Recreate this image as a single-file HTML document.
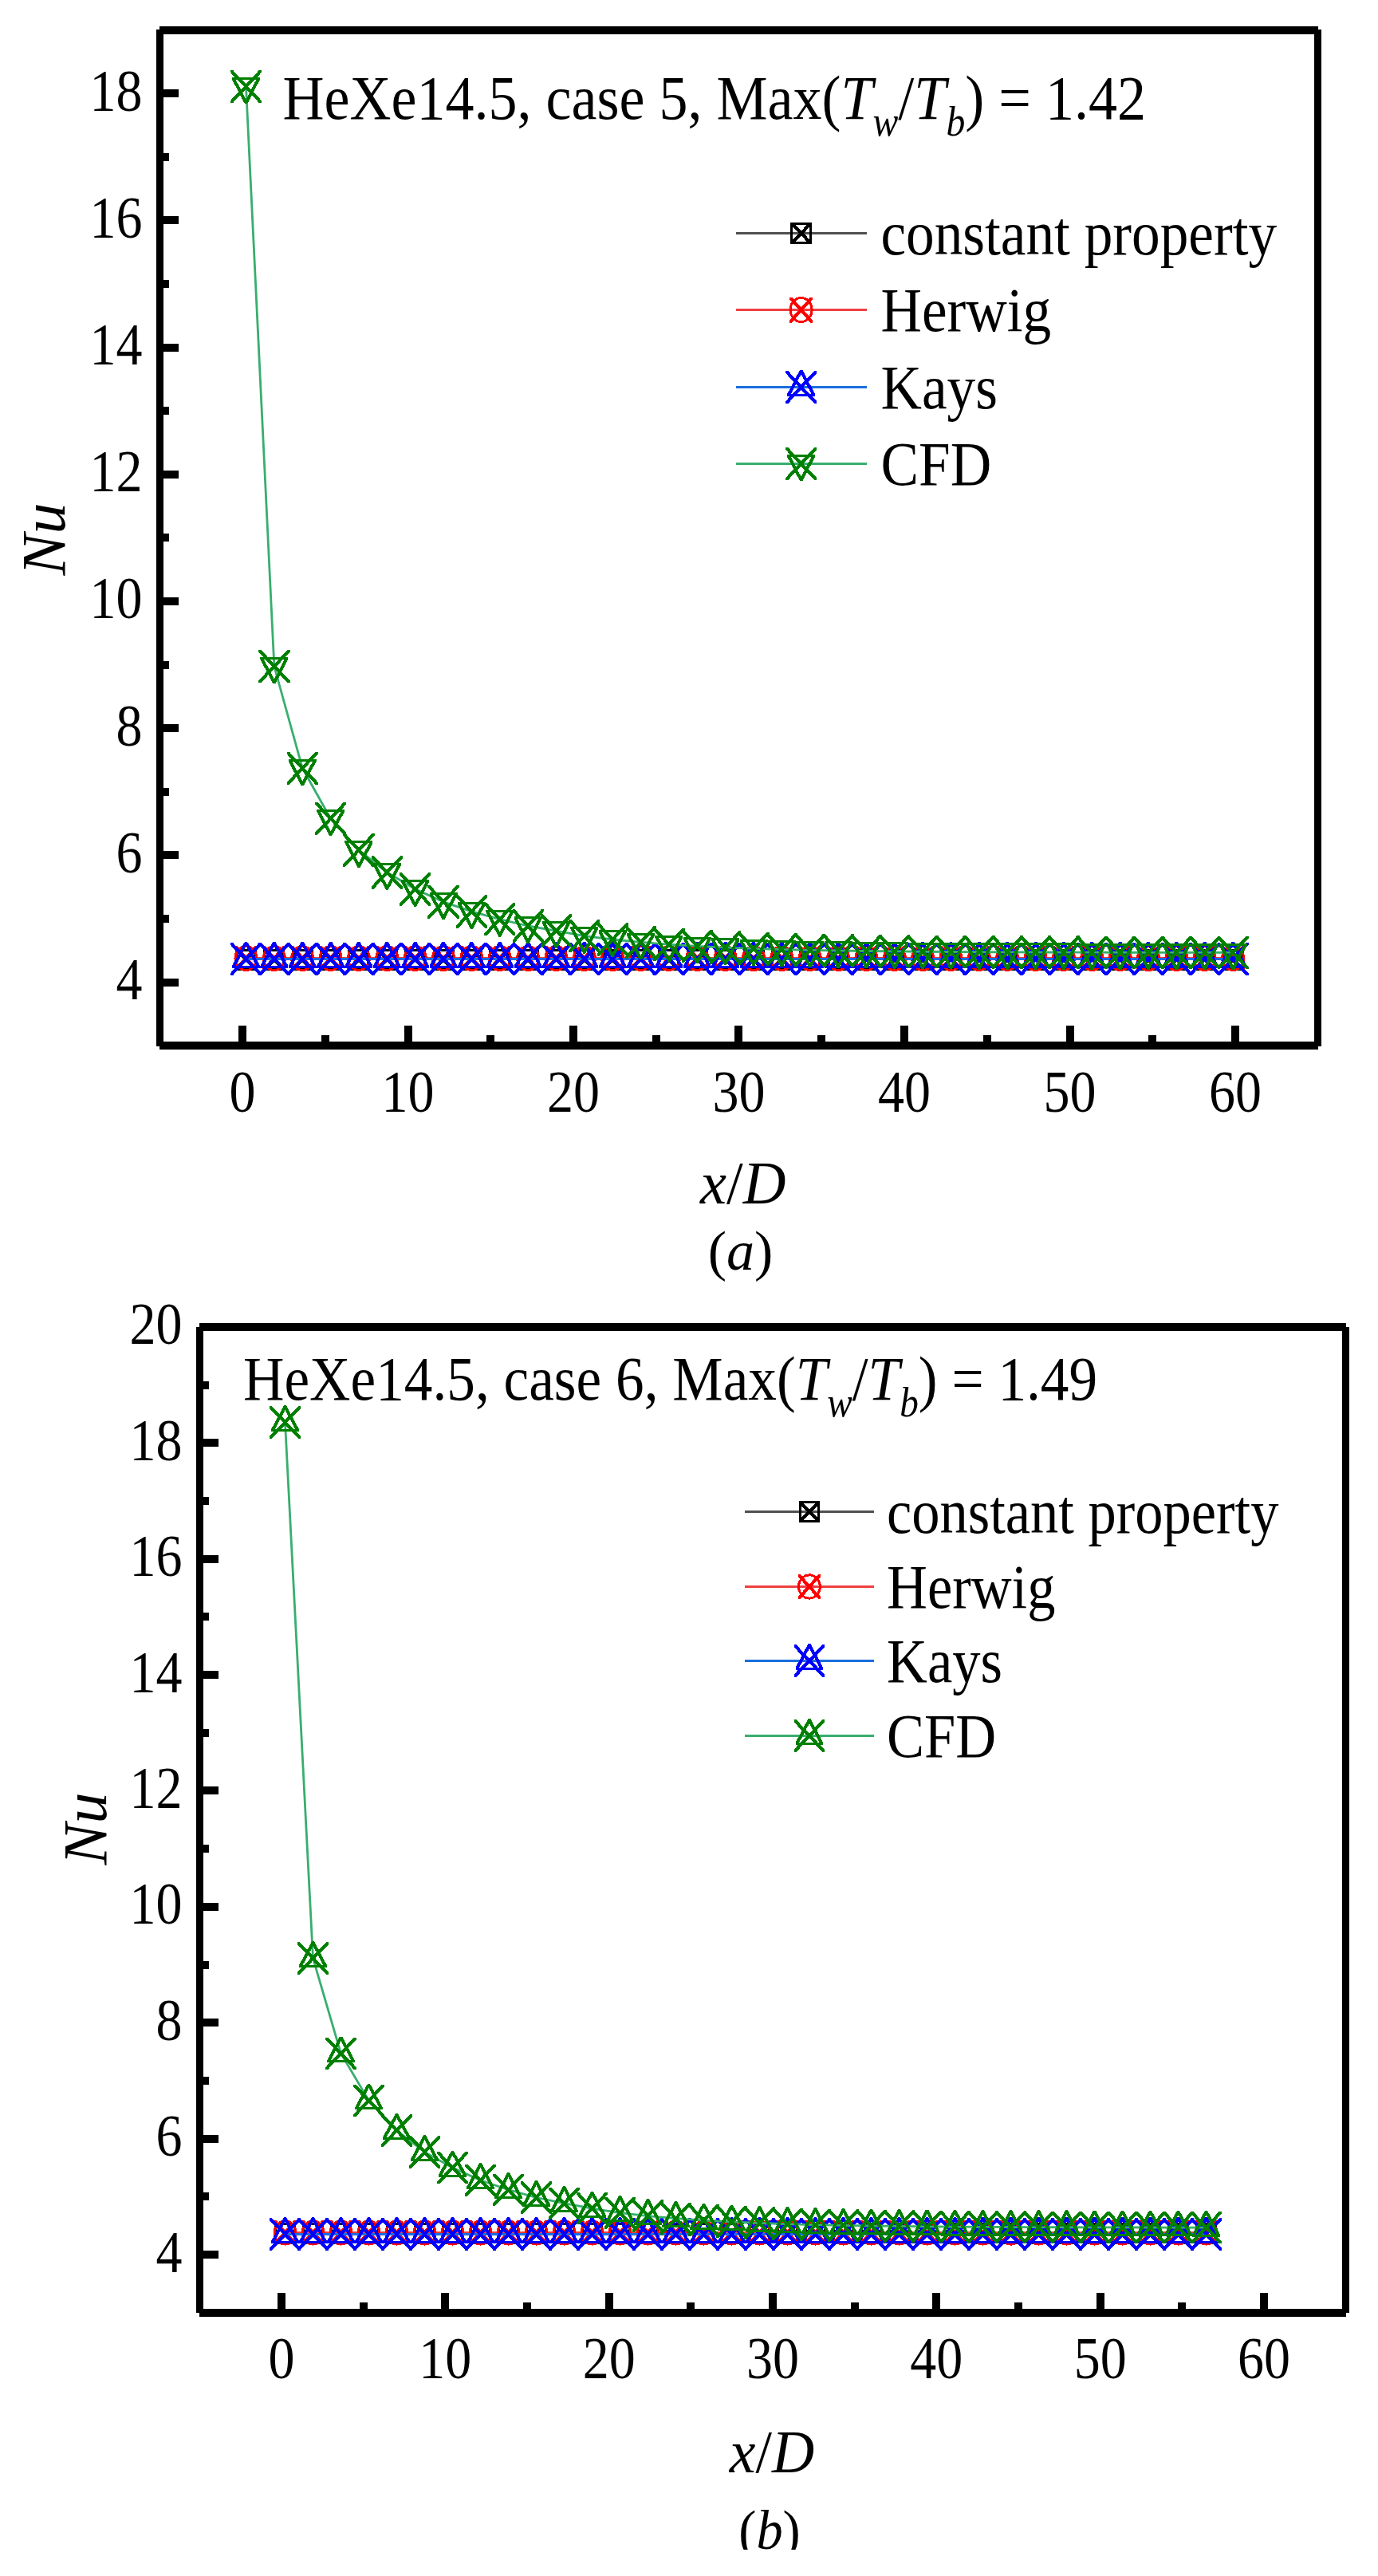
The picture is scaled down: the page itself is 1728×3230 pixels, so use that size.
<!DOCTYPE html>
<html lang="en"><head><meta charset="utf-8"><title>Nu vs x/D</title>
<style>html,body{margin:0;padding:0;background:#fff}svg{display:block}text{font-kerning:none;font-variant-ligatures:none;white-space:pre}</style></head>
<body>
<svg width="1728" height="3230" viewBox="0 0 1728 3230" font-family='"Liberation Serif", serif' fill="#000">
<rect width="1728" height="3230" fill="#fff"/>
<path d="M308.50 1202.50L343.86 1202.50L379.22 1202.50L414.58 1202.50L449.94 1202.50L485.30 1202.50L520.66 1202.50L556.02 1202.50L591.38 1202.50L626.74 1202.50L662.10 1202.50L697.46 1202.50L732.82 1202.50L768.18 1202.50L803.54 1202.50L838.90 1202.50L874.26 1202.50L909.62 1202.50L944.98 1202.50L980.34 1202.50L1015.70 1202.50L1051.06 1202.50L1086.42 1202.50L1121.78 1202.50L1157.14 1202.50L1192.50 1202.50L1227.86 1202.50L1263.22 1202.50L1298.58 1202.50L1333.94 1202.50L1369.30 1202.50L1404.66 1202.50L1440.02 1202.50L1475.38 1202.50L1510.74 1202.50L1546.10 1202.50" fill="none" stroke="#505050" stroke-width="3" stroke-linejoin="round"/>
<g fill="#000000" shape-rendering="crispEdges">
<path d="M295 1189.5L322 1189.5L322 1192.5L295 1192.5ZM319 1189.5L322 1189.5L322 1216.9L319 1216.9ZM295 1213.9L322 1213.9L322 1216.9L295 1216.9ZM295 1189.5L298 1189.5L298 1216.9L295 1216.9ZM295 1189.5L298 1189.5L322 1213.9L322 1216.9L319 1216.9L295 1192.5ZM295 1213.9L319 1189.5L322 1189.5L322 1192.5L298 1216.9L295 1216.9Z"/>
<path d="M330.4 1189.5L357.4 1189.5L357.4 1192.5L330.4 1192.5ZM354.4 1189.5L357.4 1189.5L357.4 1216.9L354.4 1216.9ZM330.4 1213.9L357.4 1213.9L357.4 1216.9L330.4 1216.9ZM330.4 1189.5L333.4 1189.5L333.4 1216.9L330.4 1216.9ZM330.4 1189.5L333.4 1189.5L357.4 1213.9L357.4 1216.9L354.4 1216.9L330.4 1192.5ZM330.4 1213.9L354.4 1189.5L357.4 1189.5L357.4 1192.5L333.4 1216.9L330.4 1216.9Z"/>
<path d="M365.7 1189.5L392.7 1189.5L392.7 1192.5L365.7 1192.5ZM389.7 1189.5L392.7 1189.5L392.7 1216.9L389.7 1216.9ZM365.7 1213.9L392.7 1213.9L392.7 1216.9L365.7 1216.9ZM365.7 1189.5L368.7 1189.5L368.7 1216.9L365.7 1216.9ZM365.7 1189.5L368.7 1189.5L392.7 1213.9L392.7 1216.9L389.7 1216.9L365.7 1192.5ZM365.7 1213.9L389.7 1189.5L392.7 1189.5L392.7 1192.5L368.7 1216.9L365.7 1216.9Z"/>
<path d="M401.1 1189.5L428.1 1189.5L428.1 1192.5L401.1 1192.5ZM425.1 1189.5L428.1 1189.5L428.1 1216.9L425.1 1216.9ZM401.1 1213.9L428.1 1213.9L428.1 1216.9L401.1 1216.9ZM401.1 1189.5L404.1 1189.5L404.1 1216.9L401.1 1216.9ZM401.1 1189.5L404.1 1189.5L428.1 1213.9L428.1 1216.9L425.1 1216.9L401.1 1192.5ZM401.1 1213.9L425.1 1189.5L428.1 1189.5L428.1 1192.5L404.1 1216.9L401.1 1216.9Z"/>
<path d="M436.4 1189.5L463.4 1189.5L463.4 1192.5L436.4 1192.5ZM460.4 1189.5L463.4 1189.5L463.4 1216.9L460.4 1216.9ZM436.4 1213.9L463.4 1213.9L463.4 1216.9L436.4 1216.9ZM436.4 1189.5L439.4 1189.5L439.4 1216.9L436.4 1216.9ZM436.4 1189.5L439.4 1189.5L463.4 1213.9L463.4 1216.9L460.4 1216.9L436.4 1192.5ZM436.4 1213.9L460.4 1189.5L463.4 1189.5L463.4 1192.5L439.4 1216.9L436.4 1216.9Z"/>
<path d="M471.8 1189.5L498.8 1189.5L498.8 1192.5L471.8 1192.5ZM495.8 1189.5L498.8 1189.5L498.8 1216.9L495.8 1216.9ZM471.8 1213.9L498.8 1213.9L498.8 1216.9L471.8 1216.9ZM471.8 1189.5L474.8 1189.5L474.8 1216.9L471.8 1216.9ZM471.8 1189.5L474.8 1189.5L498.8 1213.9L498.8 1216.9L495.8 1216.9L471.8 1192.5ZM471.8 1213.9L495.8 1189.5L498.8 1189.5L498.8 1192.5L474.8 1216.9L471.8 1216.9Z"/>
<path d="M507.2 1189.5L534.2 1189.5L534.2 1192.5L507.2 1192.5ZM531.2 1189.5L534.2 1189.5L534.2 1216.9L531.2 1216.9ZM507.2 1213.9L534.2 1213.9L534.2 1216.9L507.2 1216.9ZM507.2 1189.5L510.2 1189.5L510.2 1216.9L507.2 1216.9ZM507.2 1189.5L510.2 1189.5L534.2 1213.9L534.2 1216.9L531.2 1216.9L507.2 1192.5ZM507.2 1213.9L531.2 1189.5L534.2 1189.5L534.2 1192.5L510.2 1216.9L507.2 1216.9Z"/>
<path d="M542.5 1189.5L569.5 1189.5L569.5 1192.5L542.5 1192.5ZM566.5 1189.5L569.5 1189.5L569.5 1216.9L566.5 1216.9ZM542.5 1213.9L569.5 1213.9L569.5 1216.9L542.5 1216.9ZM542.5 1189.5L545.5 1189.5L545.5 1216.9L542.5 1216.9ZM542.5 1189.5L545.5 1189.5L569.5 1213.9L569.5 1216.9L566.5 1216.9L542.5 1192.5ZM542.5 1213.9L566.5 1189.5L569.5 1189.5L569.5 1192.5L545.5 1216.9L542.5 1216.9Z"/>
<path d="M577.9 1189.5L604.9 1189.5L604.9 1192.5L577.9 1192.5ZM601.9 1189.5L604.9 1189.5L604.9 1216.9L601.9 1216.9ZM577.9 1213.9L604.9 1213.9L604.9 1216.9L577.9 1216.9ZM577.9 1189.5L580.9 1189.5L580.9 1216.9L577.9 1216.9ZM577.9 1189.5L580.9 1189.5L604.9 1213.9L604.9 1216.9L601.9 1216.9L577.9 1192.5ZM577.9 1213.9L601.9 1189.5L604.9 1189.5L604.9 1192.5L580.9 1216.9L577.9 1216.9Z"/>
<path d="M613.2 1189.5L640.2 1189.5L640.2 1192.5L613.2 1192.5ZM637.2 1189.5L640.2 1189.5L640.2 1216.9L637.2 1216.9ZM613.2 1213.9L640.2 1213.9L640.2 1216.9L613.2 1216.9ZM613.2 1189.5L616.2 1189.5L616.2 1216.9L613.2 1216.9ZM613.2 1189.5L616.2 1189.5L640.2 1213.9L640.2 1216.9L637.2 1216.9L613.2 1192.5ZM613.2 1213.9L637.2 1189.5L640.2 1189.5L640.2 1192.5L616.2 1216.9L613.2 1216.9Z"/>
<path d="M648.6 1189.5L675.6 1189.5L675.6 1192.5L648.6 1192.5ZM672.6 1189.5L675.6 1189.5L675.6 1216.9L672.6 1216.9ZM648.6 1213.9L675.6 1213.9L675.6 1216.9L648.6 1216.9ZM648.6 1189.5L651.6 1189.5L651.6 1216.9L648.6 1216.9ZM648.6 1189.5L651.6 1189.5L675.6 1213.9L675.6 1216.9L672.6 1216.9L648.6 1192.5ZM648.6 1213.9L672.6 1189.5L675.6 1189.5L675.6 1192.5L651.6 1216.9L648.6 1216.9Z"/>
<path d="M684 1189.5L711 1189.5L711 1192.5L684 1192.5ZM708 1189.5L711 1189.5L711 1216.9L708 1216.9ZM684 1213.9L711 1213.9L711 1216.9L684 1216.9ZM684 1189.5L687 1189.5L687 1216.9L684 1216.9ZM684 1189.5L687 1189.5L711 1213.9L711 1216.9L708 1216.9L684 1192.5ZM684 1213.9L708 1189.5L711 1189.5L711 1192.5L687 1216.9L684 1216.9Z"/>
<path d="M719.3 1189.5L746.3 1189.5L746.3 1192.5L719.3 1192.5ZM743.3 1189.5L746.3 1189.5L746.3 1216.9L743.3 1216.9ZM719.3 1213.9L746.3 1213.9L746.3 1216.9L719.3 1216.9ZM719.3 1189.5L722.3 1189.5L722.3 1216.9L719.3 1216.9ZM719.3 1189.5L722.3 1189.5L746.3 1213.9L746.3 1216.9L743.3 1216.9L719.3 1192.5ZM719.3 1213.9L743.3 1189.5L746.3 1189.5L746.3 1192.5L722.3 1216.9L719.3 1216.9Z"/>
<path d="M754.7 1189.5L781.7 1189.5L781.7 1192.5L754.7 1192.5ZM778.7 1189.5L781.7 1189.5L781.7 1216.9L778.7 1216.9ZM754.7 1213.9L781.7 1213.9L781.7 1216.9L754.7 1216.9ZM754.7 1189.5L757.7 1189.5L757.7 1216.9L754.7 1216.9ZM754.7 1189.5L757.7 1189.5L781.7 1213.9L781.7 1216.9L778.7 1216.9L754.7 1192.5ZM754.7 1213.9L778.7 1189.5L781.7 1189.5L781.7 1192.5L757.7 1216.9L754.7 1216.9Z"/>
<path d="M790 1189.5L817 1189.5L817 1192.5L790 1192.5ZM814 1189.5L817 1189.5L817 1216.9L814 1216.9ZM790 1213.9L817 1213.9L817 1216.9L790 1216.9ZM790 1189.5L793 1189.5L793 1216.9L790 1216.9ZM790 1189.5L793 1189.5L817 1213.9L817 1216.9L814 1216.9L790 1192.5ZM790 1213.9L814 1189.5L817 1189.5L817 1192.5L793 1216.9L790 1216.9Z"/>
<path d="M825.4 1189.5L852.4 1189.5L852.4 1192.5L825.4 1192.5ZM849.4 1189.5L852.4 1189.5L852.4 1216.9L849.4 1216.9ZM825.4 1213.9L852.4 1213.9L852.4 1216.9L825.4 1216.9ZM825.4 1189.5L828.4 1189.5L828.4 1216.9L825.4 1216.9ZM825.4 1189.5L828.4 1189.5L852.4 1213.9L852.4 1216.9L849.4 1216.9L825.4 1192.5ZM825.4 1213.9L849.4 1189.5L852.4 1189.5L852.4 1192.5L828.4 1216.9L825.4 1216.9Z"/>
<path d="M860.8 1189.5L887.8 1189.5L887.8 1192.5L860.8 1192.5ZM884.8 1189.5L887.8 1189.5L887.8 1216.9L884.8 1216.9ZM860.8 1213.9L887.8 1213.9L887.8 1216.9L860.8 1216.9ZM860.8 1189.5L863.8 1189.5L863.8 1216.9L860.8 1216.9ZM860.8 1189.5L863.8 1189.5L887.8 1213.9L887.8 1216.9L884.8 1216.9L860.8 1192.5ZM860.8 1213.9L884.8 1189.5L887.8 1189.5L887.8 1192.5L863.8 1216.9L860.8 1216.9Z"/>
<path d="M896.1 1189.5L923.1 1189.5L923.1 1192.5L896.1 1192.5ZM920.1 1189.5L923.1 1189.5L923.1 1216.9L920.1 1216.9ZM896.1 1213.9L923.1 1213.9L923.1 1216.9L896.1 1216.9ZM896.1 1189.5L899.1 1189.5L899.1 1216.9L896.1 1216.9ZM896.1 1189.5L899.1 1189.5L923.1 1213.9L923.1 1216.9L920.1 1216.9L896.1 1192.5ZM896.1 1213.9L920.1 1189.5L923.1 1189.5L923.1 1192.5L899.1 1216.9L896.1 1216.9Z"/>
<path d="M931.5 1189.5L958.5 1189.5L958.5 1192.5L931.5 1192.5ZM955.5 1189.5L958.5 1189.5L958.5 1216.9L955.5 1216.9ZM931.5 1213.9L958.5 1213.9L958.5 1216.9L931.5 1216.9ZM931.5 1189.5L934.5 1189.5L934.5 1216.9L931.5 1216.9ZM931.5 1189.5L934.5 1189.5L958.5 1213.9L958.5 1216.9L955.5 1216.9L931.5 1192.5ZM931.5 1213.9L955.5 1189.5L958.5 1189.5L958.5 1192.5L934.5 1216.9L931.5 1216.9Z"/>
<path d="M966.8 1189.5L993.8 1189.5L993.8 1192.5L966.8 1192.5ZM990.8 1189.5L993.8 1189.5L993.8 1216.9L990.8 1216.9ZM966.8 1213.9L993.8 1213.9L993.8 1216.9L966.8 1216.9ZM966.8 1189.5L969.8 1189.5L969.8 1216.9L966.8 1216.9ZM966.8 1189.5L969.8 1189.5L993.8 1213.9L993.8 1216.9L990.8 1216.9L966.8 1192.5ZM966.8 1213.9L990.8 1189.5L993.8 1189.5L993.8 1192.5L969.8 1216.9L966.8 1216.9Z"/>
<path d="M1002.2 1189.5L1029.2 1189.5L1029.2 1192.5L1002.2 1192.5ZM1026.2 1189.5L1029.2 1189.5L1029.2 1216.9L1026.2 1216.9ZM1002.2 1213.9L1029.2 1213.9L1029.2 1216.9L1002.2 1216.9ZM1002.2 1189.5L1005.2 1189.5L1005.2 1216.9L1002.2 1216.9ZM1002.2 1189.5L1005.2 1189.5L1029.2 1213.9L1029.2 1216.9L1026.2 1216.9L1002.2 1192.5ZM1002.2 1213.9L1026.2 1189.5L1029.2 1189.5L1029.2 1192.5L1005.2 1216.9L1002.2 1216.9Z"/>
<path d="M1037.6 1189.5L1064.6 1189.5L1064.6 1192.5L1037.6 1192.5ZM1061.6 1189.5L1064.6 1189.5L1064.6 1216.9L1061.6 1216.9ZM1037.6 1213.9L1064.6 1213.9L1064.6 1216.9L1037.6 1216.9ZM1037.6 1189.5L1040.6 1189.5L1040.6 1216.9L1037.6 1216.9ZM1037.6 1189.5L1040.6 1189.5L1064.6 1213.9L1064.6 1216.9L1061.6 1216.9L1037.6 1192.5ZM1037.6 1213.9L1061.6 1189.5L1064.6 1189.5L1064.6 1192.5L1040.6 1216.9L1037.6 1216.9Z"/>
<path d="M1072.9 1189.5L1099.9 1189.5L1099.9 1192.5L1072.9 1192.5ZM1096.9 1189.5L1099.9 1189.5L1099.9 1216.9L1096.9 1216.9ZM1072.9 1213.9L1099.9 1213.9L1099.9 1216.9L1072.9 1216.9ZM1072.9 1189.5L1075.9 1189.5L1075.9 1216.9L1072.9 1216.9ZM1072.9 1189.5L1075.9 1189.5L1099.9 1213.9L1099.9 1216.9L1096.9 1216.9L1072.9 1192.5ZM1072.9 1213.9L1096.9 1189.5L1099.9 1189.5L1099.9 1192.5L1075.9 1216.9L1072.9 1216.9Z"/>
<path d="M1108.3 1189.5L1135.3 1189.5L1135.3 1192.5L1108.3 1192.5ZM1132.3 1189.5L1135.3 1189.5L1135.3 1216.9L1132.3 1216.9ZM1108.3 1213.9L1135.3 1213.9L1135.3 1216.9L1108.3 1216.9ZM1108.3 1189.5L1111.3 1189.5L1111.3 1216.9L1108.3 1216.9ZM1108.3 1189.5L1111.3 1189.5L1135.3 1213.9L1135.3 1216.9L1132.3 1216.9L1108.3 1192.5ZM1108.3 1213.9L1132.3 1189.5L1135.3 1189.5L1135.3 1192.5L1111.3 1216.9L1108.3 1216.9Z"/>
<path d="M1143.6 1189.5L1170.6 1189.5L1170.6 1192.5L1143.6 1192.5ZM1167.6 1189.5L1170.6 1189.5L1170.6 1216.9L1167.6 1216.9ZM1143.6 1213.9L1170.6 1213.9L1170.6 1216.9L1143.6 1216.9ZM1143.6 1189.5L1146.6 1189.5L1146.6 1216.9L1143.6 1216.9ZM1143.6 1189.5L1146.6 1189.5L1170.6 1213.9L1170.6 1216.9L1167.6 1216.9L1143.6 1192.5ZM1143.6 1213.9L1167.6 1189.5L1170.6 1189.5L1170.6 1192.5L1146.6 1216.9L1143.6 1216.9Z"/>
<path d="M1179 1189.5L1206 1189.5L1206 1192.5L1179 1192.5ZM1203 1189.5L1206 1189.5L1206 1216.9L1203 1216.9ZM1179 1213.9L1206 1213.9L1206 1216.9L1179 1216.9ZM1179 1189.5L1182 1189.5L1182 1216.9L1179 1216.9ZM1179 1189.5L1182 1189.5L1206 1213.9L1206 1216.9L1203 1216.9L1179 1192.5ZM1179 1213.9L1203 1189.5L1206 1189.5L1206 1192.5L1182 1216.9L1179 1216.9Z"/>
<path d="M1214.4 1189.5L1241.4 1189.5L1241.4 1192.5L1214.4 1192.5ZM1238.4 1189.5L1241.4 1189.5L1241.4 1216.9L1238.4 1216.9ZM1214.4 1213.9L1241.4 1213.9L1241.4 1216.9L1214.4 1216.9ZM1214.4 1189.5L1217.4 1189.5L1217.4 1216.9L1214.4 1216.9ZM1214.4 1189.5L1217.4 1189.5L1241.4 1213.9L1241.4 1216.9L1238.4 1216.9L1214.4 1192.5ZM1214.4 1213.9L1238.4 1189.5L1241.4 1189.5L1241.4 1192.5L1217.4 1216.9L1214.4 1216.9Z"/>
<path d="M1249.7 1189.5L1276.7 1189.5L1276.7 1192.5L1249.7 1192.5ZM1273.7 1189.5L1276.7 1189.5L1276.7 1216.9L1273.7 1216.9ZM1249.7 1213.9L1276.7 1213.9L1276.7 1216.9L1249.7 1216.9ZM1249.7 1189.5L1252.7 1189.5L1252.7 1216.9L1249.7 1216.9ZM1249.7 1189.5L1252.7 1189.5L1276.7 1213.9L1276.7 1216.9L1273.7 1216.9L1249.7 1192.5ZM1249.7 1213.9L1273.7 1189.5L1276.7 1189.5L1276.7 1192.5L1252.7 1216.9L1249.7 1216.9Z"/>
<path d="M1285.1 1189.5L1312.1 1189.5L1312.1 1192.5L1285.1 1192.5ZM1309.1 1189.5L1312.1 1189.5L1312.1 1216.9L1309.1 1216.9ZM1285.1 1213.9L1312.1 1213.9L1312.1 1216.9L1285.1 1216.9ZM1285.1 1189.5L1288.1 1189.5L1288.1 1216.9L1285.1 1216.9ZM1285.1 1189.5L1288.1 1189.5L1312.1 1213.9L1312.1 1216.9L1309.1 1216.9L1285.1 1192.5ZM1285.1 1213.9L1309.1 1189.5L1312.1 1189.5L1312.1 1192.5L1288.1 1216.9L1285.1 1216.9Z"/>
<path d="M1320.4 1189.5L1347.4 1189.5L1347.4 1192.5L1320.4 1192.5ZM1344.4 1189.5L1347.4 1189.5L1347.4 1216.9L1344.4 1216.9ZM1320.4 1213.9L1347.4 1213.9L1347.4 1216.9L1320.4 1216.9ZM1320.4 1189.5L1323.4 1189.5L1323.4 1216.9L1320.4 1216.9ZM1320.4 1189.5L1323.4 1189.5L1347.4 1213.9L1347.4 1216.9L1344.4 1216.9L1320.4 1192.5ZM1320.4 1213.9L1344.4 1189.5L1347.4 1189.5L1347.4 1192.5L1323.4 1216.9L1320.4 1216.9Z"/>
<path d="M1355.8 1189.5L1382.8 1189.5L1382.8 1192.5L1355.8 1192.5ZM1379.8 1189.5L1382.8 1189.5L1382.8 1216.9L1379.8 1216.9ZM1355.8 1213.9L1382.8 1213.9L1382.8 1216.9L1355.8 1216.9ZM1355.8 1189.5L1358.8 1189.5L1358.8 1216.9L1355.8 1216.9ZM1355.8 1189.5L1358.8 1189.5L1382.8 1213.9L1382.8 1216.9L1379.8 1216.9L1355.8 1192.5ZM1355.8 1213.9L1379.8 1189.5L1382.8 1189.5L1382.8 1192.5L1358.8 1216.9L1355.8 1216.9Z"/>
<path d="M1391.2 1189.5L1418.2 1189.5L1418.2 1192.5L1391.2 1192.5ZM1415.2 1189.5L1418.2 1189.5L1418.2 1216.9L1415.2 1216.9ZM1391.2 1213.9L1418.2 1213.9L1418.2 1216.9L1391.2 1216.9ZM1391.2 1189.5L1394.2 1189.5L1394.2 1216.9L1391.2 1216.9ZM1391.2 1189.5L1394.2 1189.5L1418.2 1213.9L1418.2 1216.9L1415.2 1216.9L1391.2 1192.5ZM1391.2 1213.9L1415.2 1189.5L1418.2 1189.5L1418.2 1192.5L1394.2 1216.9L1391.2 1216.9Z"/>
<path d="M1426.5 1189.5L1453.5 1189.5L1453.5 1192.5L1426.5 1192.5ZM1450.5 1189.5L1453.5 1189.5L1453.5 1216.9L1450.5 1216.9ZM1426.5 1213.9L1453.5 1213.9L1453.5 1216.9L1426.5 1216.9ZM1426.5 1189.5L1429.5 1189.5L1429.5 1216.9L1426.5 1216.9ZM1426.5 1189.5L1429.5 1189.5L1453.5 1213.9L1453.5 1216.9L1450.5 1216.9L1426.5 1192.5ZM1426.5 1213.9L1450.5 1189.5L1453.5 1189.5L1453.5 1192.5L1429.5 1216.9L1426.5 1216.9Z"/>
<path d="M1461.9 1189.5L1488.9 1189.5L1488.9 1192.5L1461.9 1192.5ZM1485.9 1189.5L1488.9 1189.5L1488.9 1216.9L1485.9 1216.9ZM1461.9 1213.9L1488.9 1213.9L1488.9 1216.9L1461.9 1216.9ZM1461.9 1189.5L1464.9 1189.5L1464.9 1216.9L1461.9 1216.9ZM1461.9 1189.5L1464.9 1189.5L1488.9 1213.9L1488.9 1216.9L1485.9 1216.9L1461.9 1192.5ZM1461.9 1213.9L1485.9 1189.5L1488.9 1189.5L1488.9 1192.5L1464.9 1216.9L1461.9 1216.9Z"/>
<path d="M1497.2 1189.5L1524.2 1189.5L1524.2 1192.5L1497.2 1192.5ZM1521.2 1189.5L1524.2 1189.5L1524.2 1216.9L1521.2 1216.9ZM1497.2 1213.9L1524.2 1213.9L1524.2 1216.9L1497.2 1216.9ZM1497.2 1189.5L1500.2 1189.5L1500.2 1216.9L1497.2 1216.9ZM1497.2 1189.5L1500.2 1189.5L1524.2 1213.9L1524.2 1216.9L1521.2 1216.9L1497.2 1192.5ZM1497.2 1213.9L1521.2 1189.5L1524.2 1189.5L1524.2 1192.5L1500.2 1216.9L1497.2 1216.9Z"/>
<path d="M1532.6 1189.5L1559.6 1189.5L1559.6 1192.5L1532.6 1192.5ZM1556.6 1189.5L1559.6 1189.5L1559.6 1216.9L1556.6 1216.9ZM1532.6 1213.9L1559.6 1213.9L1559.6 1216.9L1532.6 1216.9ZM1532.6 1189.5L1535.6 1189.5L1535.6 1216.9L1532.6 1216.9ZM1532.6 1189.5L1535.6 1189.5L1559.6 1213.9L1559.6 1216.9L1556.6 1216.9L1532.6 1192.5ZM1532.6 1213.9L1556.6 1189.5L1559.6 1189.5L1559.6 1192.5L1535.6 1216.9L1532.6 1216.9Z"/>
</g>
<path d="M308.50 1201.50L343.86 1201.50L379.22 1201.50L414.58 1201.50L449.94 1201.50L485.30 1201.50L520.66 1201.50L556.02 1201.50L591.38 1201.50L626.74 1201.50L662.10 1201.50L697.46 1201.50L732.82 1201.50L768.18 1201.50L803.54 1201.50L838.90 1201.50L874.26 1201.50L909.62 1201.50L944.98 1201.50L980.34 1201.50L1015.70 1201.50L1051.06 1201.50L1086.42 1201.50L1121.78 1201.50L1157.14 1201.50L1192.50 1201.50L1227.86 1201.50L1263.22 1201.50L1298.58 1201.50L1333.94 1201.50L1369.30 1201.50L1404.66 1201.50L1440.02 1201.50L1475.38 1201.50L1510.74 1201.50L1546.10 1201.50" fill="none" stroke="#ef4040" stroke-width="3" stroke-linejoin="round"/>
<g fill="#ff0000" shape-rendering="crispEdges">
<ellipse cx="308.5" cy="1201.5" rx="13.5" ry="15.0" fill="none" stroke="#ff0000" stroke-width="3"/><path d="M294 1185.5L297 1185.5L323 1214.5L323 1217.5L320 1217.5L294 1188.5ZM294 1214.5L320 1185.5L323 1185.5L323 1188.5L297 1217.5L294 1217.5Z"/>
<ellipse cx="343.9" cy="1201.5" rx="13.5" ry="15.0" fill="none" stroke="#ff0000" stroke-width="3"/><path d="M329.4 1185.5L332.4 1185.5L358.4 1214.5L358.4 1217.5L355.4 1217.5L329.4 1188.5ZM329.4 1214.5L355.4 1185.5L358.4 1185.5L358.4 1188.5L332.4 1217.5L329.4 1217.5Z"/>
<ellipse cx="379.2" cy="1201.5" rx="13.5" ry="15.0" fill="none" stroke="#ff0000" stroke-width="3"/><path d="M364.7 1185.5L367.7 1185.5L393.7 1214.5L393.7 1217.5L390.7 1217.5L364.7 1188.5ZM364.7 1214.5L390.7 1185.5L393.7 1185.5L393.7 1188.5L367.7 1217.5L364.7 1217.5Z"/>
<ellipse cx="414.6" cy="1201.5" rx="13.5" ry="15.0" fill="none" stroke="#ff0000" stroke-width="3"/><path d="M400.1 1185.5L403.1 1185.5L429.1 1214.5L429.1 1217.5L426.1 1217.5L400.1 1188.5ZM400.1 1214.5L426.1 1185.5L429.1 1185.5L429.1 1188.5L403.1 1217.5L400.1 1217.5Z"/>
<ellipse cx="449.9" cy="1201.5" rx="13.5" ry="15.0" fill="none" stroke="#ff0000" stroke-width="3"/><path d="M435.4 1185.5L438.4 1185.5L464.4 1214.5L464.4 1217.5L461.4 1217.5L435.4 1188.5ZM435.4 1214.5L461.4 1185.5L464.4 1185.5L464.4 1188.5L438.4 1217.5L435.4 1217.5Z"/>
<ellipse cx="485.3" cy="1201.5" rx="13.5" ry="15.0" fill="none" stroke="#ff0000" stroke-width="3"/><path d="M470.8 1185.5L473.8 1185.5L499.8 1214.5L499.8 1217.5L496.8 1217.5L470.8 1188.5ZM470.8 1214.5L496.8 1185.5L499.8 1185.5L499.8 1188.5L473.8 1217.5L470.8 1217.5Z"/>
<ellipse cx="520.7" cy="1201.5" rx="13.5" ry="15.0" fill="none" stroke="#ff0000" stroke-width="3"/><path d="M506.2 1185.5L509.2 1185.5L535.2 1214.5L535.2 1217.5L532.2 1217.5L506.2 1188.5ZM506.2 1214.5L532.2 1185.5L535.2 1185.5L535.2 1188.5L509.2 1217.5L506.2 1217.5Z"/>
<ellipse cx="556.0" cy="1201.5" rx="13.5" ry="15.0" fill="none" stroke="#ff0000" stroke-width="3"/><path d="M541.5 1185.5L544.5 1185.5L570.5 1214.5L570.5 1217.5L567.5 1217.5L541.5 1188.5ZM541.5 1214.5L567.5 1185.5L570.5 1185.5L570.5 1188.5L544.5 1217.5L541.5 1217.5Z"/>
<ellipse cx="591.4" cy="1201.5" rx="13.5" ry="15.0" fill="none" stroke="#ff0000" stroke-width="3"/><path d="M576.9 1185.5L579.9 1185.5L605.9 1214.5L605.9 1217.5L602.9 1217.5L576.9 1188.5ZM576.9 1214.5L602.9 1185.5L605.9 1185.5L605.9 1188.5L579.9 1217.5L576.9 1217.5Z"/>
<ellipse cx="626.7" cy="1201.5" rx="13.5" ry="15.0" fill="none" stroke="#ff0000" stroke-width="3"/><path d="M612.2 1185.5L615.2 1185.5L641.2 1214.5L641.2 1217.5L638.2 1217.5L612.2 1188.5ZM612.2 1214.5L638.2 1185.5L641.2 1185.5L641.2 1188.5L615.2 1217.5L612.2 1217.5Z"/>
<ellipse cx="662.1" cy="1201.5" rx="13.5" ry="15.0" fill="none" stroke="#ff0000" stroke-width="3"/><path d="M647.6 1185.5L650.6 1185.5L676.6 1214.5L676.6 1217.5L673.6 1217.5L647.6 1188.5ZM647.6 1214.5L673.6 1185.5L676.6 1185.5L676.6 1188.5L650.6 1217.5L647.6 1217.5Z"/>
<ellipse cx="697.5" cy="1201.5" rx="13.5" ry="15.0" fill="none" stroke="#ff0000" stroke-width="3"/><path d="M683 1185.5L686 1185.5L712 1214.5L712 1217.5L709 1217.5L683 1188.5ZM683 1214.5L709 1185.5L712 1185.5L712 1188.5L686 1217.5L683 1217.5Z"/>
<ellipse cx="732.8" cy="1201.5" rx="13.5" ry="15.0" fill="none" stroke="#ff0000" stroke-width="3"/><path d="M718.3 1185.5L721.3 1185.5L747.3 1214.5L747.3 1217.5L744.3 1217.5L718.3 1188.5ZM718.3 1214.5L744.3 1185.5L747.3 1185.5L747.3 1188.5L721.3 1217.5L718.3 1217.5Z"/>
<ellipse cx="768.2" cy="1201.5" rx="13.5" ry="15.0" fill="none" stroke="#ff0000" stroke-width="3"/><path d="M753.7 1185.5L756.7 1185.5L782.7 1214.5L782.7 1217.5L779.7 1217.5L753.7 1188.5ZM753.7 1214.5L779.7 1185.5L782.7 1185.5L782.7 1188.5L756.7 1217.5L753.7 1217.5Z"/>
<ellipse cx="803.5" cy="1201.5" rx="13.5" ry="15.0" fill="none" stroke="#ff0000" stroke-width="3"/><path d="M789 1185.5L792 1185.5L818 1214.5L818 1217.5L815 1217.5L789 1188.5ZM789 1214.5L815 1185.5L818 1185.5L818 1188.5L792 1217.5L789 1217.5Z"/>
<ellipse cx="838.9" cy="1201.5" rx="13.5" ry="15.0" fill="none" stroke="#ff0000" stroke-width="3"/><path d="M824.4 1185.5L827.4 1185.5L853.4 1214.5L853.4 1217.5L850.4 1217.5L824.4 1188.5ZM824.4 1214.5L850.4 1185.5L853.4 1185.5L853.4 1188.5L827.4 1217.5L824.4 1217.5Z"/>
<ellipse cx="874.3" cy="1201.5" rx="13.5" ry="15.0" fill="none" stroke="#ff0000" stroke-width="3"/><path d="M859.8 1185.5L862.8 1185.5L888.8 1214.5L888.8 1217.5L885.8 1217.5L859.8 1188.5ZM859.8 1214.5L885.8 1185.5L888.8 1185.5L888.8 1188.5L862.8 1217.5L859.8 1217.5Z"/>
<ellipse cx="909.6" cy="1201.5" rx="13.5" ry="15.0" fill="none" stroke="#ff0000" stroke-width="3"/><path d="M895.1 1185.5L898.1 1185.5L924.1 1214.5L924.1 1217.5L921.1 1217.5L895.1 1188.5ZM895.1 1214.5L921.1 1185.5L924.1 1185.5L924.1 1188.5L898.1 1217.5L895.1 1217.5Z"/>
<ellipse cx="945.0" cy="1201.5" rx="13.5" ry="15.0" fill="none" stroke="#ff0000" stroke-width="3"/><path d="M930.5 1185.5L933.5 1185.5L959.5 1214.5L959.5 1217.5L956.5 1217.5L930.5 1188.5ZM930.5 1214.5L956.5 1185.5L959.5 1185.5L959.5 1188.5L933.5 1217.5L930.5 1217.5Z"/>
<ellipse cx="980.3" cy="1201.5" rx="13.5" ry="15.0" fill="none" stroke="#ff0000" stroke-width="3"/><path d="M965.8 1185.5L968.8 1185.5L994.8 1214.5L994.8 1217.5L991.8 1217.5L965.8 1188.5ZM965.8 1214.5L991.8 1185.5L994.8 1185.5L994.8 1188.5L968.8 1217.5L965.8 1217.5Z"/>
<ellipse cx="1015.7" cy="1201.5" rx="13.5" ry="15.0" fill="none" stroke="#ff0000" stroke-width="3"/><path d="M1001.2 1185.5L1004.2 1185.5L1030.2 1214.5L1030.2 1217.5L1027.2 1217.5L1001.2 1188.5ZM1001.2 1214.5L1027.2 1185.5L1030.2 1185.5L1030.2 1188.5L1004.2 1217.5L1001.2 1217.5Z"/>
<ellipse cx="1051.1" cy="1201.5" rx="13.5" ry="15.0" fill="none" stroke="#ff0000" stroke-width="3"/><path d="M1036.6 1185.5L1039.6 1185.5L1065.6 1214.5L1065.6 1217.5L1062.6 1217.5L1036.6 1188.5ZM1036.6 1214.5L1062.6 1185.5L1065.6 1185.5L1065.6 1188.5L1039.6 1217.5L1036.6 1217.5Z"/>
<ellipse cx="1086.4" cy="1201.5" rx="13.5" ry="15.0" fill="none" stroke="#ff0000" stroke-width="3"/><path d="M1071.9 1185.5L1074.9 1185.5L1100.9 1214.5L1100.9 1217.5L1097.9 1217.5L1071.9 1188.5ZM1071.9 1214.5L1097.9 1185.5L1100.9 1185.5L1100.9 1188.5L1074.9 1217.5L1071.9 1217.5Z"/>
<ellipse cx="1121.8" cy="1201.5" rx="13.5" ry="15.0" fill="none" stroke="#ff0000" stroke-width="3"/><path d="M1107.3 1185.5L1110.3 1185.5L1136.3 1214.5L1136.3 1217.5L1133.3 1217.5L1107.3 1188.5ZM1107.3 1214.5L1133.3 1185.5L1136.3 1185.5L1136.3 1188.5L1110.3 1217.5L1107.3 1217.5Z"/>
<ellipse cx="1157.1" cy="1201.5" rx="13.5" ry="15.0" fill="none" stroke="#ff0000" stroke-width="3"/><path d="M1142.6 1185.5L1145.6 1185.5L1171.6 1214.5L1171.6 1217.5L1168.6 1217.5L1142.6 1188.5ZM1142.6 1214.5L1168.6 1185.5L1171.6 1185.5L1171.6 1188.5L1145.6 1217.5L1142.6 1217.5Z"/>
<ellipse cx="1192.5" cy="1201.5" rx="13.5" ry="15.0" fill="none" stroke="#ff0000" stroke-width="3"/><path d="M1178 1185.5L1181 1185.5L1207 1214.5L1207 1217.5L1204 1217.5L1178 1188.5ZM1178 1214.5L1204 1185.5L1207 1185.5L1207 1188.5L1181 1217.5L1178 1217.5Z"/>
<ellipse cx="1227.9" cy="1201.5" rx="13.5" ry="15.0" fill="none" stroke="#ff0000" stroke-width="3"/><path d="M1213.4 1185.5L1216.4 1185.5L1242.4 1214.5L1242.4 1217.5L1239.4 1217.5L1213.4 1188.5ZM1213.4 1214.5L1239.4 1185.5L1242.4 1185.5L1242.4 1188.5L1216.4 1217.5L1213.4 1217.5Z"/>
<ellipse cx="1263.2" cy="1201.5" rx="13.5" ry="15.0" fill="none" stroke="#ff0000" stroke-width="3"/><path d="M1248.7 1185.5L1251.7 1185.5L1277.7 1214.5L1277.7 1217.5L1274.7 1217.5L1248.7 1188.5ZM1248.7 1214.5L1274.7 1185.5L1277.7 1185.5L1277.7 1188.5L1251.7 1217.5L1248.7 1217.5Z"/>
<ellipse cx="1298.6" cy="1201.5" rx="13.5" ry="15.0" fill="none" stroke="#ff0000" stroke-width="3"/><path d="M1284.1 1185.5L1287.1 1185.5L1313.1 1214.5L1313.1 1217.5L1310.1 1217.5L1284.1 1188.5ZM1284.1 1214.5L1310.1 1185.5L1313.1 1185.5L1313.1 1188.5L1287.1 1217.5L1284.1 1217.5Z"/>
<ellipse cx="1333.9" cy="1201.5" rx="13.5" ry="15.0" fill="none" stroke="#ff0000" stroke-width="3"/><path d="M1319.4 1185.5L1322.4 1185.5L1348.4 1214.5L1348.4 1217.5L1345.4 1217.5L1319.4 1188.5ZM1319.4 1214.5L1345.4 1185.5L1348.4 1185.5L1348.4 1188.5L1322.4 1217.5L1319.4 1217.5Z"/>
<ellipse cx="1369.3" cy="1201.5" rx="13.5" ry="15.0" fill="none" stroke="#ff0000" stroke-width="3"/><path d="M1354.8 1185.5L1357.8 1185.5L1383.8 1214.5L1383.8 1217.5L1380.8 1217.5L1354.8 1188.5ZM1354.8 1214.5L1380.8 1185.5L1383.8 1185.5L1383.8 1188.5L1357.8 1217.5L1354.8 1217.5Z"/>
<ellipse cx="1404.7" cy="1201.5" rx="13.5" ry="15.0" fill="none" stroke="#ff0000" stroke-width="3"/><path d="M1390.2 1185.5L1393.2 1185.5L1419.2 1214.5L1419.2 1217.5L1416.2 1217.5L1390.2 1188.5ZM1390.2 1214.5L1416.2 1185.5L1419.2 1185.5L1419.2 1188.5L1393.2 1217.5L1390.2 1217.5Z"/>
<ellipse cx="1440.0" cy="1201.5" rx="13.5" ry="15.0" fill="none" stroke="#ff0000" stroke-width="3"/><path d="M1425.5 1185.5L1428.5 1185.5L1454.5 1214.5L1454.5 1217.5L1451.5 1217.5L1425.5 1188.5ZM1425.5 1214.5L1451.5 1185.5L1454.5 1185.5L1454.5 1188.5L1428.5 1217.5L1425.5 1217.5Z"/>
<ellipse cx="1475.4" cy="1201.5" rx="13.5" ry="15.0" fill="none" stroke="#ff0000" stroke-width="3"/><path d="M1460.9 1185.5L1463.9 1185.5L1489.9 1214.5L1489.9 1217.5L1486.9 1217.5L1460.9 1188.5ZM1460.9 1214.5L1486.9 1185.5L1489.9 1185.5L1489.9 1188.5L1463.9 1217.5L1460.9 1217.5Z"/>
<ellipse cx="1510.7" cy="1201.5" rx="13.5" ry="15.0" fill="none" stroke="#ff0000" stroke-width="3"/><path d="M1496.2 1185.5L1499.2 1185.5L1525.2 1214.5L1525.2 1217.5L1522.2 1217.5L1496.2 1188.5ZM1496.2 1214.5L1522.2 1185.5L1525.2 1185.5L1525.2 1188.5L1499.2 1217.5L1496.2 1217.5Z"/>
<ellipse cx="1546.1" cy="1201.5" rx="13.5" ry="15.0" fill="none" stroke="#ff0000" stroke-width="3"/><path d="M1531.6 1185.5L1534.6 1185.5L1560.6 1214.5L1560.6 1217.5L1557.6 1217.5L1531.6 1188.5ZM1531.6 1214.5L1557.6 1185.5L1560.6 1185.5L1560.6 1188.5L1534.6 1217.5L1531.6 1217.5Z"/>
</g>
<path d="M308.50 1202.50L343.86 1202.50L379.22 1202.50L414.58 1202.50L449.94 1202.50L485.30 1202.50L520.66 1202.50L556.02 1202.50L591.38 1202.50L626.74 1202.50L662.10 1202.50L697.46 1202.50L732.82 1202.50L768.18 1202.50L803.54 1202.50L838.90 1202.50L874.26 1202.50L909.62 1202.50L944.98 1202.50L980.34 1202.50L1015.70 1202.50L1051.06 1202.50L1086.42 1202.50L1121.78 1202.50L1157.14 1202.50L1192.50 1202.50L1227.86 1202.50L1263.22 1202.50L1298.58 1202.50L1333.94 1202.50L1369.30 1202.50L1404.66 1202.50L1440.02 1202.50L1475.38 1202.50L1510.74 1202.50L1546.10 1202.50" fill="none" stroke="#1a6ede" stroke-width="3" stroke-linejoin="round"/>
<g fill="#0000ff" shape-rendering="crispEdges">
<path d="M291 1211.2L326 1211.2L326 1214.2L291 1214.2ZM307 1180.6L310 1180.6L326 1211.2L326 1214.2L323 1214.2L307 1183.6ZM291 1211.2L307 1180.6L310 1180.6L310 1183.6L294 1214.2L291 1214.2ZM288.9 1181.8L291.9 1181.8L328.1 1220.2L328.1 1223.2L325.1 1223.2L288.9 1184.8ZM288.9 1220.2L325.1 1181.8L328.1 1181.8L328.1 1184.8L291.9 1223.2L288.9 1223.2Z"/>
<path d="M326.4 1211.2L361.4 1211.2L361.4 1214.2L326.4 1214.2ZM342.4 1180.6L345.4 1180.6L361.4 1211.2L361.4 1214.2L358.4 1214.2L342.4 1183.6ZM326.4 1211.2L342.4 1180.6L345.4 1180.6L345.4 1183.6L329.4 1214.2L326.4 1214.2ZM324.3 1181.8L327.3 1181.8L363.5 1220.2L363.5 1223.2L360.5 1223.2L324.3 1184.8ZM324.3 1220.2L360.5 1181.8L363.5 1181.8L363.5 1184.8L327.3 1223.2L324.3 1223.2Z"/>
<path d="M361.7 1211.2L396.7 1211.2L396.7 1214.2L361.7 1214.2ZM377.7 1180.6L380.7 1180.6L396.7 1211.2L396.7 1214.2L393.7 1214.2L377.7 1183.6ZM361.7 1211.2L377.7 1180.6L380.7 1180.6L380.7 1183.6L364.7 1214.2L361.7 1214.2ZM359.6 1181.8L362.6 1181.8L398.8 1220.2L398.8 1223.2L395.8 1223.2L359.6 1184.8ZM359.6 1220.2L395.8 1181.8L398.8 1181.8L398.8 1184.8L362.6 1223.2L359.6 1223.2Z"/>
<path d="M397.1 1211.2L432.1 1211.2L432.1 1214.2L397.1 1214.2ZM413.1 1180.6L416.1 1180.6L432.1 1211.2L432.1 1214.2L429.1 1214.2L413.1 1183.6ZM397.1 1211.2L413.1 1180.6L416.1 1180.6L416.1 1183.6L400.1 1214.2L397.1 1214.2ZM395 1181.8L398 1181.8L434.2 1220.2L434.2 1223.2L431.2 1223.2L395 1184.8ZM395 1220.2L431.2 1181.8L434.2 1181.8L434.2 1184.8L398 1223.2L395 1223.2Z"/>
<path d="M432.4 1211.2L467.4 1211.2L467.4 1214.2L432.4 1214.2ZM448.4 1180.6L451.4 1180.6L467.4 1211.2L467.4 1214.2L464.4 1214.2L448.4 1183.6ZM432.4 1211.2L448.4 1180.6L451.4 1180.6L451.4 1183.6L435.4 1214.2L432.4 1214.2ZM430.3 1181.8L433.3 1181.8L469.5 1220.2L469.5 1223.2L466.5 1223.2L430.3 1184.8ZM430.3 1220.2L466.5 1181.8L469.5 1181.8L469.5 1184.8L433.3 1223.2L430.3 1223.2Z"/>
<path d="M467.8 1211.2L502.8 1211.2L502.8 1214.2L467.8 1214.2ZM483.8 1180.6L486.8 1180.6L502.8 1211.2L502.8 1214.2L499.8 1214.2L483.8 1183.6ZM467.8 1211.2L483.8 1180.6L486.8 1180.6L486.8 1183.6L470.8 1214.2L467.8 1214.2ZM465.7 1181.8L468.7 1181.8L504.9 1220.2L504.9 1223.2L501.9 1223.2L465.7 1184.8ZM465.7 1220.2L501.9 1181.8L504.9 1181.8L504.9 1184.8L468.7 1223.2L465.7 1223.2Z"/>
<path d="M503.2 1211.2L538.2 1211.2L538.2 1214.2L503.2 1214.2ZM519.2 1180.6L522.2 1180.6L538.2 1211.2L538.2 1214.2L535.2 1214.2L519.2 1183.6ZM503.2 1211.2L519.2 1180.6L522.2 1180.6L522.2 1183.6L506.2 1214.2L503.2 1214.2ZM501.1 1181.8L504.1 1181.8L540.3 1220.2L540.3 1223.2L537.3 1223.2L501.1 1184.8ZM501.1 1220.2L537.3 1181.8L540.3 1181.8L540.3 1184.8L504.1 1223.2L501.1 1223.2Z"/>
<path d="M538.5 1211.2L573.5 1211.2L573.5 1214.2L538.5 1214.2ZM554.5 1180.6L557.5 1180.6L573.5 1211.2L573.5 1214.2L570.5 1214.2L554.5 1183.6ZM538.5 1211.2L554.5 1180.6L557.5 1180.6L557.5 1183.6L541.5 1214.2L538.5 1214.2ZM536.4 1181.8L539.4 1181.8L575.6 1220.2L575.6 1223.2L572.6 1223.2L536.4 1184.8ZM536.4 1220.2L572.6 1181.8L575.6 1181.8L575.6 1184.8L539.4 1223.2L536.4 1223.2Z"/>
<path d="M573.9 1211.2L608.9 1211.2L608.9 1214.2L573.9 1214.2ZM589.9 1180.6L592.9 1180.6L608.9 1211.2L608.9 1214.2L605.9 1214.2L589.9 1183.6ZM573.9 1211.2L589.9 1180.6L592.9 1180.6L592.9 1183.6L576.9 1214.2L573.9 1214.2ZM571.8 1181.8L574.8 1181.8L611 1220.2L611 1223.2L608 1223.2L571.8 1184.8ZM571.8 1220.2L608 1181.8L611 1181.8L611 1184.8L574.8 1223.2L571.8 1223.2Z"/>
<path d="M609.2 1211.2L644.2 1211.2L644.2 1214.2L609.2 1214.2ZM625.2 1180.6L628.2 1180.6L644.2 1211.2L644.2 1214.2L641.2 1214.2L625.2 1183.6ZM609.2 1211.2L625.2 1180.6L628.2 1180.6L628.2 1183.6L612.2 1214.2L609.2 1214.2ZM607.1 1181.8L610.1 1181.8L646.3 1220.2L646.3 1223.2L643.3 1223.2L607.1 1184.8ZM607.1 1220.2L643.3 1181.8L646.3 1181.8L646.3 1184.8L610.1 1223.2L607.1 1223.2Z"/>
<path d="M644.6 1211.2L679.6 1211.2L679.6 1214.2L644.6 1214.2ZM660.6 1180.6L663.6 1180.6L679.6 1211.2L679.6 1214.2L676.6 1214.2L660.6 1183.6ZM644.6 1211.2L660.6 1180.6L663.6 1180.6L663.6 1183.6L647.6 1214.2L644.6 1214.2ZM642.5 1181.8L645.5 1181.8L681.7 1220.2L681.7 1223.2L678.7 1223.2L642.5 1184.8ZM642.5 1220.2L678.7 1181.8L681.7 1181.8L681.7 1184.8L645.5 1223.2L642.5 1223.2Z"/>
<path d="M680 1211.2L715 1211.2L715 1214.2L680 1214.2ZM696 1180.6L699 1180.6L715 1211.2L715 1214.2L712 1214.2L696 1183.6ZM680 1211.2L696 1180.6L699 1180.6L699 1183.6L683 1214.2L680 1214.2ZM677.9 1181.8L680.9 1181.8L717.1 1220.2L717.1 1223.2L714.1 1223.2L677.9 1184.8ZM677.9 1220.2L714.1 1181.8L717.1 1181.8L717.1 1184.8L680.9 1223.2L677.9 1223.2Z"/>
<path d="M715.3 1211.2L750.3 1211.2L750.3 1214.2L715.3 1214.2ZM731.3 1180.6L734.3 1180.6L750.3 1211.2L750.3 1214.2L747.3 1214.2L731.3 1183.6ZM715.3 1211.2L731.3 1180.6L734.3 1180.6L734.3 1183.6L718.3 1214.2L715.3 1214.2ZM713.2 1181.8L716.2 1181.8L752.4 1220.2L752.4 1223.2L749.4 1223.2L713.2 1184.8ZM713.2 1220.2L749.4 1181.8L752.4 1181.8L752.4 1184.8L716.2 1223.2L713.2 1223.2Z"/>
<path d="M750.7 1211.2L785.7 1211.2L785.7 1214.2L750.7 1214.2ZM766.7 1180.6L769.7 1180.6L785.7 1211.2L785.7 1214.2L782.7 1214.2L766.7 1183.6ZM750.7 1211.2L766.7 1180.6L769.7 1180.6L769.7 1183.6L753.7 1214.2L750.7 1214.2ZM748.6 1181.8L751.6 1181.8L787.8 1220.2L787.8 1223.2L784.8 1223.2L748.6 1184.8ZM748.6 1220.2L784.8 1181.8L787.8 1181.8L787.8 1184.8L751.6 1223.2L748.6 1223.2Z"/>
<path d="M786 1211.2L821 1211.2L821 1214.2L786 1214.2ZM802 1180.6L805 1180.6L821 1211.2L821 1214.2L818 1214.2L802 1183.6ZM786 1211.2L802 1180.6L805 1180.6L805 1183.6L789 1214.2L786 1214.2ZM783.9 1181.8L786.9 1181.8L823.1 1220.2L823.1 1223.2L820.1 1223.2L783.9 1184.8ZM783.9 1220.2L820.1 1181.8L823.1 1181.8L823.1 1184.8L786.9 1223.2L783.9 1223.2Z"/>
<path d="M821.4 1211.2L856.4 1211.2L856.4 1214.2L821.4 1214.2ZM837.4 1180.6L840.4 1180.6L856.4 1211.2L856.4 1214.2L853.4 1214.2L837.4 1183.6ZM821.4 1211.2L837.4 1180.6L840.4 1180.6L840.4 1183.6L824.4 1214.2L821.4 1214.2ZM819.3 1181.8L822.3 1181.8L858.5 1220.2L858.5 1223.2L855.5 1223.2L819.3 1184.8ZM819.3 1220.2L855.5 1181.8L858.5 1181.8L858.5 1184.8L822.3 1223.2L819.3 1223.2Z"/>
<path d="M856.8 1211.2L891.8 1211.2L891.8 1214.2L856.8 1214.2ZM872.8 1180.6L875.8 1180.6L891.8 1211.2L891.8 1214.2L888.8 1214.2L872.8 1183.6ZM856.8 1211.2L872.8 1180.6L875.8 1180.6L875.8 1183.6L859.8 1214.2L856.8 1214.2ZM854.7 1181.8L857.7 1181.8L893.9 1220.2L893.9 1223.2L890.9 1223.2L854.7 1184.8ZM854.7 1220.2L890.9 1181.8L893.9 1181.8L893.9 1184.8L857.7 1223.2L854.7 1223.2Z"/>
<path d="M892.1 1211.2L927.1 1211.2L927.1 1214.2L892.1 1214.2ZM908.1 1180.6L911.1 1180.6L927.1 1211.2L927.1 1214.2L924.1 1214.2L908.1 1183.6ZM892.1 1211.2L908.1 1180.6L911.1 1180.6L911.1 1183.6L895.1 1214.2L892.1 1214.2ZM890 1181.8L893 1181.8L929.2 1220.2L929.2 1223.2L926.2 1223.2L890 1184.8ZM890 1220.2L926.2 1181.8L929.2 1181.8L929.2 1184.8L893 1223.2L890 1223.2Z"/>
<path d="M927.5 1211.2L962.5 1211.2L962.5 1214.2L927.5 1214.2ZM943.5 1180.6L946.5 1180.6L962.5 1211.2L962.5 1214.2L959.5 1214.2L943.5 1183.6ZM927.5 1211.2L943.5 1180.6L946.5 1180.6L946.5 1183.6L930.5 1214.2L927.5 1214.2ZM925.4 1181.8L928.4 1181.8L964.6 1220.2L964.6 1223.2L961.6 1223.2L925.4 1184.8ZM925.4 1220.2L961.6 1181.8L964.6 1181.8L964.6 1184.8L928.4 1223.2L925.4 1223.2Z"/>
<path d="M962.8 1211.2L997.8 1211.2L997.8 1214.2L962.8 1214.2ZM978.8 1180.6L981.8 1180.6L997.8 1211.2L997.8 1214.2L994.8 1214.2L978.8 1183.6ZM962.8 1211.2L978.8 1180.6L981.8 1180.6L981.8 1183.6L965.8 1214.2L962.8 1214.2ZM960.7 1181.8L963.7 1181.8L999.9 1220.2L999.9 1223.2L996.9 1223.2L960.7 1184.8ZM960.7 1220.2L996.9 1181.8L999.9 1181.8L999.9 1184.8L963.7 1223.2L960.7 1223.2Z"/>
<path d="M998.2 1211.2L1033.2 1211.2L1033.2 1214.2L998.2 1214.2ZM1014.2 1180.6L1017.2 1180.6L1033.2 1211.2L1033.2 1214.2L1030.2 1214.2L1014.2 1183.6ZM998.2 1211.2L1014.2 1180.6L1017.2 1180.6L1017.2 1183.6L1001.2 1214.2L998.2 1214.2ZM996.1 1181.8L999.1 1181.8L1035.3 1220.2L1035.3 1223.2L1032.3 1223.2L996.1 1184.8ZM996.1 1220.2L1032.3 1181.8L1035.3 1181.8L1035.3 1184.8L999.1 1223.2L996.1 1223.2Z"/>
<path d="M1033.6 1211.2L1068.6 1211.2L1068.6 1214.2L1033.6 1214.2ZM1049.6 1180.6L1052.6 1180.6L1068.6 1211.2L1068.6 1214.2L1065.6 1214.2L1049.6 1183.6ZM1033.6 1211.2L1049.6 1180.6L1052.6 1180.6L1052.6 1183.6L1036.6 1214.2L1033.6 1214.2ZM1031.5 1181.8L1034.5 1181.8L1070.7 1220.2L1070.7 1223.2L1067.7 1223.2L1031.5 1184.8ZM1031.5 1220.2L1067.7 1181.8L1070.7 1181.8L1070.7 1184.8L1034.5 1223.2L1031.5 1223.2Z"/>
<path d="M1068.9 1211.2L1103.9 1211.2L1103.9 1214.2L1068.9 1214.2ZM1084.9 1180.6L1087.9 1180.6L1103.9 1211.2L1103.9 1214.2L1100.9 1214.2L1084.9 1183.6ZM1068.9 1211.2L1084.9 1180.6L1087.9 1180.6L1087.9 1183.6L1071.9 1214.2L1068.9 1214.2ZM1066.8 1181.8L1069.8 1181.8L1106 1220.2L1106 1223.2L1103 1223.2L1066.8 1184.8ZM1066.8 1220.2L1103 1181.8L1106 1181.8L1106 1184.8L1069.8 1223.2L1066.8 1223.2Z"/>
<path d="M1104.3 1211.2L1139.3 1211.2L1139.3 1214.2L1104.3 1214.2ZM1120.3 1180.6L1123.3 1180.6L1139.3 1211.2L1139.3 1214.2L1136.3 1214.2L1120.3 1183.6ZM1104.3 1211.2L1120.3 1180.6L1123.3 1180.6L1123.3 1183.6L1107.3 1214.2L1104.3 1214.2ZM1102.2 1181.8L1105.2 1181.8L1141.4 1220.2L1141.4 1223.2L1138.4 1223.2L1102.2 1184.8ZM1102.2 1220.2L1138.4 1181.8L1141.4 1181.8L1141.4 1184.8L1105.2 1223.2L1102.2 1223.2Z"/>
<path d="M1139.6 1211.2L1174.6 1211.2L1174.6 1214.2L1139.6 1214.2ZM1155.6 1180.6L1158.6 1180.6L1174.6 1211.2L1174.6 1214.2L1171.6 1214.2L1155.6 1183.6ZM1139.6 1211.2L1155.6 1180.6L1158.6 1180.6L1158.6 1183.6L1142.6 1214.2L1139.6 1214.2ZM1137.5 1181.8L1140.5 1181.8L1176.7 1220.2L1176.7 1223.2L1173.7 1223.2L1137.5 1184.8ZM1137.5 1220.2L1173.7 1181.8L1176.7 1181.8L1176.7 1184.8L1140.5 1223.2L1137.5 1223.2Z"/>
<path d="M1175 1211.2L1210 1211.2L1210 1214.2L1175 1214.2ZM1191 1180.6L1194 1180.6L1210 1211.2L1210 1214.2L1207 1214.2L1191 1183.6ZM1175 1211.2L1191 1180.6L1194 1180.6L1194 1183.6L1178 1214.2L1175 1214.2ZM1172.9 1181.8L1175.9 1181.8L1212.1 1220.2L1212.1 1223.2L1209.1 1223.2L1172.9 1184.8ZM1172.9 1220.2L1209.1 1181.8L1212.1 1181.8L1212.1 1184.8L1175.9 1223.2L1172.9 1223.2Z"/>
<path d="M1210.4 1211.2L1245.4 1211.2L1245.4 1214.2L1210.4 1214.2ZM1226.4 1180.6L1229.4 1180.6L1245.4 1211.2L1245.4 1214.2L1242.4 1214.2L1226.4 1183.6ZM1210.4 1211.2L1226.4 1180.6L1229.4 1180.6L1229.4 1183.6L1213.4 1214.2L1210.4 1214.2ZM1208.3 1181.8L1211.3 1181.8L1247.5 1220.2L1247.5 1223.2L1244.5 1223.2L1208.3 1184.8ZM1208.3 1220.2L1244.5 1181.8L1247.5 1181.8L1247.5 1184.8L1211.3 1223.2L1208.3 1223.2Z"/>
<path d="M1245.7 1211.2L1280.7 1211.2L1280.7 1214.2L1245.7 1214.2ZM1261.7 1180.6L1264.7 1180.6L1280.7 1211.2L1280.7 1214.2L1277.7 1214.2L1261.7 1183.6ZM1245.7 1211.2L1261.7 1180.6L1264.7 1180.6L1264.7 1183.6L1248.7 1214.2L1245.7 1214.2ZM1243.6 1181.8L1246.6 1181.8L1282.8 1220.2L1282.8 1223.2L1279.8 1223.2L1243.6 1184.8ZM1243.6 1220.2L1279.8 1181.8L1282.8 1181.8L1282.8 1184.8L1246.6 1223.2L1243.6 1223.2Z"/>
<path d="M1281.1 1211.2L1316.1 1211.2L1316.1 1214.2L1281.1 1214.2ZM1297.1 1180.6L1300.1 1180.6L1316.1 1211.2L1316.1 1214.2L1313.1 1214.2L1297.1 1183.6ZM1281.1 1211.2L1297.1 1180.6L1300.1 1180.6L1300.1 1183.6L1284.1 1214.2L1281.1 1214.2ZM1279 1181.8L1282 1181.8L1318.2 1220.2L1318.2 1223.2L1315.2 1223.2L1279 1184.8ZM1279 1220.2L1315.2 1181.8L1318.2 1181.8L1318.2 1184.8L1282 1223.2L1279 1223.2Z"/>
<path d="M1316.4 1211.2L1351.4 1211.2L1351.4 1214.2L1316.4 1214.2ZM1332.4 1180.6L1335.4 1180.6L1351.4 1211.2L1351.4 1214.2L1348.4 1214.2L1332.4 1183.6ZM1316.4 1211.2L1332.4 1180.6L1335.4 1180.6L1335.4 1183.6L1319.4 1214.2L1316.4 1214.2ZM1314.3 1181.8L1317.3 1181.8L1353.5 1220.2L1353.5 1223.2L1350.5 1223.2L1314.3 1184.8ZM1314.3 1220.2L1350.5 1181.8L1353.5 1181.8L1353.5 1184.8L1317.3 1223.2L1314.3 1223.2Z"/>
<path d="M1351.8 1211.2L1386.8 1211.2L1386.8 1214.2L1351.8 1214.2ZM1367.8 1180.6L1370.8 1180.6L1386.8 1211.2L1386.8 1214.2L1383.8 1214.2L1367.8 1183.6ZM1351.8 1211.2L1367.8 1180.6L1370.8 1180.6L1370.8 1183.6L1354.8 1214.2L1351.8 1214.2ZM1349.7 1181.8L1352.7 1181.8L1388.9 1220.2L1388.9 1223.2L1385.9 1223.2L1349.7 1184.8ZM1349.7 1220.2L1385.9 1181.8L1388.9 1181.8L1388.9 1184.8L1352.7 1223.2L1349.7 1223.2Z"/>
<path d="M1387.2 1211.2L1422.2 1211.2L1422.2 1214.2L1387.2 1214.2ZM1403.2 1180.6L1406.2 1180.6L1422.2 1211.2L1422.2 1214.2L1419.2 1214.2L1403.2 1183.6ZM1387.2 1211.2L1403.2 1180.6L1406.2 1180.6L1406.2 1183.6L1390.2 1214.2L1387.2 1214.2ZM1385.1 1181.8L1388.1 1181.8L1424.3 1220.2L1424.3 1223.2L1421.3 1223.2L1385.1 1184.8ZM1385.1 1220.2L1421.3 1181.8L1424.3 1181.8L1424.3 1184.8L1388.1 1223.2L1385.1 1223.2Z"/>
<path d="M1422.5 1211.2L1457.5 1211.2L1457.5 1214.2L1422.5 1214.2ZM1438.5 1180.6L1441.5 1180.6L1457.5 1211.2L1457.5 1214.2L1454.5 1214.2L1438.5 1183.6ZM1422.5 1211.2L1438.5 1180.6L1441.5 1180.6L1441.5 1183.6L1425.5 1214.2L1422.5 1214.2ZM1420.4 1181.8L1423.4 1181.8L1459.6 1220.2L1459.6 1223.2L1456.6 1223.2L1420.4 1184.8ZM1420.4 1220.2L1456.6 1181.8L1459.6 1181.8L1459.6 1184.8L1423.4 1223.2L1420.4 1223.2Z"/>
<path d="M1457.9 1211.2L1492.9 1211.2L1492.9 1214.2L1457.9 1214.2ZM1473.9 1180.6L1476.9 1180.6L1492.9 1211.2L1492.9 1214.2L1489.9 1214.2L1473.9 1183.6ZM1457.9 1211.2L1473.9 1180.6L1476.9 1180.6L1476.9 1183.6L1460.9 1214.2L1457.9 1214.2ZM1455.8 1181.8L1458.8 1181.8L1495 1220.2L1495 1223.2L1492 1223.2L1455.8 1184.8ZM1455.8 1220.2L1492 1181.8L1495 1181.8L1495 1184.8L1458.8 1223.2L1455.8 1223.2Z"/>
<path d="M1493.2 1211.2L1528.2 1211.2L1528.2 1214.2L1493.2 1214.2ZM1509.2 1180.6L1512.2 1180.6L1528.2 1211.2L1528.2 1214.2L1525.2 1214.2L1509.2 1183.6ZM1493.2 1211.2L1509.2 1180.6L1512.2 1180.6L1512.2 1183.6L1496.2 1214.2L1493.2 1214.2ZM1491.1 1181.8L1494.1 1181.8L1530.3 1220.2L1530.3 1223.2L1527.3 1223.2L1491.1 1184.8ZM1491.1 1220.2L1527.3 1181.8L1530.3 1181.8L1530.3 1184.8L1494.1 1223.2L1491.1 1223.2Z"/>
<path d="M1528.6 1211.2L1563.6 1211.2L1563.6 1214.2L1528.6 1214.2ZM1544.6 1180.6L1547.6 1180.6L1563.6 1211.2L1563.6 1214.2L1560.6 1214.2L1544.6 1183.6ZM1528.6 1211.2L1544.6 1180.6L1547.6 1180.6L1547.6 1183.6L1531.6 1214.2L1528.6 1214.2ZM1526.5 1181.8L1529.5 1181.8L1565.7 1220.2L1565.7 1223.2L1562.7 1223.2L1526.5 1184.8ZM1526.5 1220.2L1562.7 1181.8L1565.7 1181.8L1565.7 1184.8L1529.5 1223.2L1526.5 1223.2Z"/>
</g>
<path d="M308.50 108.50L343.86 835.50L379.22 963.20L414.58 1026.30L449.94 1065.90L485.30 1093.80L520.66 1114.90L556.02 1130.80L591.38 1142.80L626.74 1152.60L662.10 1161.00L697.46 1167.10L732.82 1173.60L768.18 1177.99L803.54 1181.46L838.90 1184.20L874.26 1186.36L909.62 1188.07L944.98 1189.42L980.34 1190.49L1015.70 1191.33L1051.06 1192.00L1086.42 1192.52L1121.78 1192.94L1157.14 1193.26L1192.50 1193.52L1227.86 1193.73L1263.22 1193.89L1298.58 1194.02L1333.94 1194.12L1369.30 1194.20L1404.66 1194.26L1440.02 1194.31L1475.38 1194.35L1510.74 1194.38L1546.10 1194.41" fill="none" stroke="#38ae6e" stroke-width="2.8" stroke-linejoin="round"/>
<g fill="#008000" shape-rendering="crispEdges">
<path d="M291 96.8L326 96.8L326 99.8L291 99.8ZM307 127.4L323 96.8L326 96.8L326 99.8L310 130.4L307 130.4ZM291 96.8L294 96.8L310 127.4L310 130.4L307 130.4L291 99.8ZM288.9 87.8L291.9 87.8L328.1 126.2L328.1 129.2L325.1 129.2L288.9 90.8ZM288.9 126.2L325.1 87.8L328.1 87.8L328.1 90.8L291.9 129.2L288.9 129.2Z"/>
<path d="M326.4 823.8L361.4 823.8L361.4 826.8L326.4 826.8ZM342.4 854.4L358.4 823.8L361.4 823.8L361.4 826.8L345.4 857.4L342.4 857.4ZM326.4 823.8L329.4 823.8L345.4 854.4L345.4 857.4L342.4 857.4L326.4 826.8ZM324.3 814.8L327.3 814.8L363.5 853.2L363.5 856.2L360.5 856.2L324.3 817.8ZM324.3 853.2L360.5 814.8L363.5 814.8L363.5 817.8L327.3 856.2L324.3 856.2Z"/>
<path d="M361.7 951.5L396.7 951.5L396.7 954.5L361.7 954.5ZM377.7 982.1L393.7 951.5L396.7 951.5L396.7 954.5L380.7 985.1L377.7 985.1ZM361.7 951.5L364.7 951.5L380.7 982.1L380.7 985.1L377.7 985.1L361.7 954.5ZM359.6 942.5L362.6 942.5L398.8 980.9L398.8 983.9L395.8 983.9L359.6 945.5ZM359.6 980.9L395.8 942.5L398.8 942.5L398.8 945.5L362.6 983.9L359.6 983.9Z"/>
<path d="M397.1 1014.6L432.1 1014.6L432.1 1017.6L397.1 1017.6ZM413.1 1045.2L429.1 1014.6L432.1 1014.6L432.1 1017.6L416.1 1048.2L413.1 1048.2ZM397.1 1014.6L400.1 1014.6L416.1 1045.2L416.1 1048.2L413.1 1048.2L397.1 1017.6ZM395 1005.6L398 1005.6L434.2 1044L434.2 1047L431.2 1047L395 1008.6ZM395 1044L431.2 1005.6L434.2 1005.6L434.2 1008.6L398 1047L395 1047Z"/>
<path d="M432.4 1054.2L467.4 1054.2L467.4 1057.2L432.4 1057.2ZM448.4 1084.8L464.4 1054.2L467.4 1054.2L467.4 1057.2L451.4 1087.8L448.4 1087.8ZM432.4 1054.2L435.4 1054.2L451.4 1084.8L451.4 1087.8L448.4 1087.8L432.4 1057.2ZM430.3 1045.2L433.3 1045.2L469.5 1083.6L469.5 1086.6L466.5 1086.6L430.3 1048.2ZM430.3 1083.6L466.5 1045.2L469.5 1045.2L469.5 1048.2L433.3 1086.6L430.3 1086.6Z"/>
<path d="M467.8 1082.1L502.8 1082.1L502.8 1085.1L467.8 1085.1ZM483.8 1112.7L499.8 1082.1L502.8 1082.1L502.8 1085.1L486.8 1115.7L483.8 1115.7ZM467.8 1082.1L470.8 1082.1L486.8 1112.7L486.8 1115.7L483.8 1115.7L467.8 1085.1ZM465.7 1073.1L468.7 1073.1L504.9 1111.5L504.9 1114.5L501.9 1114.5L465.7 1076.1ZM465.7 1111.5L501.9 1073.1L504.9 1073.1L504.9 1076.1L468.7 1114.5L465.7 1114.5Z"/>
<path d="M503.2 1103.2L538.2 1103.2L538.2 1106.2L503.2 1106.2ZM519.2 1133.8L535.2 1103.2L538.2 1103.2L538.2 1106.2L522.2 1136.8L519.2 1136.8ZM503.2 1103.2L506.2 1103.2L522.2 1133.8L522.2 1136.8L519.2 1136.8L503.2 1106.2ZM501.1 1094.2L504.1 1094.2L540.3 1132.6L540.3 1135.6L537.3 1135.6L501.1 1097.2ZM501.1 1132.6L537.3 1094.2L540.3 1094.2L540.3 1097.2L504.1 1135.6L501.1 1135.6Z"/>
<path d="M538.5 1119.1L573.5 1119.1L573.5 1122.1L538.5 1122.1ZM554.5 1149.7L570.5 1119.1L573.5 1119.1L573.5 1122.1L557.5 1152.7L554.5 1152.7ZM538.5 1119.1L541.5 1119.1L557.5 1149.7L557.5 1152.7L554.5 1152.7L538.5 1122.1ZM536.4 1110.1L539.4 1110.1L575.6 1148.5L575.6 1151.5L572.6 1151.5L536.4 1113.1ZM536.4 1148.5L572.6 1110.1L575.6 1110.1L575.6 1113.1L539.4 1151.5L536.4 1151.5Z"/>
<path d="M573.9 1131.1L608.9 1131.1L608.9 1134.1L573.9 1134.1ZM589.9 1161.7L605.9 1131.1L608.9 1131.1L608.9 1134.1L592.9 1164.7L589.9 1164.7ZM573.9 1131.1L576.9 1131.1L592.9 1161.7L592.9 1164.7L589.9 1164.7L573.9 1134.1ZM571.8 1122.1L574.8 1122.1L611 1160.5L611 1163.5L608 1163.5L571.8 1125.1ZM571.8 1160.5L608 1122.1L611 1122.1L611 1125.1L574.8 1163.5L571.8 1163.5Z"/>
<path d="M609.2 1140.9L644.2 1140.9L644.2 1143.9L609.2 1143.9ZM625.2 1171.5L641.2 1140.9L644.2 1140.9L644.2 1143.9L628.2 1174.5L625.2 1174.5ZM609.2 1140.9L612.2 1140.9L628.2 1171.5L628.2 1174.5L625.2 1174.5L609.2 1143.9ZM607.1 1131.9L610.1 1131.9L646.3 1170.3L646.3 1173.3L643.3 1173.3L607.1 1134.9ZM607.1 1170.3L643.3 1131.9L646.3 1131.9L646.3 1134.9L610.1 1173.3L607.1 1173.3Z"/>
<path d="M644.6 1149.3L679.6 1149.3L679.6 1152.3L644.6 1152.3ZM660.6 1179.9L676.6 1149.3L679.6 1149.3L679.6 1152.3L663.6 1182.9L660.6 1182.9ZM644.6 1149.3L647.6 1149.3L663.6 1179.9L663.6 1182.9L660.6 1182.9L644.6 1152.3ZM642.5 1140.3L645.5 1140.3L681.7 1178.7L681.7 1181.7L678.7 1181.7L642.5 1143.3ZM642.5 1178.7L678.7 1140.3L681.7 1140.3L681.7 1143.3L645.5 1181.7L642.5 1181.7Z"/>
<path d="M680 1155.4L715 1155.4L715 1158.4L680 1158.4ZM696 1186L712 1155.4L715 1155.4L715 1158.4L699 1189L696 1189ZM680 1155.4L683 1155.4L699 1186L699 1189L696 1189L680 1158.4ZM677.9 1146.4L680.9 1146.4L717.1 1184.8L717.1 1187.8L714.1 1187.8L677.9 1149.4ZM677.9 1184.8L714.1 1146.4L717.1 1146.4L717.1 1149.4L680.9 1187.8L677.9 1187.8Z"/>
<path d="M715.3 1161.9L750.3 1161.9L750.3 1164.9L715.3 1164.9ZM731.3 1192.5L747.3 1161.9L750.3 1161.9L750.3 1164.9L734.3 1195.5L731.3 1195.5ZM715.3 1161.9L718.3 1161.9L734.3 1192.5L734.3 1195.5L731.3 1195.5L715.3 1164.9ZM713.2 1152.9L716.2 1152.9L752.4 1191.3L752.4 1194.3L749.4 1194.3L713.2 1155.9ZM713.2 1191.3L749.4 1152.9L752.4 1152.9L752.4 1155.9L716.2 1194.3L713.2 1194.3Z"/>
<path d="M750.7 1166.3L785.7 1166.3L785.7 1169.3L750.7 1169.3ZM766.7 1196.9L782.7 1166.3L785.7 1166.3L785.7 1169.3L769.7 1199.9L766.7 1199.9ZM750.7 1166.3L753.7 1166.3L769.7 1196.9L769.7 1199.9L766.7 1199.9L750.7 1169.3ZM748.6 1157.3L751.6 1157.3L787.8 1195.7L787.8 1198.7L784.8 1198.7L748.6 1160.3ZM748.6 1195.7L784.8 1157.3L787.8 1157.3L787.8 1160.3L751.6 1198.7L748.6 1198.7Z"/>
<path d="M786 1169.8L821 1169.8L821 1172.8L786 1172.8ZM802 1200.4L818 1169.8L821 1169.8L821 1172.8L805 1203.4L802 1203.4ZM786 1169.8L789 1169.8L805 1200.4L805 1203.4L802 1203.4L786 1172.8ZM783.9 1160.8L786.9 1160.8L823.1 1199.2L823.1 1202.2L820.1 1202.2L783.9 1163.8ZM783.9 1199.2L820.1 1160.8L823.1 1160.8L823.1 1163.8L786.9 1202.2L783.9 1202.2Z"/>
<path d="M821.4 1172.5L856.4 1172.5L856.4 1175.5L821.4 1175.5ZM837.4 1203.1L853.4 1172.5L856.4 1172.5L856.4 1175.5L840.4 1206.1L837.4 1206.1ZM821.4 1172.5L824.4 1172.5L840.4 1203.1L840.4 1206.1L837.4 1206.1L821.4 1175.5ZM819.3 1163.5L822.3 1163.5L858.5 1201.9L858.5 1204.9L855.5 1204.9L819.3 1166.5ZM819.3 1201.9L855.5 1163.5L858.5 1163.5L858.5 1166.5L822.3 1204.9L819.3 1204.9Z"/>
<path d="M856.8 1174.7L891.8 1174.7L891.8 1177.7L856.8 1177.7ZM872.8 1205.3L888.8 1174.7L891.8 1174.7L891.8 1177.7L875.8 1208.3L872.8 1208.3ZM856.8 1174.7L859.8 1174.7L875.8 1205.3L875.8 1208.3L872.8 1208.3L856.8 1177.7ZM854.7 1165.7L857.7 1165.7L893.9 1204.1L893.9 1207.1L890.9 1207.1L854.7 1168.7ZM854.7 1204.1L890.9 1165.7L893.9 1165.7L893.9 1168.7L857.7 1207.1L854.7 1207.1Z"/>
<path d="M892.1 1176.4L927.1 1176.4L927.1 1179.4L892.1 1179.4ZM908.1 1207L924.1 1176.4L927.1 1176.4L927.1 1179.4L911.1 1210L908.1 1210ZM892.1 1176.4L895.1 1176.4L911.1 1207L911.1 1210L908.1 1210L892.1 1179.4ZM890 1167.4L893 1167.4L929.2 1205.8L929.2 1208.8L926.2 1208.8L890 1170.4ZM890 1205.8L926.2 1167.4L929.2 1167.4L929.2 1170.4L893 1208.8L890 1208.8Z"/>
<path d="M927.5 1177.7L962.5 1177.7L962.5 1180.7L927.5 1180.7ZM943.5 1208.3L959.5 1177.7L962.5 1177.7L962.5 1180.7L946.5 1211.3L943.5 1211.3ZM927.5 1177.7L930.5 1177.7L946.5 1208.3L946.5 1211.3L943.5 1211.3L927.5 1180.7ZM925.4 1168.7L928.4 1168.7L964.6 1207.1L964.6 1210.1L961.6 1210.1L925.4 1171.7ZM925.4 1207.1L961.6 1168.7L964.6 1168.7L964.6 1171.7L928.4 1210.1L925.4 1210.1Z"/>
<path d="M962.8 1178.8L997.8 1178.8L997.8 1181.8L962.8 1181.8ZM978.8 1209.4L994.8 1178.8L997.8 1178.8L997.8 1181.8L981.8 1212.4L978.8 1212.4ZM962.8 1178.8L965.8 1178.8L981.8 1209.4L981.8 1212.4L978.8 1212.4L962.8 1181.8ZM960.7 1169.8L963.7 1169.8L999.9 1208.2L999.9 1211.2L996.9 1211.2L960.7 1172.8ZM960.7 1208.2L996.9 1169.8L999.9 1169.8L999.9 1172.8L963.7 1211.2L960.7 1211.2Z"/>
<path d="M998.2 1179.6L1033.2 1179.6L1033.2 1182.6L998.2 1182.6ZM1014.2 1210.2L1030.2 1179.6L1033.2 1179.6L1033.2 1182.6L1017.2 1213.2L1014.2 1213.2ZM998.2 1179.6L1001.2 1179.6L1017.2 1210.2L1017.2 1213.2L1014.2 1213.2L998.2 1182.6ZM996.1 1170.6L999.1 1170.6L1035.3 1209L1035.3 1212L1032.3 1212L996.1 1173.6ZM996.1 1209L1032.3 1170.6L1035.3 1170.6L1035.3 1173.6L999.1 1212L996.1 1212Z"/>
<path d="M1033.6 1180.3L1068.6 1180.3L1068.6 1183.3L1033.6 1183.3ZM1049.6 1210.9L1065.6 1180.3L1068.6 1180.3L1068.6 1183.3L1052.6 1213.9L1049.6 1213.9ZM1033.6 1180.3L1036.6 1180.3L1052.6 1210.9L1052.6 1213.9L1049.6 1213.9L1033.6 1183.3ZM1031.5 1171.3L1034.5 1171.3L1070.7 1209.7L1070.7 1212.7L1067.7 1212.7L1031.5 1174.3ZM1031.5 1209.7L1067.7 1171.3L1070.7 1171.3L1070.7 1174.3L1034.5 1212.7L1031.5 1212.7Z"/>
<path d="M1068.9 1180.8L1103.9 1180.8L1103.9 1183.8L1068.9 1183.8ZM1084.9 1211.4L1100.9 1180.8L1103.9 1180.8L1103.9 1183.8L1087.9 1214.4L1084.9 1214.4ZM1068.9 1180.8L1071.9 1180.8L1087.9 1211.4L1087.9 1214.4L1084.9 1214.4L1068.9 1183.8ZM1066.8 1171.8L1069.8 1171.8L1106 1210.2L1106 1213.2L1103 1213.2L1066.8 1174.8ZM1066.8 1210.2L1103 1171.8L1106 1171.8L1106 1174.8L1069.8 1213.2L1066.8 1213.2Z"/>
<path d="M1104.3 1181.2L1139.3 1181.2L1139.3 1184.2L1104.3 1184.2ZM1120.3 1211.8L1136.3 1181.2L1139.3 1181.2L1139.3 1184.2L1123.3 1214.8L1120.3 1214.8ZM1104.3 1181.2L1107.3 1181.2L1123.3 1211.8L1123.3 1214.8L1120.3 1214.8L1104.3 1184.2ZM1102.2 1172.2L1105.2 1172.2L1141.4 1210.6L1141.4 1213.6L1138.4 1213.6L1102.2 1175.2ZM1102.2 1210.6L1138.4 1172.2L1141.4 1172.2L1141.4 1175.2L1105.2 1213.6L1102.2 1213.6Z"/>
<path d="M1139.6 1181.6L1174.6 1181.6L1174.6 1184.6L1139.6 1184.6ZM1155.6 1212.2L1171.6 1181.6L1174.6 1181.6L1174.6 1184.6L1158.6 1215.2L1155.6 1215.2ZM1139.6 1181.6L1142.6 1181.6L1158.6 1212.2L1158.6 1215.2L1155.6 1215.2L1139.6 1184.6ZM1137.5 1172.6L1140.5 1172.6L1176.7 1211L1176.7 1214L1173.7 1214L1137.5 1175.6ZM1137.5 1211L1173.7 1172.6L1176.7 1172.6L1176.7 1175.6L1140.5 1214L1137.5 1214Z"/>
<path d="M1175 1181.8L1210 1181.8L1210 1184.8L1175 1184.8ZM1191 1212.4L1207 1181.8L1210 1181.8L1210 1184.8L1194 1215.4L1191 1215.4ZM1175 1181.8L1178 1181.8L1194 1212.4L1194 1215.4L1191 1215.4L1175 1184.8ZM1172.9 1172.8L1175.9 1172.8L1212.1 1211.2L1212.1 1214.2L1209.1 1214.2L1172.9 1175.8ZM1172.9 1211.2L1209.1 1172.8L1212.1 1172.8L1212.1 1175.8L1175.9 1214.2L1172.9 1214.2Z"/>
<path d="M1210.4 1182L1245.4 1182L1245.4 1185L1210.4 1185ZM1226.4 1212.6L1242.4 1182L1245.4 1182L1245.4 1185L1229.4 1215.6L1226.4 1215.6ZM1210.4 1182L1213.4 1182L1229.4 1212.6L1229.4 1215.6L1226.4 1215.6L1210.4 1185ZM1208.3 1173L1211.3 1173L1247.5 1211.4L1247.5 1214.4L1244.5 1214.4L1208.3 1176ZM1208.3 1211.4L1244.5 1173L1247.5 1173L1247.5 1176L1211.3 1214.4L1208.3 1214.4Z"/>
<path d="M1245.7 1182.2L1280.7 1182.2L1280.7 1185.2L1245.7 1185.2ZM1261.7 1212.8L1277.7 1182.2L1280.7 1182.2L1280.7 1185.2L1264.7 1215.8L1261.7 1215.8ZM1245.7 1182.2L1248.7 1182.2L1264.7 1212.8L1264.7 1215.8L1261.7 1215.8L1245.7 1185.2ZM1243.6 1173.2L1246.6 1173.2L1282.8 1211.6L1282.8 1214.6L1279.8 1214.6L1243.6 1176.2ZM1243.6 1211.6L1279.8 1173.2L1282.8 1173.2L1282.8 1176.2L1246.6 1214.6L1243.6 1214.6Z"/>
<path d="M1281.1 1182.3L1316.1 1182.3L1316.1 1185.3L1281.1 1185.3ZM1297.1 1212.9L1313.1 1182.3L1316.1 1182.3L1316.1 1185.3L1300.1 1215.9L1297.1 1215.9ZM1281.1 1182.3L1284.1 1182.3L1300.1 1212.9L1300.1 1215.9L1297.1 1215.9L1281.1 1185.3ZM1279 1173.3L1282 1173.3L1318.2 1211.7L1318.2 1214.7L1315.2 1214.7L1279 1176.3ZM1279 1211.7L1315.2 1173.3L1318.2 1173.3L1318.2 1176.3L1282 1214.7L1279 1214.7Z"/>
<path d="M1316.4 1182.4L1351.4 1182.4L1351.4 1185.4L1316.4 1185.4ZM1332.4 1213L1348.4 1182.4L1351.4 1182.4L1351.4 1185.4L1335.4 1216L1332.4 1216ZM1316.4 1182.4L1319.4 1182.4L1335.4 1213L1335.4 1216L1332.4 1216L1316.4 1185.4ZM1314.3 1173.4L1317.3 1173.4L1353.5 1211.8L1353.5 1214.8L1350.5 1214.8L1314.3 1176.4ZM1314.3 1211.8L1350.5 1173.4L1353.5 1173.4L1353.5 1176.4L1317.3 1214.8L1314.3 1214.8Z"/>
<path d="M1351.8 1182.5L1386.8 1182.5L1386.8 1185.5L1351.8 1185.5ZM1367.8 1213.1L1383.8 1182.5L1386.8 1182.5L1386.8 1185.5L1370.8 1216.1L1367.8 1216.1ZM1351.8 1182.5L1354.8 1182.5L1370.8 1213.1L1370.8 1216.1L1367.8 1216.1L1351.8 1185.5ZM1349.7 1173.5L1352.7 1173.5L1388.9 1211.9L1388.9 1214.9L1385.9 1214.9L1349.7 1176.5ZM1349.7 1211.9L1385.9 1173.5L1388.9 1173.5L1388.9 1176.5L1352.7 1214.9L1349.7 1214.9Z"/>
<path d="M1387.2 1182.6L1422.2 1182.6L1422.2 1185.6L1387.2 1185.6ZM1403.2 1213.2L1419.2 1182.6L1422.2 1182.6L1422.2 1185.6L1406.2 1216.2L1403.2 1216.2ZM1387.2 1182.6L1390.2 1182.6L1406.2 1213.2L1406.2 1216.2L1403.2 1216.2L1387.2 1185.6ZM1385.1 1173.6L1388.1 1173.6L1424.3 1212L1424.3 1215L1421.3 1215L1385.1 1176.6ZM1385.1 1212L1421.3 1173.6L1424.3 1173.6L1424.3 1176.6L1388.1 1215L1385.1 1215Z"/>
<path d="M1422.5 1182.6L1457.5 1182.6L1457.5 1185.6L1422.5 1185.6ZM1438.5 1213.2L1454.5 1182.6L1457.5 1182.6L1457.5 1185.6L1441.5 1216.2L1438.5 1216.2ZM1422.5 1182.6L1425.5 1182.6L1441.5 1213.2L1441.5 1216.2L1438.5 1216.2L1422.5 1185.6ZM1420.4 1173.6L1423.4 1173.6L1459.6 1212L1459.6 1215L1456.6 1215L1420.4 1176.6ZM1420.4 1212L1456.6 1173.6L1459.6 1173.6L1459.6 1176.6L1423.4 1215L1420.4 1215Z"/>
<path d="M1457.9 1182.7L1492.9 1182.7L1492.9 1185.7L1457.9 1185.7ZM1473.9 1213.3L1489.9 1182.7L1492.9 1182.7L1492.9 1185.7L1476.9 1216.3L1473.9 1216.3ZM1457.9 1182.7L1460.9 1182.7L1476.9 1213.3L1476.9 1216.3L1473.9 1216.3L1457.9 1185.7ZM1455.8 1173.7L1458.8 1173.7L1495 1212.1L1495 1215.1L1492 1215.1L1455.8 1176.7ZM1455.8 1212.1L1492 1173.7L1495 1173.7L1495 1176.7L1458.8 1215.1L1455.8 1215.1Z"/>
<path d="M1493.2 1182.7L1528.2 1182.7L1528.2 1185.7L1493.2 1185.7ZM1509.2 1213.3L1525.2 1182.7L1528.2 1182.7L1528.2 1185.7L1512.2 1216.3L1509.2 1216.3ZM1493.2 1182.7L1496.2 1182.7L1512.2 1213.3L1512.2 1216.3L1509.2 1216.3L1493.2 1185.7ZM1491.1 1173.7L1494.1 1173.7L1530.3 1212.1L1530.3 1215.1L1527.3 1215.1L1491.1 1176.7ZM1491.1 1212.1L1527.3 1173.7L1530.3 1173.7L1530.3 1176.7L1494.1 1215.1L1491.1 1215.1Z"/>
<path d="M1528.6 1182.7L1563.6 1182.7L1563.6 1185.7L1528.6 1185.7ZM1544.6 1213.3L1560.6 1182.7L1563.6 1182.7L1563.6 1185.7L1547.6 1216.3L1544.6 1216.3ZM1528.6 1182.7L1531.6 1182.7L1547.6 1213.3L1547.6 1216.3L1544.6 1216.3L1528.6 1185.7ZM1526.5 1173.7L1529.5 1173.7L1565.7 1212.1L1565.7 1215.1L1562.7 1215.1L1526.5 1176.7ZM1526.5 1212.1L1562.7 1173.7L1565.7 1173.7L1565.7 1176.7L1529.5 1215.1L1526.5 1215.1Z"/>
</g>
<g shape-rendering="crispEdges">
<rect x="196" y="37" width="9" height="1275" fill="#000"/>
<rect x="1648" y="37" width="9" height="1275" fill="#000"/>
<rect x="200" y="33" width="1453" height="10" fill="#000"/>
<rect x="200" y="1306" width="1453" height="10" fill="#000"/>
<rect x="299" y="1286" width="10" height="20" fill="#000"/>
<rect x="403" y="1298" width="10" height="8" fill="#000"/>
<rect x="507" y="1286" width="10" height="20" fill="#000"/>
<rect x="610" y="1298" width="10" height="8" fill="#000"/>
<rect x="714" y="1286" width="10" height="20" fill="#000"/>
<rect x="818" y="1298" width="10" height="8" fill="#000"/>
<rect x="921" y="1286" width="10" height="20" fill="#000"/>
<rect x="1025" y="1298" width="10" height="8" fill="#000"/>
<rect x="1129" y="1286" width="10" height="20" fill="#000"/>
<rect x="1233" y="1298" width="10" height="8" fill="#000"/>
<rect x="1337" y="1286" width="10" height="20" fill="#000"/>
<rect x="1440" y="1298" width="10" height="8" fill="#000"/>
<rect x="1544" y="1286" width="10" height="20" fill="#000"/>
<rect x="205" y="1227" width="19" height="10" fill="#000"/>
<rect x="205" y="1147" width="7" height="10" fill="#000"/>
<rect x="205" y="1067" width="19" height="10" fill="#000"/>
<rect x="205" y="988" width="7" height="10" fill="#000"/>
<rect x="205" y="908" width="19" height="10" fill="#000"/>
<rect x="205" y="829" width="7" height="10" fill="#000"/>
<rect x="205" y="749" width="19" height="10" fill="#000"/>
<rect x="205" y="669" width="7" height="10" fill="#000"/>
<rect x="205" y="590" width="19" height="10" fill="#000"/>
<rect x="205" y="510" width="7" height="10" fill="#000"/>
<rect x="205" y="431" width="19" height="10" fill="#000"/>
<rect x="205" y="351" width="7" height="10" fill="#000"/>
<rect x="205" y="271" width="19" height="10" fill="#000"/>
<rect x="205" y="192" width="7" height="10" fill="#000"/>
<rect x="205" y="112" width="19" height="10" fill="#000"/>
</g>
<text transform="translate(304 1394) scale(0.9 1)" font-size="73.3" text-anchor="middle">0</text>
<text transform="translate(511.5 1394) scale(0.9 1)" font-size="73.3" text-anchor="middle">10</text>
<text transform="translate(719 1394) scale(0.9 1)" font-size="73.3" text-anchor="middle">20</text>
<text transform="translate(926.5 1394) scale(0.9 1)" font-size="73.3" text-anchor="middle">30</text>
<text transform="translate(1134 1394) scale(0.9 1)" font-size="73.3" text-anchor="middle">40</text>
<text transform="translate(1341.5 1394) scale(0.9 1)" font-size="73.3" text-anchor="middle">50</text>
<text transform="translate(1549 1394) scale(0.9 1)" font-size="73.3" text-anchor="middle">60</text>
<text transform="translate(178.5 1253) scale(0.9 1)" font-size="73.3" text-anchor="end">4</text>
<text transform="translate(178.5 1093.8) scale(0.9 1)" font-size="73.3" text-anchor="end">6</text>
<text transform="translate(178.5 934.6) scale(0.9 1)" font-size="73.3" text-anchor="end">8</text>
<text transform="translate(178.5 775.4) scale(0.9 1)" font-size="73.3" text-anchor="end">10</text>
<text transform="translate(178.5 616.2) scale(0.9 1)" font-size="73.3" text-anchor="end">12</text>
<text transform="translate(178.5 457) scale(0.9 1)" font-size="73.3" text-anchor="end">14</text>
<text transform="translate(178.5 297.8) scale(0.9 1)" font-size="73.3" text-anchor="end">16</text>
<text transform="translate(178.5 138.6) scale(0.9 1)" font-size="73.3" text-anchor="end">18</text>
<text transform="translate(81 676) rotate(-90)" font-size="78" font-style="italic" text-anchor="middle">Nu</text>
<text transform="translate(931.7 1509.4) scale(0.979 1)" font-size="76" text-anchor="middle" font-style="italic">x<tspan font-style="normal">/</tspan>D</text>
<text transform="translate(928.5 1591.5) scale(1 1)" font-size="70" text-anchor="middle">(<tspan font-style="italic">a</tspan>)</text>
<text transform="translate(354.5 149.2) scale(0.9175 1)" font-size="78.5" text-anchor="start">HeXe14.5, case 5, Max(<tspan font-style="italic">T</tspan><tspan font-style="italic" font-size="52" dy="20.8">w</tspan><tspan dy="-20.8">/</tspan><tspan font-style="italic">T</tspan><tspan font-style="italic" font-size="52" dy="20.8">b</tspan><tspan dy="-20.8">) = 1.42</tspan></text>
<rect shape-rendering="crispEdges" x="923" y="291" width="164" height="3" fill="#505050"/>
<g fill="#000000" shape-rendering="crispEdges"><path d="M991.1 278.8L1018.1 278.8L1018.1 281.8L991.1 281.8ZM1015.1 278.8L1018.1 278.8L1018.1 306.2L1015.1 306.2ZM991.1 303.2L1018.1 303.2L1018.1 306.2L991.1 306.2ZM991.1 278.8L994.1 278.8L994.1 306.2L991.1 306.2ZM991.1 278.8L994.1 278.8L1018.1 303.2L1018.1 306.2L1015.1 306.2L991.1 281.8ZM991.1 303.2L1015.1 278.8L1018.1 278.8L1018.1 281.8L994.1 306.2L991.1 306.2Z"/></g>
<text transform="translate(1104.5 318.7) scale(0.9135 1)" font-size="78" text-anchor="start">constant property</text>
<rect shape-rendering="crispEdges" x="923" y="387" width="164" height="3" fill="#ef4040"/>
<g fill="#ff0000" shape-rendering="crispEdges"><ellipse cx="1004.6" cy="388.5" rx="13.5" ry="15.0" fill="none" stroke="#ff0000" stroke-width="3"/><path d="M990.1 372.5L993.1 372.5L1019.1 401.5L1019.1 404.5L1016.1 404.5L990.1 375.5ZM990.1 401.5L1016.1 372.5L1019.1 372.5L1019.1 375.5L993.1 404.5L990.1 404.5Z"/></g>
<text transform="translate(1104.5 414.7) scale(0.9135 1)" font-size="78" text-anchor="start">Herwig</text>
<rect shape-rendering="crispEdges" x="923" y="484" width="164" height="3" fill="#1a6ede"/>
<g fill="#0000ff" shape-rendering="crispEdges"><path d="M987.1 494.2L1022.1 494.2L1022.1 497.2L987.1 497.2ZM1003.1 463.6L1006.1 463.6L1022.1 494.2L1022.1 497.2L1019.1 497.2L1003.1 466.6ZM987.1 494.2L1003.1 463.6L1006.1 463.6L1006.1 466.6L990.1 497.2L987.1 497.2ZM985 464.8L988 464.8L1024.2 503.2L1024.2 506.2L1021.2 506.2L985 467.8ZM985 503.2L1021.2 464.8L1024.2 464.8L1024.2 467.8L988 506.2L985 506.2Z"/></g>
<text transform="translate(1104.5 511.7) scale(0.9135 1)" font-size="78" text-anchor="start">Kays</text>
<rect shape-rendering="crispEdges" x="923" y="580" width="164" height="3" fill="#38ae6e"/>
<g fill="#008000" shape-rendering="crispEdges"><path d="M987.1 569.8L1022.1 569.8L1022.1 572.8L987.1 572.8ZM1003.1 600.4L1019.1 569.8L1022.1 569.8L1022.1 572.8L1006.1 603.4L1003.1 603.4ZM987.1 569.8L990.1 569.8L1006.1 600.4L1006.1 603.4L1003.1 603.4L987.1 572.8ZM985 560.8L988 560.8L1024.2 599.2L1024.2 602.2L1021.2 602.2L985 563.8ZM985 599.2L1021.2 560.8L1024.2 560.8L1024.2 563.8L988 602.2L985 602.2Z"/></g>
<text transform="translate(1104.5 607.7) scale(0.9135 1)" font-size="78" text-anchor="start">CFD</text>
<path d="M357.50 2801.50L392.50 2801.50L427.50 2801.50L462.50 2801.50L497.50 2801.50L532.50 2801.50L567.50 2801.50L602.50 2801.50L637.50 2801.50L672.50 2801.50L707.50 2801.50L742.50 2801.50L777.50 2801.50L812.50 2801.50L847.50 2801.50L882.50 2801.50L917.50 2801.50L952.50 2801.50L987.50 2801.50L1022.50 2801.50L1057.50 2801.50L1092.50 2801.50L1127.50 2801.50L1162.50 2801.50L1197.50 2801.50L1232.50 2801.50L1267.50 2801.50L1302.50 2801.50L1337.50 2801.50L1372.50 2801.50L1407.50 2801.50L1442.50 2801.50L1477.50 2801.50L1512.50 2801.50" fill="none" stroke="#505050" stroke-width="3" stroke-linejoin="round"/>
<g fill="#000000" shape-rendering="crispEdges">
<path d="M344.1 2787.4L370.9 2787.4L370.9 2790.4L344.1 2790.4ZM367.9 2787.4L370.9 2787.4L370.9 2814.2L367.9 2814.2ZM344.1 2811.2L370.9 2811.2L370.9 2814.2L344.1 2814.2ZM344.1 2787.4L347.1 2787.4L347.1 2814.2L344.1 2814.2ZM344.1 2787.4L347.1 2787.4L370.9 2811.2L370.9 2814.2L367.9 2814.2L344.1 2790.4ZM344.1 2811.2L367.9 2787.4L370.9 2787.4L370.9 2790.4L347.1 2814.2L344.1 2814.2Z"/>
<path d="M379.1 2787.4L405.9 2787.4L405.9 2790.4L379.1 2790.4ZM402.9 2787.4L405.9 2787.4L405.9 2814.2L402.9 2814.2ZM379.1 2811.2L405.9 2811.2L405.9 2814.2L379.1 2814.2ZM379.1 2787.4L382.1 2787.4L382.1 2814.2L379.1 2814.2ZM379.1 2787.4L382.1 2787.4L405.9 2811.2L405.9 2814.2L402.9 2814.2L379.1 2790.4ZM379.1 2811.2L402.9 2787.4L405.9 2787.4L405.9 2790.4L382.1 2814.2L379.1 2814.2Z"/>
<path d="M414.1 2787.4L440.9 2787.4L440.9 2790.4L414.1 2790.4ZM437.9 2787.4L440.9 2787.4L440.9 2814.2L437.9 2814.2ZM414.1 2811.2L440.9 2811.2L440.9 2814.2L414.1 2814.2ZM414.1 2787.4L417.1 2787.4L417.1 2814.2L414.1 2814.2ZM414.1 2787.4L417.1 2787.4L440.9 2811.2L440.9 2814.2L437.9 2814.2L414.1 2790.4ZM414.1 2811.2L437.9 2787.4L440.9 2787.4L440.9 2790.4L417.1 2814.2L414.1 2814.2Z"/>
<path d="M449.1 2787.4L475.9 2787.4L475.9 2790.4L449.1 2790.4ZM472.9 2787.4L475.9 2787.4L475.9 2814.2L472.9 2814.2ZM449.1 2811.2L475.9 2811.2L475.9 2814.2L449.1 2814.2ZM449.1 2787.4L452.1 2787.4L452.1 2814.2L449.1 2814.2ZM449.1 2787.4L452.1 2787.4L475.9 2811.2L475.9 2814.2L472.9 2814.2L449.1 2790.4ZM449.1 2811.2L472.9 2787.4L475.9 2787.4L475.9 2790.4L452.1 2814.2L449.1 2814.2Z"/>
<path d="M484.1 2787.4L510.9 2787.4L510.9 2790.4L484.1 2790.4ZM507.9 2787.4L510.9 2787.4L510.9 2814.2L507.9 2814.2ZM484.1 2811.2L510.9 2811.2L510.9 2814.2L484.1 2814.2ZM484.1 2787.4L487.1 2787.4L487.1 2814.2L484.1 2814.2ZM484.1 2787.4L487.1 2787.4L510.9 2811.2L510.9 2814.2L507.9 2814.2L484.1 2790.4ZM484.1 2811.2L507.9 2787.4L510.9 2787.4L510.9 2790.4L487.1 2814.2L484.1 2814.2Z"/>
<path d="M519.1 2787.4L545.9 2787.4L545.9 2790.4L519.1 2790.4ZM542.9 2787.4L545.9 2787.4L545.9 2814.2L542.9 2814.2ZM519.1 2811.2L545.9 2811.2L545.9 2814.2L519.1 2814.2ZM519.1 2787.4L522.1 2787.4L522.1 2814.2L519.1 2814.2ZM519.1 2787.4L522.1 2787.4L545.9 2811.2L545.9 2814.2L542.9 2814.2L519.1 2790.4ZM519.1 2811.2L542.9 2787.4L545.9 2787.4L545.9 2790.4L522.1 2814.2L519.1 2814.2Z"/>
<path d="M554.1 2787.4L580.9 2787.4L580.9 2790.4L554.1 2790.4ZM577.9 2787.4L580.9 2787.4L580.9 2814.2L577.9 2814.2ZM554.1 2811.2L580.9 2811.2L580.9 2814.2L554.1 2814.2ZM554.1 2787.4L557.1 2787.4L557.1 2814.2L554.1 2814.2ZM554.1 2787.4L557.1 2787.4L580.9 2811.2L580.9 2814.2L577.9 2814.2L554.1 2790.4ZM554.1 2811.2L577.9 2787.4L580.9 2787.4L580.9 2790.4L557.1 2814.2L554.1 2814.2Z"/>
<path d="M589.1 2787.4L615.9 2787.4L615.9 2790.4L589.1 2790.4ZM612.9 2787.4L615.9 2787.4L615.9 2814.2L612.9 2814.2ZM589.1 2811.2L615.9 2811.2L615.9 2814.2L589.1 2814.2ZM589.1 2787.4L592.1 2787.4L592.1 2814.2L589.1 2814.2ZM589.1 2787.4L592.1 2787.4L615.9 2811.2L615.9 2814.2L612.9 2814.2L589.1 2790.4ZM589.1 2811.2L612.9 2787.4L615.9 2787.4L615.9 2790.4L592.1 2814.2L589.1 2814.2Z"/>
<path d="M624.1 2787.4L650.9 2787.4L650.9 2790.4L624.1 2790.4ZM647.9 2787.4L650.9 2787.4L650.9 2814.2L647.9 2814.2ZM624.1 2811.2L650.9 2811.2L650.9 2814.2L624.1 2814.2ZM624.1 2787.4L627.1 2787.4L627.1 2814.2L624.1 2814.2ZM624.1 2787.4L627.1 2787.4L650.9 2811.2L650.9 2814.2L647.9 2814.2L624.1 2790.4ZM624.1 2811.2L647.9 2787.4L650.9 2787.4L650.9 2790.4L627.1 2814.2L624.1 2814.2Z"/>
<path d="M659.1 2787.4L685.9 2787.4L685.9 2790.4L659.1 2790.4ZM682.9 2787.4L685.9 2787.4L685.9 2814.2L682.9 2814.2ZM659.1 2811.2L685.9 2811.2L685.9 2814.2L659.1 2814.2ZM659.1 2787.4L662.1 2787.4L662.1 2814.2L659.1 2814.2ZM659.1 2787.4L662.1 2787.4L685.9 2811.2L685.9 2814.2L682.9 2814.2L659.1 2790.4ZM659.1 2811.2L682.9 2787.4L685.9 2787.4L685.9 2790.4L662.1 2814.2L659.1 2814.2Z"/>
<path d="M694.1 2787.4L720.9 2787.4L720.9 2790.4L694.1 2790.4ZM717.9 2787.4L720.9 2787.4L720.9 2814.2L717.9 2814.2ZM694.1 2811.2L720.9 2811.2L720.9 2814.2L694.1 2814.2ZM694.1 2787.4L697.1 2787.4L697.1 2814.2L694.1 2814.2ZM694.1 2787.4L697.1 2787.4L720.9 2811.2L720.9 2814.2L717.9 2814.2L694.1 2790.4ZM694.1 2811.2L717.9 2787.4L720.9 2787.4L720.9 2790.4L697.1 2814.2L694.1 2814.2Z"/>
<path d="M729.1 2787.4L755.9 2787.4L755.9 2790.4L729.1 2790.4ZM752.9 2787.4L755.9 2787.4L755.9 2814.2L752.9 2814.2ZM729.1 2811.2L755.9 2811.2L755.9 2814.2L729.1 2814.2ZM729.1 2787.4L732.1 2787.4L732.1 2814.2L729.1 2814.2ZM729.1 2787.4L732.1 2787.4L755.9 2811.2L755.9 2814.2L752.9 2814.2L729.1 2790.4ZM729.1 2811.2L752.9 2787.4L755.9 2787.4L755.9 2790.4L732.1 2814.2L729.1 2814.2Z"/>
<path d="M764.1 2787.4L790.9 2787.4L790.9 2790.4L764.1 2790.4ZM787.9 2787.4L790.9 2787.4L790.9 2814.2L787.9 2814.2ZM764.1 2811.2L790.9 2811.2L790.9 2814.2L764.1 2814.2ZM764.1 2787.4L767.1 2787.4L767.1 2814.2L764.1 2814.2ZM764.1 2787.4L767.1 2787.4L790.9 2811.2L790.9 2814.2L787.9 2814.2L764.1 2790.4ZM764.1 2811.2L787.9 2787.4L790.9 2787.4L790.9 2790.4L767.1 2814.2L764.1 2814.2Z"/>
<path d="M799.1 2787.4L825.9 2787.4L825.9 2790.4L799.1 2790.4ZM822.9 2787.4L825.9 2787.4L825.9 2814.2L822.9 2814.2ZM799.1 2811.2L825.9 2811.2L825.9 2814.2L799.1 2814.2ZM799.1 2787.4L802.1 2787.4L802.1 2814.2L799.1 2814.2ZM799.1 2787.4L802.1 2787.4L825.9 2811.2L825.9 2814.2L822.9 2814.2L799.1 2790.4ZM799.1 2811.2L822.9 2787.4L825.9 2787.4L825.9 2790.4L802.1 2814.2L799.1 2814.2Z"/>
<path d="M834.1 2787.4L860.9 2787.4L860.9 2790.4L834.1 2790.4ZM857.9 2787.4L860.9 2787.4L860.9 2814.2L857.9 2814.2ZM834.1 2811.2L860.9 2811.2L860.9 2814.2L834.1 2814.2ZM834.1 2787.4L837.1 2787.4L837.1 2814.2L834.1 2814.2ZM834.1 2787.4L837.1 2787.4L860.9 2811.2L860.9 2814.2L857.9 2814.2L834.1 2790.4ZM834.1 2811.2L857.9 2787.4L860.9 2787.4L860.9 2790.4L837.1 2814.2L834.1 2814.2Z"/>
<path d="M869.1 2787.4L895.9 2787.4L895.9 2790.4L869.1 2790.4ZM892.9 2787.4L895.9 2787.4L895.9 2814.2L892.9 2814.2ZM869.1 2811.2L895.9 2811.2L895.9 2814.2L869.1 2814.2ZM869.1 2787.4L872.1 2787.4L872.1 2814.2L869.1 2814.2ZM869.1 2787.4L872.1 2787.4L895.9 2811.2L895.9 2814.2L892.9 2814.2L869.1 2790.4ZM869.1 2811.2L892.9 2787.4L895.9 2787.4L895.9 2790.4L872.1 2814.2L869.1 2814.2Z"/>
<path d="M904.1 2787.4L930.9 2787.4L930.9 2790.4L904.1 2790.4ZM927.9 2787.4L930.9 2787.4L930.9 2814.2L927.9 2814.2ZM904.1 2811.2L930.9 2811.2L930.9 2814.2L904.1 2814.2ZM904.1 2787.4L907.1 2787.4L907.1 2814.2L904.1 2814.2ZM904.1 2787.4L907.1 2787.4L930.9 2811.2L930.9 2814.2L927.9 2814.2L904.1 2790.4ZM904.1 2811.2L927.9 2787.4L930.9 2787.4L930.9 2790.4L907.1 2814.2L904.1 2814.2Z"/>
<path d="M939.1 2787.4L965.9 2787.4L965.9 2790.4L939.1 2790.4ZM962.9 2787.4L965.9 2787.4L965.9 2814.2L962.9 2814.2ZM939.1 2811.2L965.9 2811.2L965.9 2814.2L939.1 2814.2ZM939.1 2787.4L942.1 2787.4L942.1 2814.2L939.1 2814.2ZM939.1 2787.4L942.1 2787.4L965.9 2811.2L965.9 2814.2L962.9 2814.2L939.1 2790.4ZM939.1 2811.2L962.9 2787.4L965.9 2787.4L965.9 2790.4L942.1 2814.2L939.1 2814.2Z"/>
<path d="M974.1 2787.4L1000.9 2787.4L1000.9 2790.4L974.1 2790.4ZM997.9 2787.4L1000.9 2787.4L1000.9 2814.2L997.9 2814.2ZM974.1 2811.2L1000.9 2811.2L1000.9 2814.2L974.1 2814.2ZM974.1 2787.4L977.1 2787.4L977.1 2814.2L974.1 2814.2ZM974.1 2787.4L977.1 2787.4L1000.9 2811.2L1000.9 2814.2L997.9 2814.2L974.1 2790.4ZM974.1 2811.2L997.9 2787.4L1000.9 2787.4L1000.9 2790.4L977.1 2814.2L974.1 2814.2Z"/>
<path d="M1009.1 2787.4L1035.9 2787.4L1035.9 2790.4L1009.1 2790.4ZM1032.9 2787.4L1035.9 2787.4L1035.9 2814.2L1032.9 2814.2ZM1009.1 2811.2L1035.9 2811.2L1035.9 2814.2L1009.1 2814.2ZM1009.1 2787.4L1012.1 2787.4L1012.1 2814.2L1009.1 2814.2ZM1009.1 2787.4L1012.1 2787.4L1035.9 2811.2L1035.9 2814.2L1032.9 2814.2L1009.1 2790.4ZM1009.1 2811.2L1032.9 2787.4L1035.9 2787.4L1035.9 2790.4L1012.1 2814.2L1009.1 2814.2Z"/>
<path d="M1044.1 2787.4L1070.9 2787.4L1070.9 2790.4L1044.1 2790.4ZM1067.9 2787.4L1070.9 2787.4L1070.9 2814.2L1067.9 2814.2ZM1044.1 2811.2L1070.9 2811.2L1070.9 2814.2L1044.1 2814.2ZM1044.1 2787.4L1047.1 2787.4L1047.1 2814.2L1044.1 2814.2ZM1044.1 2787.4L1047.1 2787.4L1070.9 2811.2L1070.9 2814.2L1067.9 2814.2L1044.1 2790.4ZM1044.1 2811.2L1067.9 2787.4L1070.9 2787.4L1070.9 2790.4L1047.1 2814.2L1044.1 2814.2Z"/>
<path d="M1079.1 2787.4L1105.9 2787.4L1105.9 2790.4L1079.1 2790.4ZM1102.9 2787.4L1105.9 2787.4L1105.9 2814.2L1102.9 2814.2ZM1079.1 2811.2L1105.9 2811.2L1105.9 2814.2L1079.1 2814.2ZM1079.1 2787.4L1082.1 2787.4L1082.1 2814.2L1079.1 2814.2ZM1079.1 2787.4L1082.1 2787.4L1105.9 2811.2L1105.9 2814.2L1102.9 2814.2L1079.1 2790.4ZM1079.1 2811.2L1102.9 2787.4L1105.9 2787.4L1105.9 2790.4L1082.1 2814.2L1079.1 2814.2Z"/>
<path d="M1114.1 2787.4L1140.9 2787.4L1140.9 2790.4L1114.1 2790.4ZM1137.9 2787.4L1140.9 2787.4L1140.9 2814.2L1137.9 2814.2ZM1114.1 2811.2L1140.9 2811.2L1140.9 2814.2L1114.1 2814.2ZM1114.1 2787.4L1117.1 2787.4L1117.1 2814.2L1114.1 2814.2ZM1114.1 2787.4L1117.1 2787.4L1140.9 2811.2L1140.9 2814.2L1137.9 2814.2L1114.1 2790.4ZM1114.1 2811.2L1137.9 2787.4L1140.9 2787.4L1140.9 2790.4L1117.1 2814.2L1114.1 2814.2Z"/>
<path d="M1149.1 2787.4L1175.9 2787.4L1175.9 2790.4L1149.1 2790.4ZM1172.9 2787.4L1175.9 2787.4L1175.9 2814.2L1172.9 2814.2ZM1149.1 2811.2L1175.9 2811.2L1175.9 2814.2L1149.1 2814.2ZM1149.1 2787.4L1152.1 2787.4L1152.1 2814.2L1149.1 2814.2ZM1149.1 2787.4L1152.1 2787.4L1175.9 2811.2L1175.9 2814.2L1172.9 2814.2L1149.1 2790.4ZM1149.1 2811.2L1172.9 2787.4L1175.9 2787.4L1175.9 2790.4L1152.1 2814.2L1149.1 2814.2Z"/>
<path d="M1184.1 2787.4L1210.9 2787.4L1210.9 2790.4L1184.1 2790.4ZM1207.9 2787.4L1210.9 2787.4L1210.9 2814.2L1207.9 2814.2ZM1184.1 2811.2L1210.9 2811.2L1210.9 2814.2L1184.1 2814.2ZM1184.1 2787.4L1187.1 2787.4L1187.1 2814.2L1184.1 2814.2ZM1184.1 2787.4L1187.1 2787.4L1210.9 2811.2L1210.9 2814.2L1207.9 2814.2L1184.1 2790.4ZM1184.1 2811.2L1207.9 2787.4L1210.9 2787.4L1210.9 2790.4L1187.1 2814.2L1184.1 2814.2Z"/>
<path d="M1219.1 2787.4L1245.9 2787.4L1245.9 2790.4L1219.1 2790.4ZM1242.9 2787.4L1245.9 2787.4L1245.9 2814.2L1242.9 2814.2ZM1219.1 2811.2L1245.9 2811.2L1245.9 2814.2L1219.1 2814.2ZM1219.1 2787.4L1222.1 2787.4L1222.1 2814.2L1219.1 2814.2ZM1219.1 2787.4L1222.1 2787.4L1245.9 2811.2L1245.9 2814.2L1242.9 2814.2L1219.1 2790.4ZM1219.1 2811.2L1242.9 2787.4L1245.9 2787.4L1245.9 2790.4L1222.1 2814.2L1219.1 2814.2Z"/>
<path d="M1254.1 2787.4L1280.9 2787.4L1280.9 2790.4L1254.1 2790.4ZM1277.9 2787.4L1280.9 2787.4L1280.9 2814.2L1277.9 2814.2ZM1254.1 2811.2L1280.9 2811.2L1280.9 2814.2L1254.1 2814.2ZM1254.1 2787.4L1257.1 2787.4L1257.1 2814.2L1254.1 2814.2ZM1254.1 2787.4L1257.1 2787.4L1280.9 2811.2L1280.9 2814.2L1277.9 2814.2L1254.1 2790.4ZM1254.1 2811.2L1277.9 2787.4L1280.9 2787.4L1280.9 2790.4L1257.1 2814.2L1254.1 2814.2Z"/>
<path d="M1289.1 2787.4L1315.9 2787.4L1315.9 2790.4L1289.1 2790.4ZM1312.9 2787.4L1315.9 2787.4L1315.9 2814.2L1312.9 2814.2ZM1289.1 2811.2L1315.9 2811.2L1315.9 2814.2L1289.1 2814.2ZM1289.1 2787.4L1292.1 2787.4L1292.1 2814.2L1289.1 2814.2ZM1289.1 2787.4L1292.1 2787.4L1315.9 2811.2L1315.9 2814.2L1312.9 2814.2L1289.1 2790.4ZM1289.1 2811.2L1312.9 2787.4L1315.9 2787.4L1315.9 2790.4L1292.1 2814.2L1289.1 2814.2Z"/>
<path d="M1324.1 2787.4L1350.9 2787.4L1350.9 2790.4L1324.1 2790.4ZM1347.9 2787.4L1350.9 2787.4L1350.9 2814.2L1347.9 2814.2ZM1324.1 2811.2L1350.9 2811.2L1350.9 2814.2L1324.1 2814.2ZM1324.1 2787.4L1327.1 2787.4L1327.1 2814.2L1324.1 2814.2ZM1324.1 2787.4L1327.1 2787.4L1350.9 2811.2L1350.9 2814.2L1347.9 2814.2L1324.1 2790.4ZM1324.1 2811.2L1347.9 2787.4L1350.9 2787.4L1350.9 2790.4L1327.1 2814.2L1324.1 2814.2Z"/>
<path d="M1359.1 2787.4L1385.9 2787.4L1385.9 2790.4L1359.1 2790.4ZM1382.9 2787.4L1385.9 2787.4L1385.9 2814.2L1382.9 2814.2ZM1359.1 2811.2L1385.9 2811.2L1385.9 2814.2L1359.1 2814.2ZM1359.1 2787.4L1362.1 2787.4L1362.1 2814.2L1359.1 2814.2ZM1359.1 2787.4L1362.1 2787.4L1385.9 2811.2L1385.9 2814.2L1382.9 2814.2L1359.1 2790.4ZM1359.1 2811.2L1382.9 2787.4L1385.9 2787.4L1385.9 2790.4L1362.1 2814.2L1359.1 2814.2Z"/>
<path d="M1394.1 2787.4L1420.9 2787.4L1420.9 2790.4L1394.1 2790.4ZM1417.9 2787.4L1420.9 2787.4L1420.9 2814.2L1417.9 2814.2ZM1394.1 2811.2L1420.9 2811.2L1420.9 2814.2L1394.1 2814.2ZM1394.1 2787.4L1397.1 2787.4L1397.1 2814.2L1394.1 2814.2ZM1394.1 2787.4L1397.1 2787.4L1420.9 2811.2L1420.9 2814.2L1417.9 2814.2L1394.1 2790.4ZM1394.1 2811.2L1417.9 2787.4L1420.9 2787.4L1420.9 2790.4L1397.1 2814.2L1394.1 2814.2Z"/>
<path d="M1429.1 2787.4L1455.9 2787.4L1455.9 2790.4L1429.1 2790.4ZM1452.9 2787.4L1455.9 2787.4L1455.9 2814.2L1452.9 2814.2ZM1429.1 2811.2L1455.9 2811.2L1455.9 2814.2L1429.1 2814.2ZM1429.1 2787.4L1432.1 2787.4L1432.1 2814.2L1429.1 2814.2ZM1429.1 2787.4L1432.1 2787.4L1455.9 2811.2L1455.9 2814.2L1452.9 2814.2L1429.1 2790.4ZM1429.1 2811.2L1452.9 2787.4L1455.9 2787.4L1455.9 2790.4L1432.1 2814.2L1429.1 2814.2Z"/>
<path d="M1464.1 2787.4L1490.9 2787.4L1490.9 2790.4L1464.1 2790.4ZM1487.9 2787.4L1490.9 2787.4L1490.9 2814.2L1487.9 2814.2ZM1464.1 2811.2L1490.9 2811.2L1490.9 2814.2L1464.1 2814.2ZM1464.1 2787.4L1467.1 2787.4L1467.1 2814.2L1464.1 2814.2ZM1464.1 2787.4L1467.1 2787.4L1490.9 2811.2L1490.9 2814.2L1487.9 2814.2L1464.1 2790.4ZM1464.1 2811.2L1487.9 2787.4L1490.9 2787.4L1490.9 2790.4L1467.1 2814.2L1464.1 2814.2Z"/>
<path d="M1499.1 2787.4L1525.9 2787.4L1525.9 2790.4L1499.1 2790.4ZM1522.9 2787.4L1525.9 2787.4L1525.9 2814.2L1522.9 2814.2ZM1499.1 2811.2L1525.9 2811.2L1525.9 2814.2L1499.1 2814.2ZM1499.1 2787.4L1502.1 2787.4L1502.1 2814.2L1499.1 2814.2ZM1499.1 2787.4L1502.1 2787.4L1525.9 2811.2L1525.9 2814.2L1522.9 2814.2L1499.1 2790.4ZM1499.1 2811.2L1522.9 2787.4L1525.9 2787.4L1525.9 2790.4L1502.1 2814.2L1499.1 2814.2Z"/>
</g>
<path d="M357.50 2799.50L392.50 2799.50L427.50 2799.50L462.50 2799.50L497.50 2799.50L532.50 2799.50L567.50 2799.50L602.50 2799.50L637.50 2799.50L672.50 2799.50L707.50 2799.50L742.50 2799.50L777.50 2799.50L812.50 2799.50L847.50 2799.50L882.50 2799.50L917.50 2799.50L952.50 2799.50L987.50 2799.50L1022.50 2799.50L1057.50 2799.50L1092.50 2799.50L1127.50 2799.50L1162.50 2799.50L1197.50 2799.50L1232.50 2799.50L1267.50 2799.50L1302.50 2799.50L1337.50 2799.50L1372.50 2799.50L1407.50 2799.50L1442.50 2799.50L1477.50 2799.50L1512.50 2799.50" fill="none" stroke="#ef4040" stroke-width="3" stroke-linejoin="round"/>
<g fill="#ff0000" shape-rendering="crispEdges">
<ellipse cx="357.5" cy="2799.5" rx="13.4" ry="14.6" fill="none" stroke="#ff0000" stroke-width="3"/><path d="M343.1 2783.9L346.1 2783.9L371.9 2812.1L371.9 2815.1L368.9 2815.1L343.1 2786.9ZM343.1 2812.1L368.9 2783.9L371.9 2783.9L371.9 2786.9L346.1 2815.1L343.1 2815.1Z"/>
<ellipse cx="392.5" cy="2799.5" rx="13.4" ry="14.6" fill="none" stroke="#ff0000" stroke-width="3"/><path d="M378.1 2783.9L381.1 2783.9L406.9 2812.1L406.9 2815.1L403.9 2815.1L378.1 2786.9ZM378.1 2812.1L403.9 2783.9L406.9 2783.9L406.9 2786.9L381.1 2815.1L378.1 2815.1Z"/>
<ellipse cx="427.5" cy="2799.5" rx="13.4" ry="14.6" fill="none" stroke="#ff0000" stroke-width="3"/><path d="M413.1 2783.9L416.1 2783.9L441.9 2812.1L441.9 2815.1L438.9 2815.1L413.1 2786.9ZM413.1 2812.1L438.9 2783.9L441.9 2783.9L441.9 2786.9L416.1 2815.1L413.1 2815.1Z"/>
<ellipse cx="462.5" cy="2799.5" rx="13.4" ry="14.6" fill="none" stroke="#ff0000" stroke-width="3"/><path d="M448.1 2783.9L451.1 2783.9L476.9 2812.1L476.9 2815.1L473.9 2815.1L448.1 2786.9ZM448.1 2812.1L473.9 2783.9L476.9 2783.9L476.9 2786.9L451.1 2815.1L448.1 2815.1Z"/>
<ellipse cx="497.5" cy="2799.5" rx="13.4" ry="14.6" fill="none" stroke="#ff0000" stroke-width="3"/><path d="M483.1 2783.9L486.1 2783.9L511.9 2812.1L511.9 2815.1L508.9 2815.1L483.1 2786.9ZM483.1 2812.1L508.9 2783.9L511.9 2783.9L511.9 2786.9L486.1 2815.1L483.1 2815.1Z"/>
<ellipse cx="532.5" cy="2799.5" rx="13.4" ry="14.6" fill="none" stroke="#ff0000" stroke-width="3"/><path d="M518.1 2783.9L521.1 2783.9L546.9 2812.1L546.9 2815.1L543.9 2815.1L518.1 2786.9ZM518.1 2812.1L543.9 2783.9L546.9 2783.9L546.9 2786.9L521.1 2815.1L518.1 2815.1Z"/>
<ellipse cx="567.5" cy="2799.5" rx="13.4" ry="14.6" fill="none" stroke="#ff0000" stroke-width="3"/><path d="M553.1 2783.9L556.1 2783.9L581.9 2812.1L581.9 2815.1L578.9 2815.1L553.1 2786.9ZM553.1 2812.1L578.9 2783.9L581.9 2783.9L581.9 2786.9L556.1 2815.1L553.1 2815.1Z"/>
<ellipse cx="602.5" cy="2799.5" rx="13.4" ry="14.6" fill="none" stroke="#ff0000" stroke-width="3"/><path d="M588.1 2783.9L591.1 2783.9L616.9 2812.1L616.9 2815.1L613.9 2815.1L588.1 2786.9ZM588.1 2812.1L613.9 2783.9L616.9 2783.9L616.9 2786.9L591.1 2815.1L588.1 2815.1Z"/>
<ellipse cx="637.5" cy="2799.5" rx="13.4" ry="14.6" fill="none" stroke="#ff0000" stroke-width="3"/><path d="M623.1 2783.9L626.1 2783.9L651.9 2812.1L651.9 2815.1L648.9 2815.1L623.1 2786.9ZM623.1 2812.1L648.9 2783.9L651.9 2783.9L651.9 2786.9L626.1 2815.1L623.1 2815.1Z"/>
<ellipse cx="672.5" cy="2799.5" rx="13.4" ry="14.6" fill="none" stroke="#ff0000" stroke-width="3"/><path d="M658.1 2783.9L661.1 2783.9L686.9 2812.1L686.9 2815.1L683.9 2815.1L658.1 2786.9ZM658.1 2812.1L683.9 2783.9L686.9 2783.9L686.9 2786.9L661.1 2815.1L658.1 2815.1Z"/>
<ellipse cx="707.5" cy="2799.5" rx="13.4" ry="14.6" fill="none" stroke="#ff0000" stroke-width="3"/><path d="M693.1 2783.9L696.1 2783.9L721.9 2812.1L721.9 2815.1L718.9 2815.1L693.1 2786.9ZM693.1 2812.1L718.9 2783.9L721.9 2783.9L721.9 2786.9L696.1 2815.1L693.1 2815.1Z"/>
<ellipse cx="742.5" cy="2799.5" rx="13.4" ry="14.6" fill="none" stroke="#ff0000" stroke-width="3"/><path d="M728.1 2783.9L731.1 2783.9L756.9 2812.1L756.9 2815.1L753.9 2815.1L728.1 2786.9ZM728.1 2812.1L753.9 2783.9L756.9 2783.9L756.9 2786.9L731.1 2815.1L728.1 2815.1Z"/>
<ellipse cx="777.5" cy="2799.5" rx="13.4" ry="14.6" fill="none" stroke="#ff0000" stroke-width="3"/><path d="M763.1 2783.9L766.1 2783.9L791.9 2812.1L791.9 2815.1L788.9 2815.1L763.1 2786.9ZM763.1 2812.1L788.9 2783.9L791.9 2783.9L791.9 2786.9L766.1 2815.1L763.1 2815.1Z"/>
<ellipse cx="812.5" cy="2799.5" rx="13.4" ry="14.6" fill="none" stroke="#ff0000" stroke-width="3"/><path d="M798.1 2783.9L801.1 2783.9L826.9 2812.1L826.9 2815.1L823.9 2815.1L798.1 2786.9ZM798.1 2812.1L823.9 2783.9L826.9 2783.9L826.9 2786.9L801.1 2815.1L798.1 2815.1Z"/>
<ellipse cx="847.5" cy="2799.5" rx="13.4" ry="14.6" fill="none" stroke="#ff0000" stroke-width="3"/><path d="M833.1 2783.9L836.1 2783.9L861.9 2812.1L861.9 2815.1L858.9 2815.1L833.1 2786.9ZM833.1 2812.1L858.9 2783.9L861.9 2783.9L861.9 2786.9L836.1 2815.1L833.1 2815.1Z"/>
<ellipse cx="882.5" cy="2799.5" rx="13.4" ry="14.6" fill="none" stroke="#ff0000" stroke-width="3"/><path d="M868.1 2783.9L871.1 2783.9L896.9 2812.1L896.9 2815.1L893.9 2815.1L868.1 2786.9ZM868.1 2812.1L893.9 2783.9L896.9 2783.9L896.9 2786.9L871.1 2815.1L868.1 2815.1Z"/>
<ellipse cx="917.5" cy="2799.5" rx="13.4" ry="14.6" fill="none" stroke="#ff0000" stroke-width="3"/><path d="M903.1 2783.9L906.1 2783.9L931.9 2812.1L931.9 2815.1L928.9 2815.1L903.1 2786.9ZM903.1 2812.1L928.9 2783.9L931.9 2783.9L931.9 2786.9L906.1 2815.1L903.1 2815.1Z"/>
<ellipse cx="952.5" cy="2799.5" rx="13.4" ry="14.6" fill="none" stroke="#ff0000" stroke-width="3"/><path d="M938.1 2783.9L941.1 2783.9L966.9 2812.1L966.9 2815.1L963.9 2815.1L938.1 2786.9ZM938.1 2812.1L963.9 2783.9L966.9 2783.9L966.9 2786.9L941.1 2815.1L938.1 2815.1Z"/>
<ellipse cx="987.5" cy="2799.5" rx="13.4" ry="14.6" fill="none" stroke="#ff0000" stroke-width="3"/><path d="M973.1 2783.9L976.1 2783.9L1001.9 2812.1L1001.9 2815.1L998.9 2815.1L973.1 2786.9ZM973.1 2812.1L998.9 2783.9L1001.9 2783.9L1001.9 2786.9L976.1 2815.1L973.1 2815.1Z"/>
<ellipse cx="1022.5" cy="2799.5" rx="13.4" ry="14.6" fill="none" stroke="#ff0000" stroke-width="3"/><path d="M1008.1 2783.9L1011.1 2783.9L1036.9 2812.1L1036.9 2815.1L1033.9 2815.1L1008.1 2786.9ZM1008.1 2812.1L1033.9 2783.9L1036.9 2783.9L1036.9 2786.9L1011.1 2815.1L1008.1 2815.1Z"/>
<ellipse cx="1057.5" cy="2799.5" rx="13.4" ry="14.6" fill="none" stroke="#ff0000" stroke-width="3"/><path d="M1043.1 2783.9L1046.1 2783.9L1071.9 2812.1L1071.9 2815.1L1068.9 2815.1L1043.1 2786.9ZM1043.1 2812.1L1068.9 2783.9L1071.9 2783.9L1071.9 2786.9L1046.1 2815.1L1043.1 2815.1Z"/>
<ellipse cx="1092.5" cy="2799.5" rx="13.4" ry="14.6" fill="none" stroke="#ff0000" stroke-width="3"/><path d="M1078.1 2783.9L1081.1 2783.9L1106.9 2812.1L1106.9 2815.1L1103.9 2815.1L1078.1 2786.9ZM1078.1 2812.1L1103.9 2783.9L1106.9 2783.9L1106.9 2786.9L1081.1 2815.1L1078.1 2815.1Z"/>
<ellipse cx="1127.5" cy="2799.5" rx="13.4" ry="14.6" fill="none" stroke="#ff0000" stroke-width="3"/><path d="M1113.1 2783.9L1116.1 2783.9L1141.9 2812.1L1141.9 2815.1L1138.9 2815.1L1113.1 2786.9ZM1113.1 2812.1L1138.9 2783.9L1141.9 2783.9L1141.9 2786.9L1116.1 2815.1L1113.1 2815.1Z"/>
<ellipse cx="1162.5" cy="2799.5" rx="13.4" ry="14.6" fill="none" stroke="#ff0000" stroke-width="3"/><path d="M1148.1 2783.9L1151.1 2783.9L1176.9 2812.1L1176.9 2815.1L1173.9 2815.1L1148.1 2786.9ZM1148.1 2812.1L1173.9 2783.9L1176.9 2783.9L1176.9 2786.9L1151.1 2815.1L1148.1 2815.1Z"/>
<ellipse cx="1197.5" cy="2799.5" rx="13.4" ry="14.6" fill="none" stroke="#ff0000" stroke-width="3"/><path d="M1183.1 2783.9L1186.1 2783.9L1211.9 2812.1L1211.9 2815.1L1208.9 2815.1L1183.1 2786.9ZM1183.1 2812.1L1208.9 2783.9L1211.9 2783.9L1211.9 2786.9L1186.1 2815.1L1183.1 2815.1Z"/>
<ellipse cx="1232.5" cy="2799.5" rx="13.4" ry="14.6" fill="none" stroke="#ff0000" stroke-width="3"/><path d="M1218.1 2783.9L1221.1 2783.9L1246.9 2812.1L1246.9 2815.1L1243.9 2815.1L1218.1 2786.9ZM1218.1 2812.1L1243.9 2783.9L1246.9 2783.9L1246.9 2786.9L1221.1 2815.1L1218.1 2815.1Z"/>
<ellipse cx="1267.5" cy="2799.5" rx="13.4" ry="14.6" fill="none" stroke="#ff0000" stroke-width="3"/><path d="M1253.1 2783.9L1256.1 2783.9L1281.9 2812.1L1281.9 2815.1L1278.9 2815.1L1253.1 2786.9ZM1253.1 2812.1L1278.9 2783.9L1281.9 2783.9L1281.9 2786.9L1256.1 2815.1L1253.1 2815.1Z"/>
<ellipse cx="1302.5" cy="2799.5" rx="13.4" ry="14.6" fill="none" stroke="#ff0000" stroke-width="3"/><path d="M1288.1 2783.9L1291.1 2783.9L1316.9 2812.1L1316.9 2815.1L1313.9 2815.1L1288.1 2786.9ZM1288.1 2812.1L1313.9 2783.9L1316.9 2783.9L1316.9 2786.9L1291.1 2815.1L1288.1 2815.1Z"/>
<ellipse cx="1337.5" cy="2799.5" rx="13.4" ry="14.6" fill="none" stroke="#ff0000" stroke-width="3"/><path d="M1323.1 2783.9L1326.1 2783.9L1351.9 2812.1L1351.9 2815.1L1348.9 2815.1L1323.1 2786.9ZM1323.1 2812.1L1348.9 2783.9L1351.9 2783.9L1351.9 2786.9L1326.1 2815.1L1323.1 2815.1Z"/>
<ellipse cx="1372.5" cy="2799.5" rx="13.4" ry="14.6" fill="none" stroke="#ff0000" stroke-width="3"/><path d="M1358.1 2783.9L1361.1 2783.9L1386.9 2812.1L1386.9 2815.1L1383.9 2815.1L1358.1 2786.9ZM1358.1 2812.1L1383.9 2783.9L1386.9 2783.9L1386.9 2786.9L1361.1 2815.1L1358.1 2815.1Z"/>
<ellipse cx="1407.5" cy="2799.5" rx="13.4" ry="14.6" fill="none" stroke="#ff0000" stroke-width="3"/><path d="M1393.1 2783.9L1396.1 2783.9L1421.9 2812.1L1421.9 2815.1L1418.9 2815.1L1393.1 2786.9ZM1393.1 2812.1L1418.9 2783.9L1421.9 2783.9L1421.9 2786.9L1396.1 2815.1L1393.1 2815.1Z"/>
<ellipse cx="1442.5" cy="2799.5" rx="13.4" ry="14.6" fill="none" stroke="#ff0000" stroke-width="3"/><path d="M1428.1 2783.9L1431.1 2783.9L1456.9 2812.1L1456.9 2815.1L1453.9 2815.1L1428.1 2786.9ZM1428.1 2812.1L1453.9 2783.9L1456.9 2783.9L1456.9 2786.9L1431.1 2815.1L1428.1 2815.1Z"/>
<ellipse cx="1477.5" cy="2799.5" rx="13.4" ry="14.6" fill="none" stroke="#ff0000" stroke-width="3"/><path d="M1463.1 2783.9L1466.1 2783.9L1491.9 2812.1L1491.9 2815.1L1488.9 2815.1L1463.1 2786.9ZM1463.1 2812.1L1488.9 2783.9L1491.9 2783.9L1491.9 2786.9L1466.1 2815.1L1463.1 2815.1Z"/>
<ellipse cx="1512.5" cy="2799.5" rx="13.4" ry="14.6" fill="none" stroke="#ff0000" stroke-width="3"/><path d="M1498.1 2783.9L1501.1 2783.9L1526.9 2812.1L1526.9 2815.1L1523.9 2815.1L1498.1 2786.9ZM1498.1 2812.1L1523.9 2783.9L1526.9 2783.9L1526.9 2786.9L1501.1 2815.1L1498.1 2815.1Z"/>
</g>
<path d="M357.50 2801.50L392.50 2801.50L427.50 2801.50L462.50 2801.50L497.50 2801.50L532.50 2801.50L567.50 2801.50L602.50 2801.50L637.50 2801.50L672.50 2801.50L707.50 2801.50L742.50 2801.50L777.50 2801.50L812.50 2801.50L847.50 2801.50L882.50 2801.50L917.50 2801.50L952.50 2801.50L987.50 2801.50L1022.50 2801.50L1057.50 2801.50L1092.50 2801.50L1127.50 2801.50L1162.50 2801.50L1197.50 2801.50L1232.50 2801.50L1267.50 2801.50L1302.50 2801.50L1337.50 2801.50L1372.50 2801.50L1407.50 2801.50L1442.50 2801.50L1477.50 2801.50L1512.50 2801.50" fill="none" stroke="#1a6ede" stroke-width="3" stroke-linejoin="round"/>
<g fill="#0000ff" shape-rendering="crispEdges">
<path d="M340.2 2809.9L374.8 2809.9L374.8 2812.9L340.2 2812.9ZM356 2780.2L359 2780.2L374.8 2809.9L374.8 2812.9L371.8 2812.9L356 2783.2ZM340.2 2809.9L356 2780.2L359 2780.2L359 2783.2L343.2 2812.9L340.2 2812.9ZM338.1 2781.3L341.1 2781.3L376.9 2818.7L376.9 2821.7L373.9 2821.7L338.1 2784.3ZM338.1 2818.7L373.9 2781.3L376.9 2781.3L376.9 2784.3L341.1 2821.7L338.1 2821.7Z"/>
<path d="M375.2 2809.9L409.8 2809.9L409.8 2812.9L375.2 2812.9ZM391 2780.2L394 2780.2L409.8 2809.9L409.8 2812.9L406.8 2812.9L391 2783.2ZM375.2 2809.9L391 2780.2L394 2780.2L394 2783.2L378.2 2812.9L375.2 2812.9ZM373.1 2781.3L376.1 2781.3L411.9 2818.7L411.9 2821.7L408.9 2821.7L373.1 2784.3ZM373.1 2818.7L408.9 2781.3L411.9 2781.3L411.9 2784.3L376.1 2821.7L373.1 2821.7Z"/>
<path d="M410.2 2809.9L444.8 2809.9L444.8 2812.9L410.2 2812.9ZM426 2780.2L429 2780.2L444.8 2809.9L444.8 2812.9L441.8 2812.9L426 2783.2ZM410.2 2809.9L426 2780.2L429 2780.2L429 2783.2L413.2 2812.9L410.2 2812.9ZM408.1 2781.3L411.1 2781.3L446.9 2818.7L446.9 2821.7L443.9 2821.7L408.1 2784.3ZM408.1 2818.7L443.9 2781.3L446.9 2781.3L446.9 2784.3L411.1 2821.7L408.1 2821.7Z"/>
<path d="M445.2 2809.9L479.8 2809.9L479.8 2812.9L445.2 2812.9ZM461 2780.2L464 2780.2L479.8 2809.9L479.8 2812.9L476.8 2812.9L461 2783.2ZM445.2 2809.9L461 2780.2L464 2780.2L464 2783.2L448.2 2812.9L445.2 2812.9ZM443.1 2781.3L446.1 2781.3L481.9 2818.7L481.9 2821.7L478.9 2821.7L443.1 2784.3ZM443.1 2818.7L478.9 2781.3L481.9 2781.3L481.9 2784.3L446.1 2821.7L443.1 2821.7Z"/>
<path d="M480.2 2809.9L514.8 2809.9L514.8 2812.9L480.2 2812.9ZM496 2780.2L499 2780.2L514.8 2809.9L514.8 2812.9L511.8 2812.9L496 2783.2ZM480.2 2809.9L496 2780.2L499 2780.2L499 2783.2L483.2 2812.9L480.2 2812.9ZM478.1 2781.3L481.1 2781.3L516.9 2818.7L516.9 2821.7L513.9 2821.7L478.1 2784.3ZM478.1 2818.7L513.9 2781.3L516.9 2781.3L516.9 2784.3L481.1 2821.7L478.1 2821.7Z"/>
<path d="M515.2 2809.9L549.8 2809.9L549.8 2812.9L515.2 2812.9ZM531 2780.2L534 2780.2L549.8 2809.9L549.8 2812.9L546.8 2812.9L531 2783.2ZM515.2 2809.9L531 2780.2L534 2780.2L534 2783.2L518.2 2812.9L515.2 2812.9ZM513.1 2781.3L516.1 2781.3L551.9 2818.7L551.9 2821.7L548.9 2821.7L513.1 2784.3ZM513.1 2818.7L548.9 2781.3L551.9 2781.3L551.9 2784.3L516.1 2821.7L513.1 2821.7Z"/>
<path d="M550.2 2809.9L584.8 2809.9L584.8 2812.9L550.2 2812.9ZM566 2780.2L569 2780.2L584.8 2809.9L584.8 2812.9L581.8 2812.9L566 2783.2ZM550.2 2809.9L566 2780.2L569 2780.2L569 2783.2L553.2 2812.9L550.2 2812.9ZM548.1 2781.3L551.1 2781.3L586.9 2818.7L586.9 2821.7L583.9 2821.7L548.1 2784.3ZM548.1 2818.7L583.9 2781.3L586.9 2781.3L586.9 2784.3L551.1 2821.7L548.1 2821.7Z"/>
<path d="M585.2 2809.9L619.8 2809.9L619.8 2812.9L585.2 2812.9ZM601 2780.2L604 2780.2L619.8 2809.9L619.8 2812.9L616.8 2812.9L601 2783.2ZM585.2 2809.9L601 2780.2L604 2780.2L604 2783.2L588.2 2812.9L585.2 2812.9ZM583.1 2781.3L586.1 2781.3L621.9 2818.7L621.9 2821.7L618.9 2821.7L583.1 2784.3ZM583.1 2818.7L618.9 2781.3L621.9 2781.3L621.9 2784.3L586.1 2821.7L583.1 2821.7Z"/>
<path d="M620.2 2809.9L654.8 2809.9L654.8 2812.9L620.2 2812.9ZM636 2780.2L639 2780.2L654.8 2809.9L654.8 2812.9L651.8 2812.9L636 2783.2ZM620.2 2809.9L636 2780.2L639 2780.2L639 2783.2L623.2 2812.9L620.2 2812.9ZM618.1 2781.3L621.1 2781.3L656.9 2818.7L656.9 2821.7L653.9 2821.7L618.1 2784.3ZM618.1 2818.7L653.9 2781.3L656.9 2781.3L656.9 2784.3L621.1 2821.7L618.1 2821.7Z"/>
<path d="M655.2 2809.9L689.8 2809.9L689.8 2812.9L655.2 2812.9ZM671 2780.2L674 2780.2L689.8 2809.9L689.8 2812.9L686.8 2812.9L671 2783.2ZM655.2 2809.9L671 2780.2L674 2780.2L674 2783.2L658.2 2812.9L655.2 2812.9ZM653.1 2781.3L656.1 2781.3L691.9 2818.7L691.9 2821.7L688.9 2821.7L653.1 2784.3ZM653.1 2818.7L688.9 2781.3L691.9 2781.3L691.9 2784.3L656.1 2821.7L653.1 2821.7Z"/>
<path d="M690.2 2809.9L724.8 2809.9L724.8 2812.9L690.2 2812.9ZM706 2780.2L709 2780.2L724.8 2809.9L724.8 2812.9L721.8 2812.9L706 2783.2ZM690.2 2809.9L706 2780.2L709 2780.2L709 2783.2L693.2 2812.9L690.2 2812.9ZM688.1 2781.3L691.1 2781.3L726.9 2818.7L726.9 2821.7L723.9 2821.7L688.1 2784.3ZM688.1 2818.7L723.9 2781.3L726.9 2781.3L726.9 2784.3L691.1 2821.7L688.1 2821.7Z"/>
<path d="M725.2 2809.9L759.8 2809.9L759.8 2812.9L725.2 2812.9ZM741 2780.2L744 2780.2L759.8 2809.9L759.8 2812.9L756.8 2812.9L741 2783.2ZM725.2 2809.9L741 2780.2L744 2780.2L744 2783.2L728.2 2812.9L725.2 2812.9ZM723.1 2781.3L726.1 2781.3L761.9 2818.7L761.9 2821.7L758.9 2821.7L723.1 2784.3ZM723.1 2818.7L758.9 2781.3L761.9 2781.3L761.9 2784.3L726.1 2821.7L723.1 2821.7Z"/>
<path d="M760.2 2809.9L794.8 2809.9L794.8 2812.9L760.2 2812.9ZM776 2780.2L779 2780.2L794.8 2809.9L794.8 2812.9L791.8 2812.9L776 2783.2ZM760.2 2809.9L776 2780.2L779 2780.2L779 2783.2L763.2 2812.9L760.2 2812.9ZM758.1 2781.3L761.1 2781.3L796.9 2818.7L796.9 2821.7L793.9 2821.7L758.1 2784.3ZM758.1 2818.7L793.9 2781.3L796.9 2781.3L796.9 2784.3L761.1 2821.7L758.1 2821.7Z"/>
<path d="M795.2 2809.9L829.8 2809.9L829.8 2812.9L795.2 2812.9ZM811 2780.2L814 2780.2L829.8 2809.9L829.8 2812.9L826.8 2812.9L811 2783.2ZM795.2 2809.9L811 2780.2L814 2780.2L814 2783.2L798.2 2812.9L795.2 2812.9ZM793.1 2781.3L796.1 2781.3L831.9 2818.7L831.9 2821.7L828.9 2821.7L793.1 2784.3ZM793.1 2818.7L828.9 2781.3L831.9 2781.3L831.9 2784.3L796.1 2821.7L793.1 2821.7Z"/>
<path d="M830.2 2809.9L864.8 2809.9L864.8 2812.9L830.2 2812.9ZM846 2780.2L849 2780.2L864.8 2809.9L864.8 2812.9L861.8 2812.9L846 2783.2ZM830.2 2809.9L846 2780.2L849 2780.2L849 2783.2L833.2 2812.9L830.2 2812.9ZM828.1 2781.3L831.1 2781.3L866.9 2818.7L866.9 2821.7L863.9 2821.7L828.1 2784.3ZM828.1 2818.7L863.9 2781.3L866.9 2781.3L866.9 2784.3L831.1 2821.7L828.1 2821.7Z"/>
<path d="M865.2 2809.9L899.8 2809.9L899.8 2812.9L865.2 2812.9ZM881 2780.2L884 2780.2L899.8 2809.9L899.8 2812.9L896.8 2812.9L881 2783.2ZM865.2 2809.9L881 2780.2L884 2780.2L884 2783.2L868.2 2812.9L865.2 2812.9ZM863.1 2781.3L866.1 2781.3L901.9 2818.7L901.9 2821.7L898.9 2821.7L863.1 2784.3ZM863.1 2818.7L898.9 2781.3L901.9 2781.3L901.9 2784.3L866.1 2821.7L863.1 2821.7Z"/>
<path d="M900.2 2809.9L934.8 2809.9L934.8 2812.9L900.2 2812.9ZM916 2780.2L919 2780.2L934.8 2809.9L934.8 2812.9L931.8 2812.9L916 2783.2ZM900.2 2809.9L916 2780.2L919 2780.2L919 2783.2L903.2 2812.9L900.2 2812.9ZM898.1 2781.3L901.1 2781.3L936.9 2818.7L936.9 2821.7L933.9 2821.7L898.1 2784.3ZM898.1 2818.7L933.9 2781.3L936.9 2781.3L936.9 2784.3L901.1 2821.7L898.1 2821.7Z"/>
<path d="M935.2 2809.9L969.8 2809.9L969.8 2812.9L935.2 2812.9ZM951 2780.2L954 2780.2L969.8 2809.9L969.8 2812.9L966.8 2812.9L951 2783.2ZM935.2 2809.9L951 2780.2L954 2780.2L954 2783.2L938.2 2812.9L935.2 2812.9ZM933.1 2781.3L936.1 2781.3L971.9 2818.7L971.9 2821.7L968.9 2821.7L933.1 2784.3ZM933.1 2818.7L968.9 2781.3L971.9 2781.3L971.9 2784.3L936.1 2821.7L933.1 2821.7Z"/>
<path d="M970.2 2809.9L1004.8 2809.9L1004.8 2812.9L970.2 2812.9ZM986 2780.2L989 2780.2L1004.8 2809.9L1004.8 2812.9L1001.8 2812.9L986 2783.2ZM970.2 2809.9L986 2780.2L989 2780.2L989 2783.2L973.2 2812.9L970.2 2812.9ZM968.1 2781.3L971.1 2781.3L1006.9 2818.7L1006.9 2821.7L1003.9 2821.7L968.1 2784.3ZM968.1 2818.7L1003.9 2781.3L1006.9 2781.3L1006.9 2784.3L971.1 2821.7L968.1 2821.7Z"/>
<path d="M1005.2 2809.9L1039.8 2809.9L1039.8 2812.9L1005.2 2812.9ZM1021 2780.2L1024 2780.2L1039.8 2809.9L1039.8 2812.9L1036.8 2812.9L1021 2783.2ZM1005.2 2809.9L1021 2780.2L1024 2780.2L1024 2783.2L1008.2 2812.9L1005.2 2812.9ZM1003.1 2781.3L1006.1 2781.3L1041.9 2818.7L1041.9 2821.7L1038.9 2821.7L1003.1 2784.3ZM1003.1 2818.7L1038.9 2781.3L1041.9 2781.3L1041.9 2784.3L1006.1 2821.7L1003.1 2821.7Z"/>
<path d="M1040.2 2809.9L1074.8 2809.9L1074.8 2812.9L1040.2 2812.9ZM1056 2780.2L1059 2780.2L1074.8 2809.9L1074.8 2812.9L1071.8 2812.9L1056 2783.2ZM1040.2 2809.9L1056 2780.2L1059 2780.2L1059 2783.2L1043.2 2812.9L1040.2 2812.9ZM1038.1 2781.3L1041.1 2781.3L1076.9 2818.7L1076.9 2821.7L1073.9 2821.7L1038.1 2784.3ZM1038.1 2818.7L1073.9 2781.3L1076.9 2781.3L1076.9 2784.3L1041.1 2821.7L1038.1 2821.7Z"/>
<path d="M1075.2 2809.9L1109.8 2809.9L1109.8 2812.9L1075.2 2812.9ZM1091 2780.2L1094 2780.2L1109.8 2809.9L1109.8 2812.9L1106.8 2812.9L1091 2783.2ZM1075.2 2809.9L1091 2780.2L1094 2780.2L1094 2783.2L1078.2 2812.9L1075.2 2812.9ZM1073.1 2781.3L1076.1 2781.3L1111.9 2818.7L1111.9 2821.7L1108.9 2821.7L1073.1 2784.3ZM1073.1 2818.7L1108.9 2781.3L1111.9 2781.3L1111.9 2784.3L1076.1 2821.7L1073.1 2821.7Z"/>
<path d="M1110.2 2809.9L1144.8 2809.9L1144.8 2812.9L1110.2 2812.9ZM1126 2780.2L1129 2780.2L1144.8 2809.9L1144.8 2812.9L1141.8 2812.9L1126 2783.2ZM1110.2 2809.9L1126 2780.2L1129 2780.2L1129 2783.2L1113.2 2812.9L1110.2 2812.9ZM1108.1 2781.3L1111.1 2781.3L1146.9 2818.7L1146.9 2821.7L1143.9 2821.7L1108.1 2784.3ZM1108.1 2818.7L1143.9 2781.3L1146.9 2781.3L1146.9 2784.3L1111.1 2821.7L1108.1 2821.7Z"/>
<path d="M1145.2 2809.9L1179.8 2809.9L1179.8 2812.9L1145.2 2812.9ZM1161 2780.2L1164 2780.2L1179.8 2809.9L1179.8 2812.9L1176.8 2812.9L1161 2783.2ZM1145.2 2809.9L1161 2780.2L1164 2780.2L1164 2783.2L1148.2 2812.9L1145.2 2812.9ZM1143.1 2781.3L1146.1 2781.3L1181.9 2818.7L1181.9 2821.7L1178.9 2821.7L1143.1 2784.3ZM1143.1 2818.7L1178.9 2781.3L1181.9 2781.3L1181.9 2784.3L1146.1 2821.7L1143.1 2821.7Z"/>
<path d="M1180.2 2809.9L1214.8 2809.9L1214.8 2812.9L1180.2 2812.9ZM1196 2780.2L1199 2780.2L1214.8 2809.9L1214.8 2812.9L1211.8 2812.9L1196 2783.2ZM1180.2 2809.9L1196 2780.2L1199 2780.2L1199 2783.2L1183.2 2812.9L1180.2 2812.9ZM1178.1 2781.3L1181.1 2781.3L1216.9 2818.7L1216.9 2821.7L1213.9 2821.7L1178.1 2784.3ZM1178.1 2818.7L1213.9 2781.3L1216.9 2781.3L1216.9 2784.3L1181.1 2821.7L1178.1 2821.7Z"/>
<path d="M1215.2 2809.9L1249.8 2809.9L1249.8 2812.9L1215.2 2812.9ZM1231 2780.2L1234 2780.2L1249.8 2809.9L1249.8 2812.9L1246.8 2812.9L1231 2783.2ZM1215.2 2809.9L1231 2780.2L1234 2780.2L1234 2783.2L1218.2 2812.9L1215.2 2812.9ZM1213.1 2781.3L1216.1 2781.3L1251.9 2818.7L1251.9 2821.7L1248.9 2821.7L1213.1 2784.3ZM1213.1 2818.7L1248.9 2781.3L1251.9 2781.3L1251.9 2784.3L1216.1 2821.7L1213.1 2821.7Z"/>
<path d="M1250.2 2809.9L1284.8 2809.9L1284.8 2812.9L1250.2 2812.9ZM1266 2780.2L1269 2780.2L1284.8 2809.9L1284.8 2812.9L1281.8 2812.9L1266 2783.2ZM1250.2 2809.9L1266 2780.2L1269 2780.2L1269 2783.2L1253.2 2812.9L1250.2 2812.9ZM1248.1 2781.3L1251.1 2781.3L1286.9 2818.7L1286.9 2821.7L1283.9 2821.7L1248.1 2784.3ZM1248.1 2818.7L1283.9 2781.3L1286.9 2781.3L1286.9 2784.3L1251.1 2821.7L1248.1 2821.7Z"/>
<path d="M1285.2 2809.9L1319.8 2809.9L1319.8 2812.9L1285.2 2812.9ZM1301 2780.2L1304 2780.2L1319.8 2809.9L1319.8 2812.9L1316.8 2812.9L1301 2783.2ZM1285.2 2809.9L1301 2780.2L1304 2780.2L1304 2783.2L1288.2 2812.9L1285.2 2812.9ZM1283.1 2781.3L1286.1 2781.3L1321.9 2818.7L1321.9 2821.7L1318.9 2821.7L1283.1 2784.3ZM1283.1 2818.7L1318.9 2781.3L1321.9 2781.3L1321.9 2784.3L1286.1 2821.7L1283.1 2821.7Z"/>
<path d="M1320.2 2809.9L1354.8 2809.9L1354.8 2812.9L1320.2 2812.9ZM1336 2780.2L1339 2780.2L1354.8 2809.9L1354.8 2812.9L1351.8 2812.9L1336 2783.2ZM1320.2 2809.9L1336 2780.2L1339 2780.2L1339 2783.2L1323.2 2812.9L1320.2 2812.9ZM1318.1 2781.3L1321.1 2781.3L1356.9 2818.7L1356.9 2821.7L1353.9 2821.7L1318.1 2784.3ZM1318.1 2818.7L1353.9 2781.3L1356.9 2781.3L1356.9 2784.3L1321.1 2821.7L1318.1 2821.7Z"/>
<path d="M1355.2 2809.9L1389.8 2809.9L1389.8 2812.9L1355.2 2812.9ZM1371 2780.2L1374 2780.2L1389.8 2809.9L1389.8 2812.9L1386.8 2812.9L1371 2783.2ZM1355.2 2809.9L1371 2780.2L1374 2780.2L1374 2783.2L1358.2 2812.9L1355.2 2812.9ZM1353.1 2781.3L1356.1 2781.3L1391.9 2818.7L1391.9 2821.7L1388.9 2821.7L1353.1 2784.3ZM1353.1 2818.7L1388.9 2781.3L1391.9 2781.3L1391.9 2784.3L1356.1 2821.7L1353.1 2821.7Z"/>
<path d="M1390.2 2809.9L1424.8 2809.9L1424.8 2812.9L1390.2 2812.9ZM1406 2780.2L1409 2780.2L1424.8 2809.9L1424.8 2812.9L1421.8 2812.9L1406 2783.2ZM1390.2 2809.9L1406 2780.2L1409 2780.2L1409 2783.2L1393.2 2812.9L1390.2 2812.9ZM1388.1 2781.3L1391.1 2781.3L1426.9 2818.7L1426.9 2821.7L1423.9 2821.7L1388.1 2784.3ZM1388.1 2818.7L1423.9 2781.3L1426.9 2781.3L1426.9 2784.3L1391.1 2821.7L1388.1 2821.7Z"/>
<path d="M1425.2 2809.9L1459.8 2809.9L1459.8 2812.9L1425.2 2812.9ZM1441 2780.2L1444 2780.2L1459.8 2809.9L1459.8 2812.9L1456.8 2812.9L1441 2783.2ZM1425.2 2809.9L1441 2780.2L1444 2780.2L1444 2783.2L1428.2 2812.9L1425.2 2812.9ZM1423.1 2781.3L1426.1 2781.3L1461.9 2818.7L1461.9 2821.7L1458.9 2821.7L1423.1 2784.3ZM1423.1 2818.7L1458.9 2781.3L1461.9 2781.3L1461.9 2784.3L1426.1 2821.7L1423.1 2821.7Z"/>
<path d="M1460.2 2809.9L1494.8 2809.9L1494.8 2812.9L1460.2 2812.9ZM1476 2780.2L1479 2780.2L1494.8 2809.9L1494.8 2812.9L1491.8 2812.9L1476 2783.2ZM1460.2 2809.9L1476 2780.2L1479 2780.2L1479 2783.2L1463.2 2812.9L1460.2 2812.9ZM1458.1 2781.3L1461.1 2781.3L1496.9 2818.7L1496.9 2821.7L1493.9 2821.7L1458.1 2784.3ZM1458.1 2818.7L1493.9 2781.3L1496.9 2781.3L1496.9 2784.3L1461.1 2821.7L1458.1 2821.7Z"/>
<path d="M1495.2 2809.9L1529.8 2809.9L1529.8 2812.9L1495.2 2812.9ZM1511 2780.2L1514 2780.2L1529.8 2809.9L1529.8 2812.9L1526.8 2812.9L1511 2783.2ZM1495.2 2809.9L1511 2780.2L1514 2780.2L1514 2783.2L1498.2 2812.9L1495.2 2812.9ZM1493.1 2781.3L1496.1 2781.3L1531.9 2818.7L1531.9 2821.7L1528.9 2821.7L1493.1 2784.3ZM1493.1 2818.7L1528.9 2781.3L1531.9 2781.3L1531.9 2784.3L1496.1 2821.7L1493.1 2821.7Z"/>
</g>
<path d="M357.50 1783.50L392.50 2455.40L427.50 2574.80L462.50 2633.90L497.50 2671.30L532.50 2698.50L567.50 2718.10L602.50 2733.70L637.50 2745.70L672.50 2755.50L707.50 2762.70L742.50 2769.20L777.50 2774.70L812.50 2778.59L847.50 2781.65L882.50 2784.08L917.50 2785.99L952.50 2787.51L987.50 2788.70L1022.50 2789.65L1057.50 2790.39L1092.50 2790.98L1127.50 2791.45L1162.50 2791.82L1197.50 2792.11L1232.50 2792.34L1267.50 2792.52L1302.50 2792.66L1337.50 2792.77L1372.50 2792.86L1407.50 2792.93L1442.50 2792.99L1477.50 2793.03L1512.50 2793.07" fill="none" stroke="#38ae6e" stroke-width="2.8" stroke-linejoin="round"/>
<g fill="#008000" shape-rendering="crispEdges">
<path d="M340.2 1791.9L374.8 1791.9L374.8 1794.9L340.2 1794.9ZM356 1762.2L359 1762.2L374.8 1791.9L374.8 1794.9L371.8 1794.9L356 1765.2ZM340.2 1791.9L356 1762.2L359 1762.2L359 1765.2L343.2 1794.9L340.2 1794.9ZM338.1 1763.3L341.1 1763.3L376.9 1800.7L376.9 1803.7L373.9 1803.7L338.1 1766.3ZM338.1 1800.7L373.9 1763.3L376.9 1763.3L376.9 1766.3L341.1 1803.7L338.1 1803.7Z"/>
<path d="M375.2 2463.8L409.8 2463.8L409.8 2466.8L375.2 2466.8ZM391 2434.1L394 2434.1L409.8 2463.8L409.8 2466.8L406.8 2466.8L391 2437.1ZM375.2 2463.8L391 2434.1L394 2434.1L394 2437.1L378.2 2466.8L375.2 2466.8ZM373.1 2435.2L376.1 2435.2L411.9 2472.6L411.9 2475.6L408.9 2475.6L373.1 2438.2ZM373.1 2472.6L408.9 2435.2L411.9 2435.2L411.9 2438.2L376.1 2475.6L373.1 2475.6Z"/>
<path d="M410.2 2583.2L444.8 2583.2L444.8 2586.2L410.2 2586.2ZM426 2553.5L429 2553.5L444.8 2583.2L444.8 2586.2L441.8 2586.2L426 2556.5ZM410.2 2583.2L426 2553.5L429 2553.5L429 2556.5L413.2 2586.2L410.2 2586.2ZM408.1 2554.6L411.1 2554.6L446.9 2592L446.9 2595L443.9 2595L408.1 2557.6ZM408.1 2592L443.9 2554.6L446.9 2554.6L446.9 2557.6L411.1 2595L408.1 2595Z"/>
<path d="M445.2 2642.3L479.8 2642.3L479.8 2645.3L445.2 2645.3ZM461 2612.6L464 2612.6L479.8 2642.3L479.8 2645.3L476.8 2645.3L461 2615.6ZM445.2 2642.3L461 2612.6L464 2612.6L464 2615.6L448.2 2645.3L445.2 2645.3ZM443.1 2613.7L446.1 2613.7L481.9 2651.1L481.9 2654.1L478.9 2654.1L443.1 2616.7ZM443.1 2651.1L478.9 2613.7L481.9 2613.7L481.9 2616.7L446.1 2654.1L443.1 2654.1Z"/>
<path d="M480.2 2679.7L514.8 2679.7L514.8 2682.7L480.2 2682.7ZM496 2650L499 2650L514.8 2679.7L514.8 2682.7L511.8 2682.7L496 2653ZM480.2 2679.7L496 2650L499 2650L499 2653L483.2 2682.7L480.2 2682.7ZM478.1 2651.1L481.1 2651.1L516.9 2688.5L516.9 2691.5L513.9 2691.5L478.1 2654.1ZM478.1 2688.5L513.9 2651.1L516.9 2651.1L516.9 2654.1L481.1 2691.5L478.1 2691.5Z"/>
<path d="M515.2 2706.9L549.8 2706.9L549.8 2709.9L515.2 2709.9ZM531 2677.2L534 2677.2L549.8 2706.9L549.8 2709.9L546.8 2709.9L531 2680.2ZM515.2 2706.9L531 2677.2L534 2677.2L534 2680.2L518.2 2709.9L515.2 2709.9ZM513.1 2678.3L516.1 2678.3L551.9 2715.7L551.9 2718.7L548.9 2718.7L513.1 2681.3ZM513.1 2715.7L548.9 2678.3L551.9 2678.3L551.9 2681.3L516.1 2718.7L513.1 2718.7Z"/>
<path d="M550.2 2726.5L584.8 2726.5L584.8 2729.5L550.2 2729.5ZM566 2696.8L569 2696.8L584.8 2726.5L584.8 2729.5L581.8 2729.5L566 2699.8ZM550.2 2726.5L566 2696.8L569 2696.8L569 2699.8L553.2 2729.5L550.2 2729.5ZM548.1 2697.9L551.1 2697.9L586.9 2735.3L586.9 2738.3L583.9 2738.3L548.1 2700.9ZM548.1 2735.3L583.9 2697.9L586.9 2697.9L586.9 2700.9L551.1 2738.3L548.1 2738.3Z"/>
<path d="M585.2 2742.1L619.8 2742.1L619.8 2745.1L585.2 2745.1ZM601 2712.4L604 2712.4L619.8 2742.1L619.8 2745.1L616.8 2745.1L601 2715.4ZM585.2 2742.1L601 2712.4L604 2712.4L604 2715.4L588.2 2745.1L585.2 2745.1ZM583.1 2713.5L586.1 2713.5L621.9 2750.9L621.9 2753.9L618.9 2753.9L583.1 2716.5ZM583.1 2750.9L618.9 2713.5L621.9 2713.5L621.9 2716.5L586.1 2753.9L583.1 2753.9Z"/>
<path d="M620.2 2754.1L654.8 2754.1L654.8 2757.1L620.2 2757.1ZM636 2724.4L639 2724.4L654.8 2754.1L654.8 2757.1L651.8 2757.1L636 2727.4ZM620.2 2754.1L636 2724.4L639 2724.4L639 2727.4L623.2 2757.1L620.2 2757.1ZM618.1 2725.5L621.1 2725.5L656.9 2762.9L656.9 2765.9L653.9 2765.9L618.1 2728.5ZM618.1 2762.9L653.9 2725.5L656.9 2725.5L656.9 2728.5L621.1 2765.9L618.1 2765.9Z"/>
<path d="M655.2 2763.9L689.8 2763.9L689.8 2766.9L655.2 2766.9ZM671 2734.2L674 2734.2L689.8 2763.9L689.8 2766.9L686.8 2766.9L671 2737.2ZM655.2 2763.9L671 2734.2L674 2734.2L674 2737.2L658.2 2766.9L655.2 2766.9ZM653.1 2735.3L656.1 2735.3L691.9 2772.7L691.9 2775.7L688.9 2775.7L653.1 2738.3ZM653.1 2772.7L688.9 2735.3L691.9 2735.3L691.9 2738.3L656.1 2775.7L653.1 2775.7Z"/>
<path d="M690.2 2771.1L724.8 2771.1L724.8 2774.1L690.2 2774.1ZM706 2741.4L709 2741.4L724.8 2771.1L724.8 2774.1L721.8 2774.1L706 2744.4ZM690.2 2771.1L706 2741.4L709 2741.4L709 2744.4L693.2 2774.1L690.2 2774.1ZM688.1 2742.5L691.1 2742.5L726.9 2779.9L726.9 2782.9L723.9 2782.9L688.1 2745.5ZM688.1 2779.9L723.9 2742.5L726.9 2742.5L726.9 2745.5L691.1 2782.9L688.1 2782.9Z"/>
<path d="M725.2 2777.6L759.8 2777.6L759.8 2780.6L725.2 2780.6ZM741 2747.9L744 2747.9L759.8 2777.6L759.8 2780.6L756.8 2780.6L741 2750.9ZM725.2 2777.6L741 2747.9L744 2747.9L744 2750.9L728.2 2780.6L725.2 2780.6ZM723.1 2749L726.1 2749L761.9 2786.4L761.9 2789.4L758.9 2789.4L723.1 2752ZM723.1 2786.4L758.9 2749L761.9 2749L761.9 2752L726.1 2789.4L723.1 2789.4Z"/>
<path d="M760.2 2783.1L794.8 2783.1L794.8 2786.1L760.2 2786.1ZM776 2753.4L779 2753.4L794.8 2783.1L794.8 2786.1L791.8 2786.1L776 2756.4ZM760.2 2783.1L776 2753.4L779 2753.4L779 2756.4L763.2 2786.1L760.2 2786.1ZM758.1 2754.5L761.1 2754.5L796.9 2791.9L796.9 2794.9L793.9 2794.9L758.1 2757.5ZM758.1 2791.9L793.9 2754.5L796.9 2754.5L796.9 2757.5L761.1 2794.9L758.1 2794.9Z"/>
<path d="M795.2 2787L829.8 2787L829.8 2790L795.2 2790ZM811 2757.3L814 2757.3L829.8 2787L829.8 2790L826.8 2790L811 2760.3ZM795.2 2787L811 2757.3L814 2757.3L814 2760.3L798.2 2790L795.2 2790ZM793.1 2758.4L796.1 2758.4L831.9 2795.7L831.9 2798.7L828.9 2798.7L793.1 2761.4ZM793.1 2795.7L828.9 2758.4L831.9 2758.4L831.9 2761.4L796.1 2798.7L793.1 2798.7Z"/>
<path d="M830.2 2790.1L864.8 2790.1L864.8 2793.1L830.2 2793.1ZM846 2760.3L849 2760.3L864.8 2790.1L864.8 2793.1L861.8 2793.1L846 2763.3ZM830.2 2790.1L846 2760.3L849 2760.3L849 2763.3L833.2 2793.1L830.2 2793.1ZM828.1 2761.5L831.1 2761.5L866.9 2798.8L866.9 2801.8L863.9 2801.8L828.1 2764.5ZM828.1 2798.8L863.9 2761.5L866.9 2761.5L866.9 2764.5L831.1 2801.8L828.1 2801.8Z"/>
<path d="M865.2 2792.5L899.8 2792.5L899.8 2795.5L865.2 2795.5ZM881 2762.7L884 2762.7L899.8 2792.5L899.8 2795.5L896.8 2795.5L881 2765.7ZM865.2 2792.5L881 2762.7L884 2762.7L884 2765.7L868.2 2795.5L865.2 2795.5ZM863.1 2763.9L866.1 2763.9L901.9 2801.2L901.9 2804.2L898.9 2804.2L863.1 2766.9ZM863.1 2801.2L898.9 2763.9L901.9 2763.9L901.9 2766.9L866.1 2804.2L863.1 2804.2Z"/>
<path d="M900.2 2794.4L934.8 2794.4L934.8 2797.4L900.2 2797.4ZM916 2764.7L919 2764.7L934.8 2794.4L934.8 2797.4L931.8 2797.4L916 2767.7ZM900.2 2794.4L916 2764.7L919 2764.7L919 2767.7L903.2 2797.4L900.2 2797.4ZM898.1 2765.8L901.1 2765.8L936.9 2803.2L936.9 2806.2L933.9 2806.2L898.1 2768.8ZM898.1 2803.2L933.9 2765.8L936.9 2765.8L936.9 2768.8L901.1 2806.2L898.1 2806.2Z"/>
<path d="M935.2 2795.9L969.8 2795.9L969.8 2798.9L935.2 2798.9ZM951 2766.2L954 2766.2L969.8 2795.9L969.8 2798.9L966.8 2798.9L951 2769.2ZM935.2 2795.9L951 2766.2L954 2766.2L954 2769.2L938.2 2798.9L935.2 2798.9ZM933.1 2767.3L936.1 2767.3L971.9 2804.7L971.9 2807.7L968.9 2807.7L933.1 2770.3ZM933.1 2804.7L968.9 2767.3L971.9 2767.3L971.9 2770.3L936.1 2807.7L933.1 2807.7Z"/>
<path d="M970.2 2797.1L1004.8 2797.1L1004.8 2800.1L970.2 2800.1ZM986 2767.4L989 2767.4L1004.8 2797.1L1004.8 2800.1L1001.8 2800.1L986 2770.4ZM970.2 2797.1L986 2767.4L989 2767.4L989 2770.4L973.2 2800.1L970.2 2800.1ZM968.1 2768.5L971.1 2768.5L1006.9 2805.9L1006.9 2808.9L1003.9 2808.9L968.1 2771.5ZM968.1 2805.9L1003.9 2768.5L1006.9 2768.5L1006.9 2771.5L971.1 2808.9L968.1 2808.9Z"/>
<path d="M1005.2 2798.1L1039.8 2798.1L1039.8 2801.1L1005.2 2801.1ZM1021 2768.3L1024 2768.3L1039.8 2798.1L1039.8 2801.1L1036.8 2801.1L1021 2771.3ZM1005.2 2798.1L1021 2768.3L1024 2768.3L1024 2771.3L1008.2 2801.1L1005.2 2801.1ZM1003.1 2769.5L1006.1 2769.5L1041.9 2806.8L1041.9 2809.8L1038.9 2809.8L1003.1 2772.5ZM1003.1 2806.8L1038.9 2769.5L1041.9 2769.5L1041.9 2772.5L1006.1 2809.8L1003.1 2809.8Z"/>
<path d="M1040.2 2798.8L1074.8 2798.8L1074.8 2801.8L1040.2 2801.8ZM1056 2769.1L1059 2769.1L1074.8 2798.8L1074.8 2801.8L1071.8 2801.8L1056 2772.1ZM1040.2 2798.8L1056 2769.1L1059 2769.1L1059 2772.1L1043.2 2801.8L1040.2 2801.8ZM1038.1 2770.2L1041.1 2770.2L1076.9 2807.6L1076.9 2810.6L1073.9 2810.6L1038.1 2773.2ZM1038.1 2807.6L1073.9 2770.2L1076.9 2770.2L1076.9 2773.2L1041.1 2810.6L1038.1 2810.6Z"/>
<path d="M1075.2 2799.4L1109.8 2799.4L1109.8 2802.4L1075.2 2802.4ZM1091 2769.7L1094 2769.7L1109.8 2799.4L1109.8 2802.4L1106.8 2802.4L1091 2772.7ZM1075.2 2799.4L1091 2769.7L1094 2769.7L1094 2772.7L1078.2 2802.4L1075.2 2802.4ZM1073.1 2770.8L1076.1 2770.8L1111.9 2808.1L1111.9 2811.1L1108.9 2811.1L1073.1 2773.8ZM1073.1 2808.1L1108.9 2770.8L1111.9 2770.8L1111.9 2773.8L1076.1 2811.1L1073.1 2811.1Z"/>
<path d="M1110.2 2799.9L1144.8 2799.9L1144.8 2802.9L1110.2 2802.9ZM1126 2770.1L1129 2770.1L1144.8 2799.9L1144.8 2802.9L1141.8 2802.9L1126 2773.1ZM1110.2 2799.9L1126 2770.1L1129 2770.1L1129 2773.1L1113.2 2802.9L1110.2 2802.9ZM1108.1 2771.3L1111.1 2771.3L1146.9 2808.6L1146.9 2811.6L1143.9 2811.6L1108.1 2774.3ZM1108.1 2808.6L1143.9 2771.3L1146.9 2771.3L1146.9 2774.3L1111.1 2811.6L1108.1 2811.6Z"/>
<path d="M1145.2 2800.2L1179.8 2800.2L1179.8 2803.2L1145.2 2803.2ZM1161 2770.5L1164 2770.5L1179.8 2800.2L1179.8 2803.2L1176.8 2803.2L1161 2773.5ZM1145.2 2800.2L1161 2770.5L1164 2770.5L1164 2773.5L1148.2 2803.2L1145.2 2803.2ZM1143.1 2771.7L1146.1 2771.7L1181.9 2809L1181.9 2812L1178.9 2812L1143.1 2774.7ZM1143.1 2809L1178.9 2771.7L1181.9 2771.7L1181.9 2774.7L1146.1 2812L1143.1 2812Z"/>
<path d="M1180.2 2800.5L1214.8 2800.5L1214.8 2803.5L1180.2 2803.5ZM1196 2770.8L1199 2770.8L1214.8 2800.5L1214.8 2803.5L1211.8 2803.5L1196 2773.8ZM1180.2 2800.5L1196 2770.8L1199 2770.8L1199 2773.8L1183.2 2803.5L1180.2 2803.5ZM1178.1 2771.9L1181.1 2771.9L1216.9 2809.3L1216.9 2812.3L1213.9 2812.3L1178.1 2774.9ZM1178.1 2809.3L1213.9 2771.9L1216.9 2771.9L1216.9 2774.9L1181.1 2812.3L1178.1 2812.3Z"/>
<path d="M1215.2 2800.8L1249.8 2800.8L1249.8 2803.8L1215.2 2803.8ZM1231 2771L1234 2771L1249.8 2800.8L1249.8 2803.8L1246.8 2803.8L1231 2774ZM1215.2 2800.8L1231 2771L1234 2771L1234 2774L1218.2 2803.8L1215.2 2803.8ZM1213.1 2772.2L1216.1 2772.2L1251.9 2809.5L1251.9 2812.5L1248.9 2812.5L1213.1 2775.2ZM1213.1 2809.5L1248.9 2772.2L1251.9 2772.2L1251.9 2775.2L1216.1 2812.5L1213.1 2812.5Z"/>
<path d="M1250.2 2800.9L1284.8 2800.9L1284.8 2803.9L1250.2 2803.9ZM1266 2771.2L1269 2771.2L1284.8 2800.9L1284.8 2803.9L1281.8 2803.9L1266 2774.2ZM1250.2 2800.9L1266 2771.2L1269 2771.2L1269 2774.2L1253.2 2803.9L1250.2 2803.9ZM1248.1 2772.4L1251.1 2772.4L1286.9 2809.7L1286.9 2812.7L1283.9 2812.7L1248.1 2775.4ZM1248.1 2809.7L1283.9 2772.4L1286.9 2772.4L1286.9 2775.4L1251.1 2812.7L1248.1 2812.7Z"/>
<path d="M1285.2 2801.1L1319.8 2801.1L1319.8 2804.1L1285.2 2804.1ZM1301 2771.3L1304 2771.3L1319.8 2801.1L1319.8 2804.1L1316.8 2804.1L1301 2774.3ZM1285.2 2801.1L1301 2771.3L1304 2771.3L1304 2774.3L1288.2 2804.1L1285.2 2804.1ZM1283.1 2772.5L1286.1 2772.5L1321.9 2809.8L1321.9 2812.8L1318.9 2812.8L1283.1 2775.5ZM1283.1 2809.8L1318.9 2772.5L1321.9 2772.5L1321.9 2775.5L1286.1 2812.8L1283.1 2812.8Z"/>
<path d="M1320.2 2801.2L1354.8 2801.2L1354.8 2804.2L1320.2 2804.2ZM1336 2771.4L1339 2771.4L1354.8 2801.2L1354.8 2804.2L1351.8 2804.2L1336 2774.4ZM1320.2 2801.2L1336 2771.4L1339 2771.4L1339 2774.4L1323.2 2804.2L1320.2 2804.2ZM1318.1 2772.6L1321.1 2772.6L1356.9 2809.9L1356.9 2812.9L1353.9 2812.9L1318.1 2775.6ZM1318.1 2809.9L1353.9 2772.6L1356.9 2772.6L1356.9 2775.6L1321.1 2812.9L1318.1 2812.9Z"/>
<path d="M1355.2 2801.3L1389.8 2801.3L1389.8 2804.3L1355.2 2804.3ZM1371 2771.5L1374 2771.5L1389.8 2801.3L1389.8 2804.3L1386.8 2804.3L1371 2774.5ZM1355.2 2801.3L1371 2771.5L1374 2771.5L1374 2774.5L1358.2 2804.3L1355.2 2804.3ZM1353.1 2772.7L1356.1 2772.7L1391.9 2810L1391.9 2813L1388.9 2813L1353.1 2775.7ZM1353.1 2810L1388.9 2772.7L1391.9 2772.7L1391.9 2775.7L1356.1 2813L1353.1 2813Z"/>
<path d="M1390.2 2801.3L1424.8 2801.3L1424.8 2804.3L1390.2 2804.3ZM1406 2771.6L1409 2771.6L1424.8 2801.3L1424.8 2804.3L1421.8 2804.3L1406 2774.6ZM1390.2 2801.3L1406 2771.6L1409 2771.6L1409 2774.6L1393.2 2804.3L1390.2 2804.3ZM1388.1 2772.8L1391.1 2772.8L1426.9 2810.1L1426.9 2813.1L1423.9 2813.1L1388.1 2775.8ZM1388.1 2810.1L1423.9 2772.8L1426.9 2772.8L1426.9 2775.8L1391.1 2813.1L1388.1 2813.1Z"/>
<path d="M1425.2 2801.4L1459.8 2801.4L1459.8 2804.4L1425.2 2804.4ZM1441 2771.7L1444 2771.7L1459.8 2801.4L1459.8 2804.4L1456.8 2804.4L1441 2774.7ZM1425.2 2801.4L1441 2771.7L1444 2771.7L1444 2774.7L1428.2 2804.4L1425.2 2804.4ZM1423.1 2772.8L1426.1 2772.8L1461.9 2810.2L1461.9 2813.2L1458.9 2813.2L1423.1 2775.8ZM1423.1 2810.2L1458.9 2772.8L1461.9 2772.8L1461.9 2775.8L1426.1 2813.2L1423.1 2813.2Z"/>
<path d="M1460.2 2801.4L1494.8 2801.4L1494.8 2804.4L1460.2 2804.4ZM1476 2771.7L1479 2771.7L1494.8 2801.4L1494.8 2804.4L1491.8 2804.4L1476 2774.7ZM1460.2 2801.4L1476 2771.7L1479 2771.7L1479 2774.7L1463.2 2804.4L1460.2 2804.4ZM1458.1 2772.9L1461.1 2772.9L1496.9 2810.2L1496.9 2813.2L1493.9 2813.2L1458.1 2775.9ZM1458.1 2810.2L1493.9 2772.9L1496.9 2772.9L1496.9 2775.9L1461.1 2813.2L1458.1 2813.2Z"/>
<path d="M1495.2 2801.5L1529.8 2801.5L1529.8 2804.5L1495.2 2804.5ZM1511 2771.7L1514 2771.7L1529.8 2801.5L1529.8 2804.5L1526.8 2804.5L1511 2774.7ZM1495.2 2801.5L1511 2771.7L1514 2771.7L1514 2774.7L1498.2 2804.5L1495.2 2804.5ZM1493.1 2772.9L1496.1 2772.9L1531.9 2810.2L1531.9 2813.2L1528.9 2813.2L1493.1 2775.9ZM1493.1 2810.2L1528.9 2772.9L1531.9 2772.9L1531.9 2775.9L1496.1 2813.2L1493.1 2813.2Z"/>
</g>
<g shape-rendering="crispEdges">
<rect x="246" y="1664" width="9" height="1236" fill="#000"/>
<rect x="1683" y="1664" width="9" height="1236" fill="#000"/>
<rect x="250" y="1659" width="1438" height="10" fill="#000"/>
<rect x="250" y="2895" width="1438" height="10" fill="#000"/>
<rect x="348" y="2875" width="10" height="20" fill="#000"/>
<rect x="451" y="2887" width="10" height="8" fill="#000"/>
<rect x="553" y="2875" width="10" height="20" fill="#000"/>
<rect x="656" y="2887" width="10" height="8" fill="#000"/>
<rect x="759" y="2875" width="10" height="20" fill="#000"/>
<rect x="861" y="2887" width="10" height="8" fill="#000"/>
<rect x="964" y="2875" width="10" height="20" fill="#000"/>
<rect x="1067" y="2887" width="10" height="8" fill="#000"/>
<rect x="1169" y="2875" width="10" height="20" fill="#000"/>
<rect x="1272" y="2887" width="10" height="8" fill="#000"/>
<rect x="1375" y="2875" width="10" height="20" fill="#000"/>
<rect x="1477" y="2887" width="10" height="8" fill="#000"/>
<rect x="1580" y="2875" width="10" height="20" fill="#000"/>
<rect x="255" y="2822" width="19" height="10" fill="#000"/>
<rect x="255" y="2749" width="7" height="10" fill="#000"/>
<rect x="255" y="2677" width="19" height="10" fill="#000"/>
<rect x="255" y="2604" width="7" height="10" fill="#000"/>
<rect x="255" y="2531" width="19" height="10" fill="#000"/>
<rect x="255" y="2459" width="7" height="10" fill="#000"/>
<rect x="255" y="2386" width="19" height="10" fill="#000"/>
<rect x="255" y="2313" width="7" height="10" fill="#000"/>
<rect x="255" y="2240" width="19" height="10" fill="#000"/>
<rect x="255" y="2168" width="7" height="10" fill="#000"/>
<rect x="255" y="2095" width="19" height="10" fill="#000"/>
<rect x="255" y="2022" width="7" height="10" fill="#000"/>
<rect x="255" y="1950" width="19" height="10" fill="#000"/>
<rect x="255" y="1877" width="7" height="10" fill="#000"/>
<rect x="255" y="1804" width="19" height="10" fill="#000"/>
<rect x="255" y="1732" width="7" height="10" fill="#000"/>
<rect x="255" y="1659" width="19" height="10" fill="#000"/>
</g>
<text transform="translate(353 2981.5) scale(0.9 1)" font-size="73.3" text-anchor="middle">0</text>
<text transform="translate(558.33 2981.5) scale(0.9 1)" font-size="73.3" text-anchor="middle">10</text>
<text transform="translate(763.66 2981.5) scale(0.9 1)" font-size="73.3" text-anchor="middle">20</text>
<text transform="translate(968.99 2981.5) scale(0.9 1)" font-size="73.3" text-anchor="middle">30</text>
<text transform="translate(1174.32 2981.5) scale(0.9 1)" font-size="73.3" text-anchor="middle">40</text>
<text transform="translate(1379.65 2981.5) scale(0.9 1)" font-size="73.3" text-anchor="middle">50</text>
<text transform="translate(1584.98 2981.5) scale(0.9 1)" font-size="73.3" text-anchor="middle">60</text>
<text transform="translate(228.5 2848.5) scale(0.9 1)" font-size="73.3" text-anchor="end">4</text>
<text transform="translate(228.5 2703.12) scale(0.9 1)" font-size="73.3" text-anchor="end">6</text>
<text transform="translate(228.5 2557.74) scale(0.9 1)" font-size="73.3" text-anchor="end">8</text>
<text transform="translate(228.5 2412.36) scale(0.9 1)" font-size="73.3" text-anchor="end">10</text>
<text transform="translate(228.5 2266.98) scale(0.9 1)" font-size="73.3" text-anchor="end">12</text>
<text transform="translate(228.5 2121.6) scale(0.9 1)" font-size="73.3" text-anchor="end">14</text>
<text transform="translate(228.5 1976.22) scale(0.9 1)" font-size="73.3" text-anchor="end">16</text>
<text transform="translate(228.5 1830.84) scale(0.9 1)" font-size="73.3" text-anchor="end">18</text>
<text transform="translate(228.5 1685.46) scale(0.9 1)" font-size="73.3" text-anchor="end">20</text>
<text transform="translate(133 2293) rotate(-90)" font-size="78" font-style="italic" text-anchor="middle">Nu</text>
<text transform="translate(968 3100.3) scale(0.968818 1)" font-size="76" text-anchor="middle" font-style="italic">x<tspan font-style="normal">/</tspan>D</text>
<text transform="translate(965 3195.5) scale(0.95 1)" font-size="70" text-anchor="middle">(<tspan font-style="italic">b</tspan>)</text>
<text transform="translate(305 1755) scale(0.907958 1)" font-size="78.5" text-anchor="start">HeXe14.5, case 6, Max(<tspan font-style="italic">T</tspan><tspan font-style="italic" font-size="52" dy="20.8">w</tspan><tspan dy="-20.8">/</tspan><tspan font-style="italic">T</tspan><tspan font-style="italic" font-size="52" dy="20.8">b</tspan><tspan dy="-20.8">) = 1.49</tspan></text>
<rect shape-rendering="crispEdges" x="934" y="1894" width="162" height="3" fill="#505050"/>
<g fill="#000000" shape-rendering="crispEdges"><path d="M1001.5 1882.1L1028.3 1882.1L1028.3 1885.1L1001.5 1885.1ZM1025.3 1882.1L1028.3 1882.1L1028.3 1908.9L1025.3 1908.9ZM1001.5 1905.9L1028.3 1905.9L1028.3 1908.9L1001.5 1908.9ZM1001.5 1882.1L1004.5 1882.1L1004.5 1908.9L1001.5 1908.9ZM1001.5 1882.1L1004.5 1882.1L1028.3 1905.9L1028.3 1908.9L1025.3 1908.9L1001.5 1885.1ZM1001.5 1905.9L1025.3 1882.1L1028.3 1882.1L1028.3 1885.1L1004.5 1908.9L1001.5 1908.9Z"/></g>
<text transform="translate(1112 1921.7) scale(0.904 1)" font-size="78" text-anchor="start">constant property</text>
<rect shape-rendering="crispEdges" x="934" y="1988" width="162" height="3" fill="#ef4040"/>
<g fill="#ff0000" shape-rendering="crispEdges"><ellipse cx="1014.9" cy="1989.5" rx="13.4" ry="14.6" fill="none" stroke="#ff0000" stroke-width="3"/><path d="M1000.5 1973.9L1003.5 1973.9L1029.3 2002.1L1029.3 2005.1L1026.3 2005.1L1000.5 1976.9ZM1000.5 2002.1L1026.3 1973.9L1029.3 1973.9L1029.3 1976.9L1003.5 2005.1L1000.5 2005.1Z"/></g>
<text transform="translate(1112 2015.7) scale(0.904 1)" font-size="78" text-anchor="start">Herwig</text>
<rect shape-rendering="crispEdges" x="934" y="2081" width="162" height="3" fill="#1a6ede"/>
<g fill="#0000ff" shape-rendering="crispEdges"><path d="M997.6 2090.9L1032.2 2090.9L1032.2 2093.9L997.6 2093.9ZM1013.4 2061.2L1016.4 2061.2L1032.2 2090.9L1032.2 2093.9L1029.2 2093.9L1013.4 2064.2ZM997.6 2090.9L1013.4 2061.2L1016.4 2061.2L1016.4 2064.2L1000.6 2093.9L997.6 2093.9ZM995.5 2062.3L998.5 2062.3L1034.3 2099.7L1034.3 2102.7L1031.3 2102.7L995.5 2065.3ZM995.5 2099.7L1031.3 2062.3L1034.3 2062.3L1034.3 2065.3L998.5 2102.7L995.5 2102.7Z"/></g>
<text transform="translate(1112 2108.7) scale(0.904 1)" font-size="78" text-anchor="start">Kays</text>
<rect shape-rendering="crispEdges" x="934" y="2175" width="162" height="3" fill="#38ae6e"/>
<g fill="#008000" shape-rendering="crispEdges"><path d="M997.6 2184.9L1032.2 2184.9L1032.2 2187.9L997.6 2187.9ZM1013.4 2155.2L1016.4 2155.2L1032.2 2184.9L1032.2 2187.9L1029.2 2187.9L1013.4 2158.2ZM997.6 2184.9L1013.4 2155.2L1016.4 2155.2L1016.4 2158.2L1000.6 2187.9L997.6 2187.9ZM995.5 2156.3L998.5 2156.3L1034.3 2193.7L1034.3 2196.7L1031.3 2196.7L995.5 2159.3ZM995.5 2193.7L1031.3 2156.3L1034.3 2156.3L1034.3 2159.3L998.5 2196.7L995.5 2196.7Z"/></g>
<text transform="translate(1112 2202.7) scale(0.904 1)" font-size="78" text-anchor="start">CFD</text>
<rect x="0" y="3197" width="1728" height="33" fill="#fff"/>
</svg>
</body></html>
